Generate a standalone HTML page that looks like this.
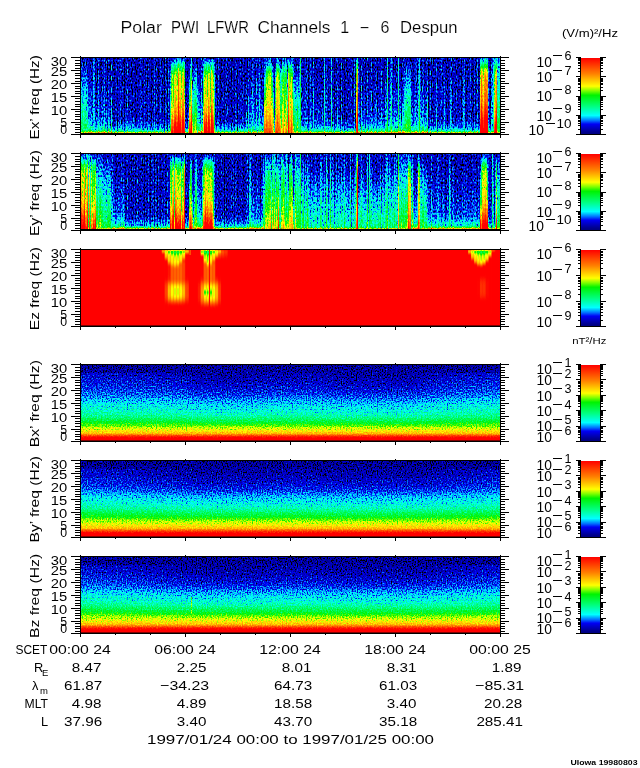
<!DOCTYPE html><html><head><meta charset="utf-8"><title>Polar PWI LFWR</title>
<style>html,body{margin:0;padding:0;background:#fff}svg{display:block}text{font-family:"Liberation Sans",sans-serif;fill:#000}</style></head><body>
<svg width="640" height="768" viewBox="0 0 640 768">
<rect width="640" height="768" fill="#fff"/>
<defs>
<linearGradient id="cb" x1="0" y1="0" x2="0" y2="1"><stop offset="0.0000" stop-color="rgb(255,0,0)"/><stop offset="0.2070" stop-color="rgb(255,128,0)"/><stop offset="0.3710" stop-color="rgb(255,255,0)"/><stop offset="0.4300" stop-color="rgb(130,255,0)"/><stop offset="0.4900" stop-color="rgb(0,243,0)"/><stop offset="0.6350" stop-color="rgb(0,255,128)"/><stop offset="0.7570" stop-color="rgb(0,255,255)"/><stop offset="0.8250" stop-color="rgb(0,110,255)"/><stop offset="0.8700" stop-color="rgb(0,0,245)"/><stop offset="0.9750" stop-color="rgb(0,0,140)"/><stop offset="1.0000" stop-color="rgb(0,0,128)"/></linearGradient>
<filter id="f0" filterUnits="userSpaceOnUse" x="81" y="58" width="419" height="76" color-interpolation-filters="sRGB">
<feTurbulence type="fractalNoise" baseFrequency="0.8 0.45" numOctaves="1" seed="3" result="t"/>
<feColorMatrix in="t" type="matrix" values="1 0 0 0 0 1 0 0 0 0 1 0 0 0 0 0 0 0 0 1" result="n0"/>
<feComponentTransfer in="n0" result="n"><feFuncR type="table" tableValues="0 0 0.02 0.18 0.34 0.5 0.6 0.7 0.8 0.9 1"/><feFuncG type="table" tableValues="0 0 0.02 0.18 0.34 0.5 0.6 0.7 0.8 0.9 1"/><feFuncB type="table" tableValues="0 0 0.02 0.18 0.34 0.5 0.6 0.7 0.8 0.9 1"/></feComponentTransfer>
<feTurbulence type="fractalNoise" baseFrequency="0.7 0.0003" numOctaves="1" seed="23" result="t2"/>
<feColorMatrix in="t2" type="matrix" values="0 1 0 0 0 0 1 0 0 0 0 1 0 0 0 0 0 0 0 1" result="n2"/>
<feComposite in="SourceGraphic" in2="n2" operator="arithmetic" k1="1.2000" k2="0.4000" k3="0" k4="0" result="s1"/>
<feComposite in="s1" in2="n" operator="arithmetic" k1="-0.2720" k2="1.1360" k3="0.3400" k4="-0.1700" result="s"/>
<feComponentTransfer in="s"><feFuncR type="table" tableValues="0.000 0.000 0.000 0.000 0.000 0.000 0.000 0.000 0.000 0.000 0.000 0.000 0.000 0.000 0.000 0.000 0.000 0.000 0.000 0.000 0.000 0.000 0.000 0.000 0.000 0.000 0.000 0.000 0.000 0.000 0.000 0.000 0.000 0.000 0.000 0.000 0.000 0.000 0.000 0.170 0.340 0.510 0.676 0.842 1.000 1.000 1.000 1.000 1.000 1.000 1.000 1.000 1.000 1.000 1.000 1.000 1.000 1.000 1.000 1.000 1.000 1.000 1.000 1.000 1.000 1.000 1.000 1.000 1.000 1.000 1.000 1.000 1.000 1.000 1.000 1.000 1.000 1.000 1.000 1.000 1.000"/><feFuncG type="table" tableValues="0.000 0.000 0.000 0.000 0.000 0.000 0.000 0.000 0.000 0.000 0.000 0.000 0.000 0.000 0.000 0.000 0.000 0.000 0.000 0.000 0.192 0.383 0.557 0.724 0.891 1.000 1.000 1.000 1.000 1.000 1.000 0.998 0.992 0.985 0.979 0.972 0.966 0.959 0.953 0.969 0.984 1.000 1.000 1.000 0.997 0.936 0.875 0.815 0.754 0.693 0.633 0.572 0.511 0.461 0.412 0.364 0.315 0.267 0.218 0.170 0.121 0.073 0.024 0.000 0.000 0.000 0.000 0.000 0.000 0.000 0.000 0.000 0.000 0.000 0.000 0.000 0.000 0.000 0.000 0.000 0.000"/><feFuncB type="table" tableValues="0.000 0.000 0.000 0.000 0.000 0.000 0.000 0.000 0.000 0.000 0.000 0.000 0.084 0.521 0.569 0.647 0.725 0.804 0.882 0.961 0.978 0.996 1.000 1.000 1.000 0.971 0.890 0.808 0.726 0.645 0.563 0.485 0.415 0.346 0.277 0.208 0.138 0.069 0.000 0.000 0.000 0.000 0.000 0.000 0.000 0.000 0.000 0.000 0.000 0.000 0.000 0.000 0.000 0.000 0.000 0.000 0.000 0.000 0.000 0.000 0.000 0.000 0.000 0.000 0.000 0.000 0.000 0.000 0.000 0.000 0.000 0.000 0.000 0.000 0.000 0.000 0.000 0.000 0.000 0.000 0.000"/></feComponentTransfer>
</filter>
<linearGradient id="g0_bg" gradientUnits="userSpaceOnUse" x1="0" y1="58" x2="0" y2="134"><stop offset="0.0000" stop-color="#353535"/><stop offset="0.0500" stop-color="#353535"/><stop offset="0.1000" stop-color="#353535"/><stop offset="0.1500" stop-color="#353535"/><stop offset="0.2000" stop-color="#353535"/><stop offset="0.2500" stop-color="#353535"/><stop offset="0.3000" stop-color="#353535"/><stop offset="0.4000" stop-color="#363636"/><stop offset="0.5000" stop-color="#363636"/><stop offset="0.6000" stop-color="#373737"/><stop offset="0.7000" stop-color="#373737"/><stop offset="0.7667" stop-color="#363636"/><stop offset="0.8333" stop-color="#393939"/><stop offset="0.8667" stop-color="#3d3d3d"/><stop offset="0.9000" stop-color="#434343"/><stop offset="0.9267" stop-color="#4a4a4a"/><stop offset="0.9500" stop-color="#535353"/><stop offset="0.9667" stop-color="#616161"/><stop offset="0.9683" stop-color="#8b8b8b"/><stop offset="0.9850" stop-color="#8b8b8b"/><stop offset="0.9867" stop-color="#000000"/><stop offset="1.0000" stop-color="#000000"/></linearGradient>
<linearGradient id="g0_s0" gradientUnits="userSpaceOnUse" x1="0" y1="58" x2="0" y2="134"><stop offset="0.0000" stop-color="#353535"/><stop offset="0.0500" stop-color="#383838"/><stop offset="0.1000" stop-color="#3b3b3b"/><stop offset="0.1500" stop-color="#3e3e3e"/><stop offset="0.2000" stop-color="#414141"/><stop offset="0.2500" stop-color="#444444"/><stop offset="0.3000" stop-color="#474747"/><stop offset="0.4000" stop-color="#4d4d4d"/><stop offset="0.5000" stop-color="#535353"/><stop offset="0.6000" stop-color="#595959"/><stop offset="0.7000" stop-color="#5f5f5f"/><stop offset="0.7667" stop-color="#636363"/><stop offset="0.8333" stop-color="#676767"/><stop offset="0.8667" stop-color="#696969"/><stop offset="0.9000" stop-color="#6b6b6b"/><stop offset="0.9267" stop-color="#6d6d6d"/><stop offset="0.9500" stop-color="#6e6e6e"/><stop offset="0.9667" stop-color="#6f6f6f"/><stop offset="0.9683" stop-color="#8b8b8b"/><stop offset="0.9850" stop-color="#8b8b8b"/><stop offset="0.9867" stop-color="#000000"/><stop offset="1.0000" stop-color="#000000"/></linearGradient>
<linearGradient id="g0_s1" gradientUnits="userSpaceOnUse" x1="0" y1="58" x2="0" y2="134"><stop offset="0.0000" stop-color="#353535"/><stop offset="0.0500" stop-color="#353535"/><stop offset="0.1000" stop-color="#353535"/><stop offset="0.1500" stop-color="#383838"/><stop offset="0.2000" stop-color="#3b3b3b"/><stop offset="0.2500" stop-color="#3e3e3e"/><stop offset="0.3000" stop-color="#414141"/><stop offset="0.4000" stop-color="#464646"/><stop offset="0.5000" stop-color="#4c4c4c"/><stop offset="0.6000" stop-color="#515151"/><stop offset="0.7000" stop-color="#575757"/><stop offset="0.7667" stop-color="#5b5b5b"/><stop offset="0.8333" stop-color="#5e5e5e"/><stop offset="0.8667" stop-color="#606060"/><stop offset="0.9000" stop-color="#626262"/><stop offset="0.9267" stop-color="#646464"/><stop offset="0.9500" stop-color="#656565"/><stop offset="0.9667" stop-color="#666666"/><stop offset="0.9683" stop-color="#8b8b8b"/><stop offset="0.9850" stop-color="#8b8b8b"/><stop offset="0.9867" stop-color="#000000"/><stop offset="1.0000" stop-color="#000000"/></linearGradient>
<linearGradient id="g0_s2" gradientUnits="userSpaceOnUse" x1="0" y1="58" x2="0" y2="134"><stop offset="0.0000" stop-color="#353535"/><stop offset="0.0500" stop-color="#353535"/><stop offset="0.1000" stop-color="#353535"/><stop offset="0.1500" stop-color="#353535"/><stop offset="0.2000" stop-color="#363636"/><stop offset="0.2500" stop-color="#373737"/><stop offset="0.3000" stop-color="#373737"/><stop offset="0.4000" stop-color="#3a3a3a"/><stop offset="0.5000" stop-color="#3c3c3c"/><stop offset="0.6000" stop-color="#3f3f3f"/><stop offset="0.7000" stop-color="#424242"/><stop offset="0.7667" stop-color="#444444"/><stop offset="0.8333" stop-color="#4a4a4a"/><stop offset="0.8667" stop-color="#4f4f4f"/><stop offset="0.9000" stop-color="#565656"/><stop offset="0.9267" stop-color="#5e5e5e"/><stop offset="0.9500" stop-color="#686868"/><stop offset="0.9667" stop-color="#787878"/><stop offset="0.9683" stop-color="#a1a1a1"/><stop offset="0.9850" stop-color="#a2a2a2"/><stop offset="0.9867" stop-color="#000000"/><stop offset="1.0000" stop-color="#000000"/></linearGradient>
<linearGradient id="g0_s3" gradientUnits="userSpaceOnUse" x1="0" y1="58" x2="0" y2="134"><stop offset="0.0000" stop-color="#484848"/><stop offset="0.0500" stop-color="#494949"/><stop offset="0.1000" stop-color="#494949"/><stop offset="0.1500" stop-color="#4a4a4a"/><stop offset="0.2000" stop-color="#4b4b4b"/><stop offset="0.2500" stop-color="#4c4c4c"/><stop offset="0.3000" stop-color="#4c4c4c"/><stop offset="0.4000" stop-color="#4e4e4e"/><stop offset="0.5000" stop-color="#505050"/><stop offset="0.6000" stop-color="#515151"/><stop offset="0.7000" stop-color="#535353"/><stop offset="0.7667" stop-color="#545454"/><stop offset="0.8333" stop-color="#555555"/><stop offset="0.8667" stop-color="#565656"/><stop offset="0.9000" stop-color="#565656"/><stop offset="0.9267" stop-color="#565656"/><stop offset="0.9500" stop-color="#575757"/><stop offset="0.9667" stop-color="#616161"/><stop offset="0.9683" stop-color="#8b8b8b"/><stop offset="0.9850" stop-color="#8b8b8b"/><stop offset="0.9867" stop-color="#000000"/><stop offset="1.0000" stop-color="#000000"/></linearGradient>
<linearGradient id="g0_s4" gradientUnits="userSpaceOnUse" x1="0" y1="58" x2="0" y2="134"><stop offset="0.0000" stop-color="#353535"/><stop offset="0.0500" stop-color="#353535"/><stop offset="0.1000" stop-color="#353535"/><stop offset="0.1500" stop-color="#353535"/><stop offset="0.2000" stop-color="#363636"/><stop offset="0.2500" stop-color="#363636"/><stop offset="0.3000" stop-color="#373737"/><stop offset="0.4000" stop-color="#383838"/><stop offset="0.5000" stop-color="#3a3a3a"/><stop offset="0.6000" stop-color="#3c3c3c"/><stop offset="0.7000" stop-color="#3f3f3f"/><stop offset="0.7667" stop-color="#404040"/><stop offset="0.8333" stop-color="#444444"/><stop offset="0.8667" stop-color="#494949"/><stop offset="0.9000" stop-color="#505050"/><stop offset="0.9267" stop-color="#585858"/><stop offset="0.9500" stop-color="#616161"/><stop offset="0.9667" stop-color="#707070"/><stop offset="0.9683" stop-color="#9a9a9a"/><stop offset="0.9850" stop-color="#9a9a9a"/><stop offset="0.9867" stop-color="#000000"/><stop offset="1.0000" stop-color="#000000"/></linearGradient>
<linearGradient id="g0_s5" gradientUnits="userSpaceOnUse" x1="0" y1="58" x2="0" y2="134"><stop offset="0.0000" stop-color="#353535"/><stop offset="0.0500" stop-color="#353535"/><stop offset="0.1000" stop-color="#353535"/><stop offset="0.1500" stop-color="#353535"/><stop offset="0.2000" stop-color="#353535"/><stop offset="0.2500" stop-color="#353535"/><stop offset="0.3000" stop-color="#353535"/><stop offset="0.4000" stop-color="#363636"/><stop offset="0.5000" stop-color="#363636"/><stop offset="0.6000" stop-color="#373737"/><stop offset="0.7000" stop-color="#373737"/><stop offset="0.7667" stop-color="#363636"/><stop offset="0.8333" stop-color="#404040"/><stop offset="0.8667" stop-color="#454545"/><stop offset="0.9000" stop-color="#494949"/><stop offset="0.9267" stop-color="#4d4d4d"/><stop offset="0.9500" stop-color="#535353"/><stop offset="0.9667" stop-color="#616161"/><stop offset="0.9683" stop-color="#8b8b8b"/><stop offset="0.9850" stop-color="#8b8b8b"/><stop offset="0.9867" stop-color="#000000"/><stop offset="1.0000" stop-color="#000000"/></linearGradient>
<linearGradient id="g0_s6" gradientUnits="userSpaceOnUse" x1="0" y1="58" x2="0" y2="134"><stop offset="0.0000" stop-color="#383838"/><stop offset="0.0500" stop-color="#3c3c3c"/><stop offset="0.1000" stop-color="#404040"/><stop offset="0.1500" stop-color="#444444"/><stop offset="0.2000" stop-color="#484848"/><stop offset="0.2500" stop-color="#4c4c4c"/><stop offset="0.3000" stop-color="#505050"/><stop offset="0.4000" stop-color="#585858"/><stop offset="0.5000" stop-color="#606060"/><stop offset="0.6000" stop-color="#686868"/><stop offset="0.7000" stop-color="#707070"/><stop offset="0.7667" stop-color="#757575"/><stop offset="0.8333" stop-color="#7a7a7a"/><stop offset="0.8667" stop-color="#7d7d7d"/><stop offset="0.9000" stop-color="#7f7f7f"/><stop offset="0.9267" stop-color="#828282"/><stop offset="0.9500" stop-color="#838383"/><stop offset="0.9667" stop-color="#858585"/><stop offset="0.9683" stop-color="#8b8b8b"/><stop offset="0.9850" stop-color="#8b8b8b"/><stop offset="0.9867" stop-color="#000000"/><stop offset="1.0000" stop-color="#000000"/></linearGradient>
<linearGradient id="g0_s7" gradientUnits="userSpaceOnUse" x1="0" y1="58" x2="0" y2="134"><stop offset="0.0000" stop-color="#3b3b3b"/><stop offset="0.0500" stop-color="#494949"/><stop offset="0.1000" stop-color="#5d5d5d"/><stop offset="0.1500" stop-color="#6f6f6f"/><stop offset="0.2000" stop-color="#808080"/><stop offset="0.2500" stop-color="#878787"/><stop offset="0.3000" stop-color="#8b8b8b"/><stop offset="0.4000" stop-color="#8d8d8d"/><stop offset="0.5000" stop-color="#919191"/><stop offset="0.6000" stop-color="#979797"/><stop offset="0.7000" stop-color="#a1a1a1"/><stop offset="0.7667" stop-color="#acacac"/><stop offset="0.8333" stop-color="#b9b9b9"/><stop offset="0.8667" stop-color="#c1c1c1"/><stop offset="0.9000" stop-color="#c9c9c9"/><stop offset="0.9267" stop-color="#cfcfcf"/><stop offset="0.9500" stop-color="#d4d4d4"/><stop offset="0.9667" stop-color="#d8d8d8"/><stop offset="0.9683" stop-color="#d8d8d8"/><stop offset="0.9850" stop-color="#dcdcdc"/><stop offset="0.9867" stop-color="#000000"/><stop offset="1.0000" stop-color="#000000"/></linearGradient>
<linearGradient id="g0_s8" gradientUnits="userSpaceOnUse" x1="0" y1="58" x2="0" y2="134"><stop offset="0.0000" stop-color="#414141"/><stop offset="0.0500" stop-color="#505050"/><stop offset="0.1000" stop-color="#646464"/><stop offset="0.1500" stop-color="#757575"/><stop offset="0.2000" stop-color="#868686"/><stop offset="0.2500" stop-color="#8e8e8e"/><stop offset="0.3000" stop-color="#919191"/><stop offset="0.4000" stop-color="#939393"/><stop offset="0.5000" stop-color="#979797"/><stop offset="0.6000" stop-color="#9e9e9e"/><stop offset="0.7000" stop-color="#a7a7a7"/><stop offset="0.7667" stop-color="#b2b2b2"/><stop offset="0.8333" stop-color="#c0c0c0"/><stop offset="0.8667" stop-color="#c7c7c7"/><stop offset="0.9000" stop-color="#cfcfcf"/><stop offset="0.9267" stop-color="#d6d6d6"/><stop offset="0.9500" stop-color="#dbdbdb"/><stop offset="0.9667" stop-color="#dedede"/><stop offset="0.9683" stop-color="#dfdfdf"/><stop offset="0.9850" stop-color="#e2e2e2"/><stop offset="0.9867" stop-color="#000000"/><stop offset="1.0000" stop-color="#000000"/></linearGradient>
<linearGradient id="g0_s9" gradientUnits="userSpaceOnUse" x1="0" y1="58" x2="0" y2="134"><stop offset="0.0000" stop-color="#404040"/><stop offset="0.0500" stop-color="#464646"/><stop offset="0.1000" stop-color="#4c4c4c"/><stop offset="0.1500" stop-color="#525252"/><stop offset="0.2000" stop-color="#585858"/><stop offset="0.2500" stop-color="#5e5e5e"/><stop offset="0.3000" stop-color="#646464"/><stop offset="0.4000" stop-color="#707070"/><stop offset="0.5000" stop-color="#7c7c7c"/><stop offset="0.6000" stop-color="#878787"/><stop offset="0.7000" stop-color="#939393"/><stop offset="0.7667" stop-color="#9b9b9b"/><stop offset="0.8333" stop-color="#a3a3a3"/><stop offset="0.8667" stop-color="#a7a7a7"/><stop offset="0.9000" stop-color="#ababab"/><stop offset="0.9267" stop-color="#afafaf"/><stop offset="0.9500" stop-color="#b1b1b1"/><stop offset="0.9667" stop-color="#b3b3b3"/><stop offset="0.9683" stop-color="#b3b3b3"/><stop offset="0.9850" stop-color="#b5b5b5"/><stop offset="0.9867" stop-color="#000000"/><stop offset="1.0000" stop-color="#000000"/></linearGradient>
<linearGradient id="g0_s10" gradientUnits="userSpaceOnUse" x1="0" y1="58" x2="0" y2="134"><stop offset="0.0000" stop-color="#353535"/><stop offset="0.0500" stop-color="#393939"/><stop offset="0.1000" stop-color="#4d4d4d"/><stop offset="0.1500" stop-color="#5f5f5f"/><stop offset="0.2000" stop-color="#707070"/><stop offset="0.2500" stop-color="#787878"/><stop offset="0.3000" stop-color="#7b7b7b"/><stop offset="0.4000" stop-color="#7d7d7d"/><stop offset="0.5000" stop-color="#818181"/><stop offset="0.6000" stop-color="#888888"/><stop offset="0.7000" stop-color="#919191"/><stop offset="0.7667" stop-color="#9c9c9c"/><stop offset="0.8333" stop-color="#a9a9a9"/><stop offset="0.8667" stop-color="#b1b1b1"/><stop offset="0.9000" stop-color="#b9b9b9"/><stop offset="0.9267" stop-color="#bfbfbf"/><stop offset="0.9500" stop-color="#c4c4c4"/><stop offset="0.9667" stop-color="#c8c8c8"/><stop offset="0.9683" stop-color="#c8c8c8"/><stop offset="0.9850" stop-color="#cccccc"/><stop offset="0.9867" stop-color="#000000"/><stop offset="1.0000" stop-color="#000000"/></linearGradient>
<linearGradient id="g0_s11" gradientUnits="userSpaceOnUse" x1="0" y1="58" x2="0" y2="134"><stop offset="0.0000" stop-color="#353535"/><stop offset="0.0500" stop-color="#353535"/><stop offset="0.1000" stop-color="#383838"/><stop offset="0.1500" stop-color="#3c3c3c"/><stop offset="0.2000" stop-color="#414141"/><stop offset="0.2500" stop-color="#454545"/><stop offset="0.3000" stop-color="#494949"/><stop offset="0.4000" stop-color="#525252"/><stop offset="0.5000" stop-color="#5a5a5a"/><stop offset="0.6000" stop-color="#626262"/><stop offset="0.7000" stop-color="#6b6b6b"/><stop offset="0.7667" stop-color="#717171"/><stop offset="0.8333" stop-color="#767676"/><stop offset="0.8667" stop-color="#797979"/><stop offset="0.9000" stop-color="#7c7c7c"/><stop offset="0.9267" stop-color="#7e7e7e"/><stop offset="0.9500" stop-color="#808080"/><stop offset="0.9667" stop-color="#818181"/><stop offset="0.9683" stop-color="#8b8b8b"/><stop offset="0.9850" stop-color="#8b8b8b"/><stop offset="0.9867" stop-color="#000000"/><stop offset="1.0000" stop-color="#000000"/></linearGradient>
<linearGradient id="g0_s12" gradientUnits="userSpaceOnUse" x1="0" y1="58" x2="0" y2="134"><stop offset="0.0000" stop-color="#353535"/><stop offset="0.0500" stop-color="#353535"/><stop offset="0.1000" stop-color="#353535"/><stop offset="0.1500" stop-color="#363636"/><stop offset="0.2000" stop-color="#363636"/><stop offset="0.2500" stop-color="#373737"/><stop offset="0.3000" stop-color="#383838"/><stop offset="0.4000" stop-color="#3b3b3b"/><stop offset="0.5000" stop-color="#3e3e3e"/><stop offset="0.6000" stop-color="#424242"/><stop offset="0.7000" stop-color="#464646"/><stop offset="0.7667" stop-color="#494949"/><stop offset="0.8333" stop-color="#505050"/><stop offset="0.8667" stop-color="#555555"/><stop offset="0.9000" stop-color="#5d5d5d"/><stop offset="0.9267" stop-color="#656565"/><stop offset="0.9500" stop-color="#707070"/><stop offset="0.9667" stop-color="#7f7f7f"/><stop offset="0.9683" stop-color="#a9a9a9"/><stop offset="0.9850" stop-color="#aaaaaa"/><stop offset="0.9867" stop-color="#000000"/><stop offset="1.0000" stop-color="#000000"/></linearGradient>
<linearGradient id="g0_s13" gradientUnits="userSpaceOnUse" x1="0" y1="58" x2="0" y2="134"><stop offset="0.0000" stop-color="#404040"/><stop offset="0.0500" stop-color="#444444"/><stop offset="0.1000" stop-color="#494949"/><stop offset="0.1500" stop-color="#4d4d4d"/><stop offset="0.2000" stop-color="#515151"/><stop offset="0.2500" stop-color="#565656"/><stop offset="0.3000" stop-color="#5a5a5a"/><stop offset="0.4000" stop-color="#636363"/><stop offset="0.5000" stop-color="#6c6c6c"/><stop offset="0.6000" stop-color="#747474"/><stop offset="0.7000" stop-color="#7d7d7d"/><stop offset="0.7667" stop-color="#838383"/><stop offset="0.8333" stop-color="#898989"/><stop offset="0.8667" stop-color="#8c8c8c"/><stop offset="0.9000" stop-color="#8f8f8f"/><stop offset="0.9267" stop-color="#919191"/><stop offset="0.9500" stop-color="#939393"/><stop offset="0.9667" stop-color="#949494"/><stop offset="0.9683" stop-color="#959595"/><stop offset="0.9850" stop-color="#969696"/><stop offset="0.9867" stop-color="#000000"/><stop offset="1.0000" stop-color="#000000"/></linearGradient>
<linearGradient id="g0_s14" gradientUnits="userSpaceOnUse" x1="0" y1="58" x2="0" y2="134"><stop offset="0.0000" stop-color="#404040"/><stop offset="0.0500" stop-color="#424242"/><stop offset="0.1000" stop-color="#444444"/><stop offset="0.1500" stop-color="#464646"/><stop offset="0.2000" stop-color="#484848"/><stop offset="0.2500" stop-color="#4a4a4a"/><stop offset="0.3000" stop-color="#4c4c4c"/><stop offset="0.4000" stop-color="#505050"/><stop offset="0.5000" stop-color="#545454"/><stop offset="0.6000" stop-color="#585858"/><stop offset="0.7000" stop-color="#5c5c5c"/><stop offset="0.7667" stop-color="#5e5e5e"/><stop offset="0.8333" stop-color="#616161"/><stop offset="0.8667" stop-color="#626262"/><stop offset="0.9000" stop-color="#646464"/><stop offset="0.9267" stop-color="#656565"/><stop offset="0.9500" stop-color="#666666"/><stop offset="0.9667" stop-color="#666666"/><stop offset="0.9683" stop-color="#8b8b8b"/><stop offset="0.9850" stop-color="#8b8b8b"/><stop offset="0.9867" stop-color="#000000"/><stop offset="1.0000" stop-color="#000000"/></linearGradient>
<linearGradient id="g0_s15" gradientUnits="userSpaceOnUse" x1="0" y1="58" x2="0" y2="134"><stop offset="0.0000" stop-color="#383838"/><stop offset="0.0500" stop-color="#3d3d3d"/><stop offset="0.1000" stop-color="#414141"/><stop offset="0.1500" stop-color="#464646"/><stop offset="0.2000" stop-color="#4b4b4b"/><stop offset="0.2500" stop-color="#505050"/><stop offset="0.3000" stop-color="#545454"/><stop offset="0.4000" stop-color="#5e5e5e"/><stop offset="0.5000" stop-color="#686868"/><stop offset="0.6000" stop-color="#717171"/><stop offset="0.7000" stop-color="#7b7b7b"/><stop offset="0.7667" stop-color="#818181"/><stop offset="0.8333" stop-color="#878787"/><stop offset="0.8667" stop-color="#8b8b8b"/><stop offset="0.9000" stop-color="#8e8e8e"/><stop offset="0.9267" stop-color="#909090"/><stop offset="0.9500" stop-color="#939393"/><stop offset="0.9667" stop-color="#949494"/><stop offset="0.9683" stop-color="#949494"/><stop offset="0.9850" stop-color="#969696"/><stop offset="0.9867" stop-color="#000000"/><stop offset="1.0000" stop-color="#000000"/></linearGradient>
<linearGradient id="g0_s16" gradientUnits="userSpaceOnUse" x1="0" y1="58" x2="0" y2="134"><stop offset="0.0000" stop-color="#353535"/><stop offset="0.0500" stop-color="#3d3d3d"/><stop offset="0.1000" stop-color="#4c4c4c"/><stop offset="0.1500" stop-color="#606060"/><stop offset="0.2000" stop-color="#6e6e6e"/><stop offset="0.2500" stop-color="#787878"/><stop offset="0.3000" stop-color="#7b7b7b"/><stop offset="0.4000" stop-color="#808080"/><stop offset="0.5000" stop-color="#838383"/><stop offset="0.6000" stop-color="#878787"/><stop offset="0.7000" stop-color="#8c8c8c"/><stop offset="0.7667" stop-color="#919191"/><stop offset="0.8333" stop-color="#969696"/><stop offset="0.8667" stop-color="#9a9a9a"/><stop offset="0.9000" stop-color="#9e9e9e"/><stop offset="0.9267" stop-color="#a2a2a2"/><stop offset="0.9500" stop-color="#a5a5a5"/><stop offset="0.9667" stop-color="#a7a7a7"/><stop offset="0.9683" stop-color="#a7a7a7"/><stop offset="0.9850" stop-color="#a9a9a9"/><stop offset="0.9867" stop-color="#000000"/><stop offset="1.0000" stop-color="#000000"/></linearGradient>
<linearGradient id="g0_s17" gradientUnits="userSpaceOnUse" x1="0" y1="58" x2="0" y2="134"><stop offset="0.0000" stop-color="#3e3e3e"/><stop offset="0.0500" stop-color="#494949"/><stop offset="0.1000" stop-color="#595959"/><stop offset="0.1500" stop-color="#6c6c6c"/><stop offset="0.2000" stop-color="#7b7b7b"/><stop offset="0.2500" stop-color="#848484"/><stop offset="0.3000" stop-color="#888888"/><stop offset="0.4000" stop-color="#8d8d8d"/><stop offset="0.5000" stop-color="#8f8f8f"/><stop offset="0.6000" stop-color="#939393"/><stop offset="0.7000" stop-color="#989898"/><stop offset="0.7667" stop-color="#9d9d9d"/><stop offset="0.8333" stop-color="#a3a3a3"/><stop offset="0.8667" stop-color="#a7a7a7"/><stop offset="0.9000" stop-color="#ababab"/><stop offset="0.9267" stop-color="#aeaeae"/><stop offset="0.9500" stop-color="#b1b1b1"/><stop offset="0.9667" stop-color="#b3b3b3"/><stop offset="0.9683" stop-color="#b3b3b3"/><stop offset="0.9850" stop-color="#b5b5b5"/><stop offset="0.9867" stop-color="#000000"/><stop offset="1.0000" stop-color="#000000"/></linearGradient>
<linearGradient id="g0_s18" gradientUnits="userSpaceOnUse" x1="0" y1="58" x2="0" y2="134"><stop offset="0.0000" stop-color="#353535"/><stop offset="0.0500" stop-color="#393939"/><stop offset="0.1000" stop-color="#494949"/><stop offset="0.1500" stop-color="#5c5c5c"/><stop offset="0.2000" stop-color="#6b6b6b"/><stop offset="0.2500" stop-color="#747474"/><stop offset="0.3000" stop-color="#787878"/><stop offset="0.4000" stop-color="#7d7d7d"/><stop offset="0.5000" stop-color="#808080"/><stop offset="0.6000" stop-color="#838383"/><stop offset="0.7000" stop-color="#888888"/><stop offset="0.7667" stop-color="#8e8e8e"/><stop offset="0.8333" stop-color="#939393"/><stop offset="0.8667" stop-color="#979797"/><stop offset="0.9000" stop-color="#9b9b9b"/><stop offset="0.9267" stop-color="#9f9f9f"/><stop offset="0.9500" stop-color="#a1a1a1"/><stop offset="0.9667" stop-color="#a3a3a3"/><stop offset="0.9683" stop-color="#a4a4a4"/><stop offset="0.9850" stop-color="#a6a6a6"/><stop offset="0.9867" stop-color="#000000"/><stop offset="1.0000" stop-color="#000000"/></linearGradient>
<linearGradient id="g0_s19" gradientUnits="userSpaceOnUse" x1="0" y1="58" x2="0" y2="134"><stop offset="0.0000" stop-color="#353535"/><stop offset="0.0500" stop-color="#363636"/><stop offset="0.1000" stop-color="#464646"/><stop offset="0.1500" stop-color="#595959"/><stop offset="0.2000" stop-color="#686868"/><stop offset="0.2500" stop-color="#717171"/><stop offset="0.3000" stop-color="#757575"/><stop offset="0.4000" stop-color="#797979"/><stop offset="0.5000" stop-color="#7c7c7c"/><stop offset="0.6000" stop-color="#808080"/><stop offset="0.7000" stop-color="#858585"/><stop offset="0.7667" stop-color="#8a8a8a"/><stop offset="0.8333" stop-color="#8f8f8f"/><stop offset="0.8667" stop-color="#949494"/><stop offset="0.9000" stop-color="#989898"/><stop offset="0.9267" stop-color="#9b9b9b"/><stop offset="0.9500" stop-color="#9e9e9e"/><stop offset="0.9667" stop-color="#a0a0a0"/><stop offset="0.9683" stop-color="#a0a0a0"/><stop offset="0.9850" stop-color="#a2a2a2"/><stop offset="0.9867" stop-color="#000000"/><stop offset="1.0000" stop-color="#000000"/></linearGradient>
<linearGradient id="g0_s20" gradientUnits="userSpaceOnUse" x1="0" y1="58" x2="0" y2="134"><stop offset="0.0000" stop-color="#383838"/><stop offset="0.0500" stop-color="#434343"/><stop offset="0.1000" stop-color="#535353"/><stop offset="0.1500" stop-color="#666666"/><stop offset="0.2000" stop-color="#747474"/><stop offset="0.2500" stop-color="#7e7e7e"/><stop offset="0.3000" stop-color="#828282"/><stop offset="0.4000" stop-color="#868686"/><stop offset="0.5000" stop-color="#898989"/><stop offset="0.6000" stop-color="#8d8d8d"/><stop offset="0.7000" stop-color="#929292"/><stop offset="0.7667" stop-color="#979797"/><stop offset="0.8333" stop-color="#9c9c9c"/><stop offset="0.8667" stop-color="#a0a0a0"/><stop offset="0.9000" stop-color="#a5a5a5"/><stop offset="0.9267" stop-color="#a8a8a8"/><stop offset="0.9500" stop-color="#ababab"/><stop offset="0.9667" stop-color="#adadad"/><stop offset="0.9683" stop-color="#adadad"/><stop offset="0.9850" stop-color="#afafaf"/><stop offset="0.9867" stop-color="#000000"/><stop offset="1.0000" stop-color="#000000"/></linearGradient>
<linearGradient id="g0_s21" gradientUnits="userSpaceOnUse" x1="0" y1="58" x2="0" y2="134"><stop offset="0.0000" stop-color="#484848"/><stop offset="0.0500" stop-color="#4a4a4a"/><stop offset="0.1000" stop-color="#4c4c4c"/><stop offset="0.1500" stop-color="#4f4f4f"/><stop offset="0.2000" stop-color="#515151"/><stop offset="0.2500" stop-color="#545454"/><stop offset="0.3000" stop-color="#565656"/><stop offset="0.4000" stop-color="#5b5b5b"/><stop offset="0.5000" stop-color="#606060"/><stop offset="0.6000" stop-color="#646464"/><stop offset="0.7000" stop-color="#696969"/><stop offset="0.7667" stop-color="#6c6c6c"/><stop offset="0.8333" stop-color="#707070"/><stop offset="0.8667" stop-color="#717171"/><stop offset="0.9000" stop-color="#737373"/><stop offset="0.9267" stop-color="#747474"/><stop offset="0.9500" stop-color="#757575"/><stop offset="0.9667" stop-color="#767676"/><stop offset="0.9683" stop-color="#8b8b8b"/><stop offset="0.9850" stop-color="#8b8b8b"/><stop offset="0.9867" stop-color="#000000"/><stop offset="1.0000" stop-color="#000000"/></linearGradient>
<linearGradient id="g0_s22" gradientUnits="userSpaceOnUse" x1="0" y1="58" x2="0" y2="134"><stop offset="0.0000" stop-color="#404040"/><stop offset="0.0500" stop-color="#444444"/><stop offset="0.1000" stop-color="#494949"/><stop offset="0.1500" stop-color="#4d4d4d"/><stop offset="0.2000" stop-color="#525252"/><stop offset="0.2500" stop-color="#565656"/><stop offset="0.3000" stop-color="#5b5b5b"/><stop offset="0.4000" stop-color="#646464"/><stop offset="0.5000" stop-color="#6d6d6d"/><stop offset="0.6000" stop-color="#767676"/><stop offset="0.7000" stop-color="#7f7f7f"/><stop offset="0.7667" stop-color="#858585"/><stop offset="0.8333" stop-color="#8b8b8b"/><stop offset="0.8667" stop-color="#8e8e8e"/><stop offset="0.9000" stop-color="#929292"/><stop offset="0.9267" stop-color="#949494"/><stop offset="0.9500" stop-color="#969696"/><stop offset="0.9667" stop-color="#989898"/><stop offset="0.9683" stop-color="#989898"/><stop offset="0.9850" stop-color="#999999"/><stop offset="0.9867" stop-color="#000000"/><stop offset="1.0000" stop-color="#000000"/></linearGradient>
<linearGradient id="g0_s23" gradientUnits="userSpaceOnUse" x1="0" y1="58" x2="0" y2="134"><stop offset="0.0000" stop-color="#3b3b3b"/><stop offset="0.0500" stop-color="#464646"/><stop offset="0.1000" stop-color="#565656"/><stop offset="0.1500" stop-color="#696969"/><stop offset="0.2000" stop-color="#787878"/><stop offset="0.2500" stop-color="#818181"/><stop offset="0.3000" stop-color="#858585"/><stop offset="0.4000" stop-color="#898989"/><stop offset="0.5000" stop-color="#8c8c8c"/><stop offset="0.6000" stop-color="#909090"/><stop offset="0.7000" stop-color="#959595"/><stop offset="0.7667" stop-color="#9a9a9a"/><stop offset="0.8333" stop-color="#9f9f9f"/><stop offset="0.8667" stop-color="#a4a4a4"/><stop offset="0.9000" stop-color="#a8a8a8"/><stop offset="0.9267" stop-color="#ababab"/><stop offset="0.9500" stop-color="#aeaeae"/><stop offset="0.9667" stop-color="#b0b0b0"/><stop offset="0.9683" stop-color="#b0b0b0"/><stop offset="0.9850" stop-color="#b2b2b2"/><stop offset="0.9867" stop-color="#000000"/><stop offset="1.0000" stop-color="#000000"/></linearGradient>
<linearGradient id="g0_s24" gradientUnits="userSpaceOnUse" x1="0" y1="58" x2="0" y2="134"><stop offset="0.0000" stop-color="#353535"/><stop offset="0.0500" stop-color="#353535"/><stop offset="0.1000" stop-color="#353535"/><stop offset="0.1500" stop-color="#373737"/><stop offset="0.2000" stop-color="#3a3a3a"/><stop offset="0.2500" stop-color="#3e3e3e"/><stop offset="0.3000" stop-color="#424242"/><stop offset="0.4000" stop-color="#4a4a4a"/><stop offset="0.5000" stop-color="#515151"/><stop offset="0.6000" stop-color="#595959"/><stop offset="0.7000" stop-color="#616161"/><stop offset="0.7667" stop-color="#666666"/><stop offset="0.8333" stop-color="#6b6b6b"/><stop offset="0.8667" stop-color="#6d6d6d"/><stop offset="0.9000" stop-color="#707070"/><stop offset="0.9267" stop-color="#727272"/><stop offset="0.9500" stop-color="#747474"/><stop offset="0.9667" stop-color="#757575"/><stop offset="0.9683" stop-color="#8b8b8b"/><stop offset="0.9850" stop-color="#8b8b8b"/><stop offset="0.9867" stop-color="#000000"/><stop offset="1.0000" stop-color="#000000"/></linearGradient>
<linearGradient id="g0_s25" gradientUnits="userSpaceOnUse" x1="0" y1="58" x2="0" y2="134"><stop offset="0.0000" stop-color="#787878"/><stop offset="0.0500" stop-color="#787878"/><stop offset="0.1000" stop-color="#797979"/><stop offset="0.1500" stop-color="#7a7a7a"/><stop offset="0.2000" stop-color="#7b7b7b"/><stop offset="0.2500" stop-color="#7c7c7c"/><stop offset="0.3000" stop-color="#7c7c7c"/><stop offset="0.4000" stop-color="#7e7e7e"/><stop offset="0.5000" stop-color="#808080"/><stop offset="0.6000" stop-color="#818181"/><stop offset="0.7000" stop-color="#838383"/><stop offset="0.7667" stop-color="#848484"/><stop offset="0.8333" stop-color="#858585"/><stop offset="0.8667" stop-color="#858585"/><stop offset="0.9000" stop-color="#868686"/><stop offset="0.9267" stop-color="#868686"/><stop offset="0.9500" stop-color="#878787"/><stop offset="0.9667" stop-color="#878787"/><stop offset="0.9683" stop-color="#8b8b8b"/><stop offset="0.9850" stop-color="#8b8b8b"/><stop offset="0.9867" stop-color="#000000"/><stop offset="1.0000" stop-color="#000000"/></linearGradient>
<linearGradient id="g0_s26" gradientUnits="userSpaceOnUse" x1="0" y1="58" x2="0" y2="134"><stop offset="0.0000" stop-color="#353535"/><stop offset="0.0500" stop-color="#353535"/><stop offset="0.1000" stop-color="#353535"/><stop offset="0.1500" stop-color="#353535"/><stop offset="0.2000" stop-color="#353535"/><stop offset="0.2500" stop-color="#363636"/><stop offset="0.3000" stop-color="#363636"/><stop offset="0.4000" stop-color="#373737"/><stop offset="0.5000" stop-color="#383838"/><stop offset="0.6000" stop-color="#3a3a3a"/><stop offset="0.7000" stop-color="#3b3b3b"/><stop offset="0.7667" stop-color="#3b3b3b"/><stop offset="0.8333" stop-color="#3f3f3f"/><stop offset="0.8667" stop-color="#434343"/><stop offset="0.9000" stop-color="#494949"/><stop offset="0.9267" stop-color="#515151"/><stop offset="0.9500" stop-color="#5a5a5a"/><stop offset="0.9667" stop-color="#696969"/><stop offset="0.9683" stop-color="#929292"/><stop offset="0.9850" stop-color="#929292"/><stop offset="0.9867" stop-color="#000000"/><stop offset="1.0000" stop-color="#000000"/></linearGradient>
<linearGradient id="g0_s27" gradientUnits="userSpaceOnUse" x1="0" y1="58" x2="0" y2="134"><stop offset="0.0000" stop-color="#404040"/><stop offset="0.0500" stop-color="#414141"/><stop offset="0.1000" stop-color="#424242"/><stop offset="0.1500" stop-color="#434343"/><stop offset="0.2000" stop-color="#454545"/><stop offset="0.2500" stop-color="#464646"/><stop offset="0.3000" stop-color="#474747"/><stop offset="0.4000" stop-color="#494949"/><stop offset="0.5000" stop-color="#4c4c4c"/><stop offset="0.6000" stop-color="#4e4e4e"/><stop offset="0.7000" stop-color="#505050"/><stop offset="0.7667" stop-color="#525252"/><stop offset="0.8333" stop-color="#545454"/><stop offset="0.8667" stop-color="#545454"/><stop offset="0.9000" stop-color="#555555"/><stop offset="0.9267" stop-color="#565656"/><stop offset="0.9500" stop-color="#565656"/><stop offset="0.9667" stop-color="#616161"/><stop offset="0.9683" stop-color="#8b8b8b"/><stop offset="0.9850" stop-color="#8b8b8b"/><stop offset="0.9867" stop-color="#000000"/><stop offset="1.0000" stop-color="#000000"/></linearGradient>
<linearGradient id="g0_s28" gradientUnits="userSpaceOnUse" x1="0" y1="58" x2="0" y2="134"><stop offset="0.0000" stop-color="#4e4e4e"/><stop offset="0.0500" stop-color="#5c5c5c"/><stop offset="0.1000" stop-color="#707070"/><stop offset="0.1500" stop-color="#828282"/><stop offset="0.2000" stop-color="#939393"/><stop offset="0.2500" stop-color="#9b9b9b"/><stop offset="0.3000" stop-color="#9e9e9e"/><stop offset="0.4000" stop-color="#a0a0a0"/><stop offset="0.5000" stop-color="#a4a4a4"/><stop offset="0.6000" stop-color="#ababab"/><stop offset="0.7000" stop-color="#b4b4b4"/><stop offset="0.7667" stop-color="#bfbfbf"/><stop offset="0.8333" stop-color="#cccccc"/><stop offset="0.8667" stop-color="#d4d4d4"/><stop offset="0.9000" stop-color="#dcdcdc"/><stop offset="0.9267" stop-color="#e2e2e2"/><stop offset="0.9500" stop-color="#e7e7e7"/><stop offset="0.9667" stop-color="#ebebeb"/><stop offset="0.9683" stop-color="#ebebeb"/><stop offset="0.9850" stop-color="#efefef"/><stop offset="0.9867" stop-color="#000000"/><stop offset="1.0000" stop-color="#000000"/></linearGradient>
<linearGradient id="g0_s29" gradientUnits="userSpaceOnUse" x1="0" y1="58" x2="0" y2="134"><stop offset="0.0000" stop-color="#353535"/><stop offset="0.0500" stop-color="#353535"/><stop offset="0.1000" stop-color="#353535"/><stop offset="0.1500" stop-color="#353535"/><stop offset="0.2000" stop-color="#363636"/><stop offset="0.2500" stop-color="#363636"/><stop offset="0.3000" stop-color="#363636"/><stop offset="0.4000" stop-color="#383838"/><stop offset="0.5000" stop-color="#393939"/><stop offset="0.6000" stop-color="#3b3b3b"/><stop offset="0.7000" stop-color="#3d3d3d"/><stop offset="0.7667" stop-color="#3e3e3e"/><stop offset="0.8333" stop-color="#424242"/><stop offset="0.8667" stop-color="#464646"/><stop offset="0.9000" stop-color="#4d4d4d"/><stop offset="0.9267" stop-color="#555555"/><stop offset="0.9500" stop-color="#5e5e5e"/><stop offset="0.9667" stop-color="#6d6d6d"/><stop offset="0.9683" stop-color="#979797"/><stop offset="0.9850" stop-color="#979797"/><stop offset="0.9867" stop-color="#000000"/><stop offset="1.0000" stop-color="#000000"/></linearGradient>
<linearGradient id="g0_s30" gradientUnits="userSpaceOnUse" x1="0" y1="58" x2="0" y2="134"><stop offset="0.0000" stop-color="#484848"/><stop offset="0.0500" stop-color="#4a4a4a"/><stop offset="0.1000" stop-color="#4c4c4c"/><stop offset="0.1500" stop-color="#4e4e4e"/><stop offset="0.2000" stop-color="#505050"/><stop offset="0.2500" stop-color="#525252"/><stop offset="0.3000" stop-color="#545454"/><stop offset="0.4000" stop-color="#585858"/><stop offset="0.5000" stop-color="#5c5c5c"/><stop offset="0.6000" stop-color="#606060"/><stop offset="0.7000" stop-color="#646464"/><stop offset="0.7667" stop-color="#666666"/><stop offset="0.8333" stop-color="#696969"/><stop offset="0.8667" stop-color="#6a6a6a"/><stop offset="0.9000" stop-color="#6c6c6c"/><stop offset="0.9267" stop-color="#6d6d6d"/><stop offset="0.9500" stop-color="#6e6e6e"/><stop offset="0.9667" stop-color="#6e6e6e"/><stop offset="0.9683" stop-color="#8b8b8b"/><stop offset="0.9850" stop-color="#8b8b8b"/><stop offset="0.9867" stop-color="#000000"/><stop offset="1.0000" stop-color="#000000"/></linearGradient>
<linearGradient id="g0_s31" gradientUnits="userSpaceOnUse" x1="0" y1="58" x2="0" y2="134"><stop offset="0.0000" stop-color="#353535"/><stop offset="0.0500" stop-color="#383838"/><stop offset="0.1000" stop-color="#3c3c3c"/><stop offset="0.1500" stop-color="#3f3f3f"/><stop offset="0.2000" stop-color="#434343"/><stop offset="0.2500" stop-color="#464646"/><stop offset="0.3000" stop-color="#4a4a4a"/><stop offset="0.4000" stop-color="#515151"/><stop offset="0.5000" stop-color="#585858"/><stop offset="0.6000" stop-color="#5f5f5f"/><stop offset="0.7000" stop-color="#666666"/><stop offset="0.7667" stop-color="#6a6a6a"/><stop offset="0.8333" stop-color="#6f6f6f"/><stop offset="0.8667" stop-color="#717171"/><stop offset="0.9000" stop-color="#747474"/><stop offset="0.9267" stop-color="#767676"/><stop offset="0.9500" stop-color="#777777"/><stop offset="0.9667" stop-color="#787878"/><stop offset="0.9683" stop-color="#8b8b8b"/><stop offset="0.9850" stop-color="#8b8b8b"/><stop offset="0.9867" stop-color="#000000"/><stop offset="1.0000" stop-color="#000000"/></linearGradient>
<linearGradient id="g0_s32" gradientUnits="userSpaceOnUse" x1="0" y1="58" x2="0" y2="134"><stop offset="0.0000" stop-color="#484848"/><stop offset="0.0500" stop-color="#4b4b4b"/><stop offset="0.1000" stop-color="#4d4d4d"/><stop offset="0.1500" stop-color="#505050"/><stop offset="0.2000" stop-color="#535353"/><stop offset="0.2500" stop-color="#565656"/><stop offset="0.3000" stop-color="#585858"/><stop offset="0.4000" stop-color="#5e5e5e"/><stop offset="0.5000" stop-color="#646464"/><stop offset="0.6000" stop-color="#696969"/><stop offset="0.7000" stop-color="#6f6f6f"/><stop offset="0.7667" stop-color="#727272"/><stop offset="0.8333" stop-color="#767676"/><stop offset="0.8667" stop-color="#787878"/><stop offset="0.9000" stop-color="#7a7a7a"/><stop offset="0.9267" stop-color="#7b7b7b"/><stop offset="0.9500" stop-color="#7d7d7d"/><stop offset="0.9667" stop-color="#7e7e7e"/><stop offset="0.9683" stop-color="#8b8b8b"/><stop offset="0.9850" stop-color="#8b8b8b"/><stop offset="0.9867" stop-color="#000000"/><stop offset="1.0000" stop-color="#000000"/></linearGradient>
<linearGradient id="g0_s33" gradientUnits="userSpaceOnUse" x1="0" y1="58" x2="0" y2="134"><stop offset="0.0000" stop-color="#3b3b3b"/><stop offset="0.0500" stop-color="#3d3d3d"/><stop offset="0.1000" stop-color="#3f3f3f"/><stop offset="0.1500" stop-color="#404040"/><stop offset="0.2000" stop-color="#424242"/><stop offset="0.2500" stop-color="#444444"/><stop offset="0.3000" stop-color="#464646"/><stop offset="0.4000" stop-color="#4a4a4a"/><stop offset="0.5000" stop-color="#4d4d4d"/><stop offset="0.6000" stop-color="#515151"/><stop offset="0.7000" stop-color="#555555"/><stop offset="0.7667" stop-color="#575757"/><stop offset="0.8333" stop-color="#5a5a5a"/><stop offset="0.8667" stop-color="#5b5b5b"/><stop offset="0.9000" stop-color="#5c5c5c"/><stop offset="0.9267" stop-color="#5d5d5d"/><stop offset="0.9500" stop-color="#5e5e5e"/><stop offset="0.9667" stop-color="#616161"/><stop offset="0.9683" stop-color="#8b8b8b"/><stop offset="0.9850" stop-color="#8b8b8b"/><stop offset="0.9867" stop-color="#000000"/><stop offset="1.0000" stop-color="#000000"/></linearGradient>
<linearGradient id="g0_s34" gradientUnits="userSpaceOnUse" x1="0" y1="58" x2="0" y2="134"><stop offset="0.0000" stop-color="#4b4b4b"/><stop offset="0.0500" stop-color="#595959"/><stop offset="0.1000" stop-color="#6d6d6d"/><stop offset="0.1500" stop-color="#7f7f7f"/><stop offset="0.2000" stop-color="#8f8f8f"/><stop offset="0.2500" stop-color="#979797"/><stop offset="0.3000" stop-color="#9b9b9b"/><stop offset="0.4000" stop-color="#9d9d9d"/><stop offset="0.5000" stop-color="#a1a1a1"/><stop offset="0.6000" stop-color="#a7a7a7"/><stop offset="0.7000" stop-color="#b1b1b1"/><stop offset="0.7667" stop-color="#bcbcbc"/><stop offset="0.8333" stop-color="#c9c9c9"/><stop offset="0.8667" stop-color="#d1d1d1"/><stop offset="0.9000" stop-color="#d9d9d9"/><stop offset="0.9267" stop-color="#dfdfdf"/><stop offset="0.9500" stop-color="#e4e4e4"/><stop offset="0.9667" stop-color="#e8e8e8"/><stop offset="0.9683" stop-color="#e8e8e8"/><stop offset="0.9850" stop-color="#ececec"/><stop offset="0.9867" stop-color="#000000"/><stop offset="1.0000" stop-color="#000000"/></linearGradient>
<linearGradient id="g0_s35" gradientUnits="userSpaceOnUse" x1="0" y1="58" x2="0" y2="134"><stop offset="0.0000" stop-color="#484848"/><stop offset="0.0500" stop-color="#494949"/><stop offset="0.1000" stop-color="#4b4b4b"/><stop offset="0.1500" stop-color="#4c4c4c"/><stop offset="0.2000" stop-color="#4e4e4e"/><stop offset="0.2500" stop-color="#505050"/><stop offset="0.3000" stop-color="#515151"/><stop offset="0.4000" stop-color="#545454"/><stop offset="0.5000" stop-color="#585858"/><stop offset="0.6000" stop-color="#5b5b5b"/><stop offset="0.7000" stop-color="#5e5e5e"/><stop offset="0.7667" stop-color="#606060"/><stop offset="0.8333" stop-color="#626262"/><stop offset="0.8667" stop-color="#636363"/><stop offset="0.9000" stop-color="#646464"/><stop offset="0.9267" stop-color="#656565"/><stop offset="0.9500" stop-color="#666666"/><stop offset="0.9667" stop-color="#676767"/><stop offset="0.9683" stop-color="#8b8b8b"/><stop offset="0.9850" stop-color="#8b8b8b"/><stop offset="0.9867" stop-color="#000000"/><stop offset="1.0000" stop-color="#000000"/></linearGradient>
<filter id="f1" filterUnits="userSpaceOnUse" x="81" y="154" width="419" height="76" color-interpolation-filters="sRGB">
<feTurbulence type="fractalNoise" baseFrequency="0.8 0.45" numOctaves="1" seed="7" result="t"/>
<feColorMatrix in="t" type="matrix" values="1 0 0 0 0 1 0 0 0 0 1 0 0 0 0 0 0 0 0 1" result="n0"/>
<feComponentTransfer in="n0" result="n"><feFuncR type="table" tableValues="0 0 0.02 0.18 0.34 0.5 0.6 0.7 0.8 0.9 1"/><feFuncG type="table" tableValues="0 0 0.02 0.18 0.34 0.5 0.6 0.7 0.8 0.9 1"/><feFuncB type="table" tableValues="0 0 0.02 0.18 0.34 0.5 0.6 0.7 0.8 0.9 1"/></feComponentTransfer>
<feTurbulence type="fractalNoise" baseFrequency="0.7 0.0003" numOctaves="1" seed="27" result="t2"/>
<feColorMatrix in="t2" type="matrix" values="0 1 0 0 0 0 1 0 0 0 0 1 0 0 0 0 0 0 0 1" result="n2"/>
<feComposite in="SourceGraphic" in2="n2" operator="arithmetic" k1="1.2000" k2="0.4000" k3="0" k4="0" result="s1"/>
<feComposite in="s1" in2="n" operator="arithmetic" k1="-0.2720" k2="1.1360" k3="0.3400" k4="-0.1700" result="s"/>
<feComponentTransfer in="s"><feFuncR type="table" tableValues="0.000 0.000 0.000 0.000 0.000 0.000 0.000 0.000 0.000 0.000 0.000 0.000 0.000 0.000 0.000 0.000 0.000 0.000 0.000 0.000 0.000 0.000 0.000 0.000 0.000 0.000 0.000 0.000 0.000 0.000 0.000 0.000 0.000 0.000 0.000 0.000 0.000 0.000 0.000 0.170 0.340 0.510 0.676 0.842 1.000 1.000 1.000 1.000 1.000 1.000 1.000 1.000 1.000 1.000 1.000 1.000 1.000 1.000 1.000 1.000 1.000 1.000 1.000 1.000 1.000 1.000 1.000 1.000 1.000 1.000 1.000 1.000 1.000 1.000 1.000 1.000 1.000 1.000 1.000 1.000 1.000"/><feFuncG type="table" tableValues="0.000 0.000 0.000 0.000 0.000 0.000 0.000 0.000 0.000 0.000 0.000 0.000 0.000 0.000 0.000 0.000 0.000 0.000 0.000 0.000 0.192 0.383 0.557 0.724 0.891 1.000 1.000 1.000 1.000 1.000 1.000 0.998 0.992 0.985 0.979 0.972 0.966 0.959 0.953 0.969 0.984 1.000 1.000 1.000 0.997 0.936 0.875 0.815 0.754 0.693 0.633 0.572 0.511 0.461 0.412 0.364 0.315 0.267 0.218 0.170 0.121 0.073 0.024 0.000 0.000 0.000 0.000 0.000 0.000 0.000 0.000 0.000 0.000 0.000 0.000 0.000 0.000 0.000 0.000 0.000 0.000"/><feFuncB type="table" tableValues="0.000 0.000 0.000 0.000 0.000 0.000 0.000 0.000 0.000 0.000 0.000 0.000 0.084 0.521 0.569 0.647 0.725 0.804 0.882 0.961 0.978 0.996 1.000 1.000 1.000 0.971 0.890 0.808 0.726 0.645 0.563 0.485 0.415 0.346 0.277 0.208 0.138 0.069 0.000 0.000 0.000 0.000 0.000 0.000 0.000 0.000 0.000 0.000 0.000 0.000 0.000 0.000 0.000 0.000 0.000 0.000 0.000 0.000 0.000 0.000 0.000 0.000 0.000 0.000 0.000 0.000 0.000 0.000 0.000 0.000 0.000 0.000 0.000 0.000 0.000 0.000 0.000 0.000 0.000 0.000 0.000"/></feComponentTransfer>
</filter>
<linearGradient id="g1_bg" gradientUnits="userSpaceOnUse" x1="0" y1="154" x2="0" y2="230"><stop offset="0.0000" stop-color="#353535"/><stop offset="0.0500" stop-color="#353535"/><stop offset="0.1000" stop-color="#353535"/><stop offset="0.1500" stop-color="#353535"/><stop offset="0.2000" stop-color="#353535"/><stop offset="0.2500" stop-color="#353535"/><stop offset="0.3000" stop-color="#353535"/><stop offset="0.4000" stop-color="#363636"/><stop offset="0.5000" stop-color="#363636"/><stop offset="0.6000" stop-color="#373737"/><stop offset="0.7000" stop-color="#373737"/><stop offset="0.7667" stop-color="#363636"/><stop offset="0.8333" stop-color="#393939"/><stop offset="0.8667" stop-color="#3d3d3d"/><stop offset="0.9000" stop-color="#434343"/><stop offset="0.9267" stop-color="#4a4a4a"/><stop offset="0.9500" stop-color="#535353"/><stop offset="0.9667" stop-color="#616161"/><stop offset="0.9683" stop-color="#8b8b8b"/><stop offset="0.9850" stop-color="#8b8b8b"/><stop offset="0.9867" stop-color="#000000"/><stop offset="1.0000" stop-color="#000000"/></linearGradient>
<linearGradient id="g1_s0" gradientUnits="userSpaceOnUse" x1="0" y1="154" x2="0" y2="230"><stop offset="0.0000" stop-color="#383838"/><stop offset="0.0500" stop-color="#464646"/><stop offset="0.1000" stop-color="#5a5a5a"/><stop offset="0.1500" stop-color="#6c6c6c"/><stop offset="0.2000" stop-color="#7c7c7c"/><stop offset="0.2500" stop-color="#848484"/><stop offset="0.3000" stop-color="#878787"/><stop offset="0.4000" stop-color="#8a8a8a"/><stop offset="0.5000" stop-color="#8e8e8e"/><stop offset="0.6000" stop-color="#949494"/><stop offset="0.7000" stop-color="#9e9e9e"/><stop offset="0.7667" stop-color="#a8a8a8"/><stop offset="0.8333" stop-color="#b6b6b6"/><stop offset="0.8667" stop-color="#bebebe"/><stop offset="0.9000" stop-color="#c6c6c6"/><stop offset="0.9267" stop-color="#cccccc"/><stop offset="0.9500" stop-color="#d1d1d1"/><stop offset="0.9667" stop-color="#d5d5d5"/><stop offset="0.9683" stop-color="#d5d5d5"/><stop offset="0.9850" stop-color="#d9d9d9"/><stop offset="0.9867" stop-color="#000000"/><stop offset="1.0000" stop-color="#000000"/></linearGradient>
<linearGradient id="g1_s1" gradientUnits="userSpaceOnUse" x1="0" y1="154" x2="0" y2="230"><stop offset="0.0000" stop-color="#414141"/><stop offset="0.0500" stop-color="#4c4c4c"/><stop offset="0.1000" stop-color="#5c5c5c"/><stop offset="0.1500" stop-color="#707070"/><stop offset="0.2000" stop-color="#7e7e7e"/><stop offset="0.2500" stop-color="#878787"/><stop offset="0.3000" stop-color="#8b8b8b"/><stop offset="0.4000" stop-color="#909090"/><stop offset="0.5000" stop-color="#939393"/><stop offset="0.6000" stop-color="#969696"/><stop offset="0.7000" stop-color="#9c9c9c"/><stop offset="0.7667" stop-color="#a1a1a1"/><stop offset="0.8333" stop-color="#a6a6a6"/><stop offset="0.8667" stop-color="#aaaaaa"/><stop offset="0.9000" stop-color="#aeaeae"/><stop offset="0.9267" stop-color="#b2b2b2"/><stop offset="0.9500" stop-color="#b4b4b4"/><stop offset="0.9667" stop-color="#b6b6b6"/><stop offset="0.9683" stop-color="#b7b7b7"/><stop offset="0.9850" stop-color="#b9b9b9"/><stop offset="0.9867" stop-color="#000000"/><stop offset="1.0000" stop-color="#000000"/></linearGradient>
<linearGradient id="g1_s2" gradientUnits="userSpaceOnUse" x1="0" y1="154" x2="0" y2="230"><stop offset="0.0000" stop-color="#484848"/><stop offset="0.0500" stop-color="#4a4a4a"/><stop offset="0.1000" stop-color="#4c4c4c"/><stop offset="0.1500" stop-color="#4f4f4f"/><stop offset="0.2000" stop-color="#515151"/><stop offset="0.2500" stop-color="#545454"/><stop offset="0.3000" stop-color="#565656"/><stop offset="0.4000" stop-color="#5b5b5b"/><stop offset="0.5000" stop-color="#606060"/><stop offset="0.6000" stop-color="#646464"/><stop offset="0.7000" stop-color="#696969"/><stop offset="0.7667" stop-color="#6c6c6c"/><stop offset="0.8333" stop-color="#707070"/><stop offset="0.8667" stop-color="#717171"/><stop offset="0.9000" stop-color="#737373"/><stop offset="0.9267" stop-color="#747474"/><stop offset="0.9500" stop-color="#757575"/><stop offset="0.9667" stop-color="#767676"/><stop offset="0.9683" stop-color="#8b8b8b"/><stop offset="0.9850" stop-color="#8b8b8b"/><stop offset="0.9867" stop-color="#000000"/><stop offset="1.0000" stop-color="#000000"/></linearGradient>
<linearGradient id="g1_s3" gradientUnits="userSpaceOnUse" x1="0" y1="154" x2="0" y2="230"><stop offset="0.0000" stop-color="#505050"/><stop offset="0.0500" stop-color="#525252"/><stop offset="0.1000" stop-color="#545454"/><stop offset="0.1500" stop-color="#575757"/><stop offset="0.2000" stop-color="#595959"/><stop offset="0.2500" stop-color="#5c5c5c"/><stop offset="0.3000" stop-color="#5e5e5e"/><stop offset="0.4000" stop-color="#636363"/><stop offset="0.5000" stop-color="#686868"/><stop offset="0.6000" stop-color="#6c6c6c"/><stop offset="0.7000" stop-color="#717171"/><stop offset="0.7667" stop-color="#747474"/><stop offset="0.8333" stop-color="#787878"/><stop offset="0.8667" stop-color="#797979"/><stop offset="0.9000" stop-color="#7b7b7b"/><stop offset="0.9267" stop-color="#7c7c7c"/><stop offset="0.9500" stop-color="#7d7d7d"/><stop offset="0.9667" stop-color="#7e7e7e"/><stop offset="0.9683" stop-color="#8b8b8b"/><stop offset="0.9850" stop-color="#8b8b8b"/><stop offset="0.9867" stop-color="#000000"/><stop offset="1.0000" stop-color="#000000"/></linearGradient>
<linearGradient id="g1_s4" gradientUnits="userSpaceOnUse" x1="0" y1="154" x2="0" y2="230"><stop offset="0.0000" stop-color="#353535"/><stop offset="0.0500" stop-color="#414141"/><stop offset="0.1000" stop-color="#555555"/><stop offset="0.1500" stop-color="#676767"/><stop offset="0.2000" stop-color="#787878"/><stop offset="0.2500" stop-color="#7f7f7f"/><stop offset="0.3000" stop-color="#838383"/><stop offset="0.4000" stop-color="#858585"/><stop offset="0.5000" stop-color="#898989"/><stop offset="0.6000" stop-color="#909090"/><stop offset="0.7000" stop-color="#999999"/><stop offset="0.7667" stop-color="#a4a4a4"/><stop offset="0.8333" stop-color="#b1b1b1"/><stop offset="0.8667" stop-color="#b9b9b9"/><stop offset="0.9000" stop-color="#c1c1c1"/><stop offset="0.9267" stop-color="#c7c7c7"/><stop offset="0.9500" stop-color="#cccccc"/><stop offset="0.9667" stop-color="#d0d0d0"/><stop offset="0.9683" stop-color="#d0d0d0"/><stop offset="0.9850" stop-color="#d4d4d4"/><stop offset="0.9867" stop-color="#000000"/><stop offset="1.0000" stop-color="#000000"/></linearGradient>
<linearGradient id="g1_s5" gradientUnits="userSpaceOnUse" x1="0" y1="154" x2="0" y2="230"><stop offset="0.0000" stop-color="#3b3b3b"/><stop offset="0.0500" stop-color="#3f3f3f"/><stop offset="0.1000" stop-color="#434343"/><stop offset="0.1500" stop-color="#464646"/><stop offset="0.2000" stop-color="#4a4a4a"/><stop offset="0.2500" stop-color="#4e4e4e"/><stop offset="0.3000" stop-color="#525252"/><stop offset="0.4000" stop-color="#5a5a5a"/><stop offset="0.5000" stop-color="#616161"/><stop offset="0.6000" stop-color="#696969"/><stop offset="0.7000" stop-color="#717171"/><stop offset="0.7667" stop-color="#767676"/><stop offset="0.8333" stop-color="#7b7b7b"/><stop offset="0.8667" stop-color="#7d7d7d"/><stop offset="0.9000" stop-color="#808080"/><stop offset="0.9267" stop-color="#828282"/><stop offset="0.9500" stop-color="#848484"/><stop offset="0.9667" stop-color="#858585"/><stop offset="0.9683" stop-color="#8b8b8b"/><stop offset="0.9850" stop-color="#8b8b8b"/><stop offset="0.9867" stop-color="#000000"/><stop offset="1.0000" stop-color="#000000"/></linearGradient>
<linearGradient id="g1_s6" gradientUnits="userSpaceOnUse" x1="0" y1="154" x2="0" y2="230"><stop offset="0.0000" stop-color="#353535"/><stop offset="0.0500" stop-color="#383838"/><stop offset="0.1000" stop-color="#3b3b3b"/><stop offset="0.1500" stop-color="#3e3e3e"/><stop offset="0.2000" stop-color="#414141"/><stop offset="0.2500" stop-color="#454545"/><stop offset="0.3000" stop-color="#484848"/><stop offset="0.4000" stop-color="#4e4e4e"/><stop offset="0.5000" stop-color="#545454"/><stop offset="0.6000" stop-color="#5b5b5b"/><stop offset="0.7000" stop-color="#616161"/><stop offset="0.7667" stop-color="#656565"/><stop offset="0.8333" stop-color="#6a6a6a"/><stop offset="0.8667" stop-color="#6c6c6c"/><stop offset="0.9000" stop-color="#6e6e6e"/><stop offset="0.9267" stop-color="#707070"/><stop offset="0.9500" stop-color="#717171"/><stop offset="0.9667" stop-color="#727272"/><stop offset="0.9683" stop-color="#8b8b8b"/><stop offset="0.9850" stop-color="#8b8b8b"/><stop offset="0.9867" stop-color="#000000"/><stop offset="1.0000" stop-color="#000000"/></linearGradient>
<linearGradient id="g1_s7" gradientUnits="userSpaceOnUse" x1="0" y1="154" x2="0" y2="230"><stop offset="0.0000" stop-color="#353535"/><stop offset="0.0500" stop-color="#353535"/><stop offset="0.1000" stop-color="#363636"/><stop offset="0.1500" stop-color="#393939"/><stop offset="0.2000" stop-color="#3b3b3b"/><stop offset="0.2500" stop-color="#3d3d3d"/><stop offset="0.3000" stop-color="#404040"/><stop offset="0.4000" stop-color="#454545"/><stop offset="0.5000" stop-color="#494949"/><stop offset="0.6000" stop-color="#4e4e4e"/><stop offset="0.7000" stop-color="#535353"/><stop offset="0.7667" stop-color="#565656"/><stop offset="0.8333" stop-color="#595959"/><stop offset="0.8667" stop-color="#5b5b5b"/><stop offset="0.9000" stop-color="#5c5c5c"/><stop offset="0.9267" stop-color="#5e5e5e"/><stop offset="0.9500" stop-color="#5f5f5f"/><stop offset="0.9667" stop-color="#616161"/><stop offset="0.9683" stop-color="#8b8b8b"/><stop offset="0.9850" stop-color="#8b8b8b"/><stop offset="0.9867" stop-color="#000000"/><stop offset="1.0000" stop-color="#000000"/></linearGradient>
<linearGradient id="g1_s8" gradientUnits="userSpaceOnUse" x1="0" y1="154" x2="0" y2="230"><stop offset="0.0000" stop-color="#353535"/><stop offset="0.0500" stop-color="#353535"/><stop offset="0.1000" stop-color="#373737"/><stop offset="0.1500" stop-color="#393939"/><stop offset="0.2000" stop-color="#3c3c3c"/><stop offset="0.2500" stop-color="#3e3e3e"/><stop offset="0.3000" stop-color="#414141"/><stop offset="0.4000" stop-color="#464646"/><stop offset="0.5000" stop-color="#4b4b4b"/><stop offset="0.6000" stop-color="#505050"/><stop offset="0.7000" stop-color="#555555"/><stop offset="0.7667" stop-color="#595959"/><stop offset="0.8333" stop-color="#5c5c5c"/><stop offset="0.8667" stop-color="#5e5e5e"/><stop offset="0.9000" stop-color="#5f5f5f"/><stop offset="0.9267" stop-color="#616161"/><stop offset="0.9500" stop-color="#626262"/><stop offset="0.9667" stop-color="#636363"/><stop offset="0.9683" stop-color="#8b8b8b"/><stop offset="0.9850" stop-color="#8b8b8b"/><stop offset="0.9867" stop-color="#000000"/><stop offset="1.0000" stop-color="#000000"/></linearGradient>
<linearGradient id="g1_s9" gradientUnits="userSpaceOnUse" x1="0" y1="154" x2="0" y2="230"><stop offset="0.0000" stop-color="#353535"/><stop offset="0.0500" stop-color="#373737"/><stop offset="0.1000" stop-color="#3a3a3a"/><stop offset="0.1500" stop-color="#3c3c3c"/><stop offset="0.2000" stop-color="#3f3f3f"/><stop offset="0.2500" stop-color="#414141"/><stop offset="0.3000" stop-color="#444444"/><stop offset="0.4000" stop-color="#494949"/><stop offset="0.5000" stop-color="#4e4e4e"/><stop offset="0.6000" stop-color="#535353"/><stop offset="0.7000" stop-color="#585858"/><stop offset="0.7667" stop-color="#5c5c5c"/><stop offset="0.8333" stop-color="#5f5f5f"/><stop offset="0.8667" stop-color="#616161"/><stop offset="0.9000" stop-color="#626262"/><stop offset="0.9267" stop-color="#646464"/><stop offset="0.9500" stop-color="#656565"/><stop offset="0.9667" stop-color="#666666"/><stop offset="0.9683" stop-color="#8b8b8b"/><stop offset="0.9850" stop-color="#8b8b8b"/><stop offset="0.9867" stop-color="#000000"/><stop offset="1.0000" stop-color="#000000"/></linearGradient>
<linearGradient id="g1_s10" gradientUnits="userSpaceOnUse" x1="0" y1="154" x2="0" y2="230"><stop offset="0.0000" stop-color="#484848"/><stop offset="0.0500" stop-color="#494949"/><stop offset="0.1000" stop-color="#4a4a4a"/><stop offset="0.1500" stop-color="#4b4b4b"/><stop offset="0.2000" stop-color="#4c4c4c"/><stop offset="0.2500" stop-color="#4e4e4e"/><stop offset="0.3000" stop-color="#4f4f4f"/><stop offset="0.4000" stop-color="#515151"/><stop offset="0.5000" stop-color="#545454"/><stop offset="0.6000" stop-color="#565656"/><stop offset="0.7000" stop-color="#585858"/><stop offset="0.7667" stop-color="#5a5a5a"/><stop offset="0.8333" stop-color="#5c5c5c"/><stop offset="0.8667" stop-color="#5c5c5c"/><stop offset="0.9000" stop-color="#5d5d5d"/><stop offset="0.9267" stop-color="#5e5e5e"/><stop offset="0.9500" stop-color="#5e5e5e"/><stop offset="0.9667" stop-color="#616161"/><stop offset="0.9683" stop-color="#8b8b8b"/><stop offset="0.9850" stop-color="#8b8b8b"/><stop offset="0.9867" stop-color="#000000"/><stop offset="1.0000" stop-color="#000000"/></linearGradient>
<linearGradient id="g1_s11" gradientUnits="userSpaceOnUse" x1="0" y1="154" x2="0" y2="230"><stop offset="0.0000" stop-color="#353535"/><stop offset="0.0500" stop-color="#353535"/><stop offset="0.1000" stop-color="#353535"/><stop offset="0.1500" stop-color="#353535"/><stop offset="0.2000" stop-color="#363636"/><stop offset="0.2500" stop-color="#363636"/><stop offset="0.3000" stop-color="#373737"/><stop offset="0.4000" stop-color="#393939"/><stop offset="0.5000" stop-color="#3b3b3b"/><stop offset="0.6000" stop-color="#3e3e3e"/><stop offset="0.7000" stop-color="#404040"/><stop offset="0.7667" stop-color="#424242"/><stop offset="0.8333" stop-color="#474747"/><stop offset="0.8667" stop-color="#4b4b4b"/><stop offset="0.9000" stop-color="#525252"/><stop offset="0.9267" stop-color="#5a5a5a"/><stop offset="0.9500" stop-color="#646464"/><stop offset="0.9667" stop-color="#737373"/><stop offset="0.9683" stop-color="#9d9d9d"/><stop offset="0.9850" stop-color="#9d9d9d"/><stop offset="0.9867" stop-color="#000000"/><stop offset="1.0000" stop-color="#000000"/></linearGradient>
<linearGradient id="g1_s12" gradientUnits="userSpaceOnUse" x1="0" y1="154" x2="0" y2="230"><stop offset="0.0000" stop-color="#353535"/><stop offset="0.0500" stop-color="#434343"/><stop offset="0.1000" stop-color="#575757"/><stop offset="0.1500" stop-color="#696969"/><stop offset="0.2000" stop-color="#797979"/><stop offset="0.2500" stop-color="#818181"/><stop offset="0.3000" stop-color="#848484"/><stop offset="0.4000" stop-color="#878787"/><stop offset="0.5000" stop-color="#8b8b8b"/><stop offset="0.6000" stop-color="#919191"/><stop offset="0.7000" stop-color="#9b9b9b"/><stop offset="0.7667" stop-color="#a5a5a5"/><stop offset="0.8333" stop-color="#b3b3b3"/><stop offset="0.8667" stop-color="#bababa"/><stop offset="0.9000" stop-color="#c2c2c2"/><stop offset="0.9267" stop-color="#c9c9c9"/><stop offset="0.9500" stop-color="#cecece"/><stop offset="0.9667" stop-color="#d2d2d2"/><stop offset="0.9683" stop-color="#d2d2d2"/><stop offset="0.9850" stop-color="#d6d6d6"/><stop offset="0.9867" stop-color="#000000"/><stop offset="1.0000" stop-color="#000000"/></linearGradient>
<linearGradient id="g1_s13" gradientUnits="userSpaceOnUse" x1="0" y1="154" x2="0" y2="230"><stop offset="0.0000" stop-color="#404040"/><stop offset="0.0500" stop-color="#454545"/><stop offset="0.1000" stop-color="#4b4b4b"/><stop offset="0.1500" stop-color="#505050"/><stop offset="0.2000" stop-color="#565656"/><stop offset="0.2500" stop-color="#5c5c5c"/><stop offset="0.3000" stop-color="#616161"/><stop offset="0.4000" stop-color="#6c6c6c"/><stop offset="0.5000" stop-color="#787878"/><stop offset="0.6000" stop-color="#838383"/><stop offset="0.7000" stop-color="#8e8e8e"/><stop offset="0.7667" stop-color="#959595"/><stop offset="0.8333" stop-color="#9d9d9d"/><stop offset="0.8667" stop-color="#a0a0a0"/><stop offset="0.9000" stop-color="#a4a4a4"/><stop offset="0.9267" stop-color="#a7a7a7"/><stop offset="0.9500" stop-color="#aaaaaa"/><stop offset="0.9667" stop-color="#acacac"/><stop offset="0.9683" stop-color="#acacac"/><stop offset="0.9850" stop-color="#aeaeae"/><stop offset="0.9867" stop-color="#000000"/><stop offset="1.0000" stop-color="#000000"/></linearGradient>
<linearGradient id="g1_s14" gradientUnits="userSpaceOnUse" x1="0" y1="154" x2="0" y2="230"><stop offset="0.0000" stop-color="#353535"/><stop offset="0.0500" stop-color="#353535"/><stop offset="0.1000" stop-color="#454545"/><stop offset="0.1500" stop-color="#575757"/><stop offset="0.2000" stop-color="#686868"/><stop offset="0.2500" stop-color="#707070"/><stop offset="0.3000" stop-color="#737373"/><stop offset="0.4000" stop-color="#757575"/><stop offset="0.5000" stop-color="#797979"/><stop offset="0.6000" stop-color="#808080"/><stop offset="0.7000" stop-color="#898989"/><stop offset="0.7667" stop-color="#949494"/><stop offset="0.8333" stop-color="#a1a1a1"/><stop offset="0.8667" stop-color="#a9a9a9"/><stop offset="0.9000" stop-color="#b1b1b1"/><stop offset="0.9267" stop-color="#b7b7b7"/><stop offset="0.9500" stop-color="#bcbcbc"/><stop offset="0.9667" stop-color="#c0c0c0"/><stop offset="0.9683" stop-color="#c0c0c0"/><stop offset="0.9850" stop-color="#c4c4c4"/><stop offset="0.9867" stop-color="#000000"/><stop offset="1.0000" stop-color="#000000"/></linearGradient>
<linearGradient id="g1_s15" gradientUnits="userSpaceOnUse" x1="0" y1="154" x2="0" y2="230"><stop offset="0.0000" stop-color="#353535"/><stop offset="0.0500" stop-color="#353535"/><stop offset="0.1000" stop-color="#353535"/><stop offset="0.1500" stop-color="#363636"/><stop offset="0.2000" stop-color="#363636"/><stop offset="0.2500" stop-color="#373737"/><stop offset="0.3000" stop-color="#383838"/><stop offset="0.4000" stop-color="#3b3b3b"/><stop offset="0.5000" stop-color="#3e3e3e"/><stop offset="0.6000" stop-color="#424242"/><stop offset="0.7000" stop-color="#464646"/><stop offset="0.7667" stop-color="#494949"/><stop offset="0.8333" stop-color="#505050"/><stop offset="0.8667" stop-color="#555555"/><stop offset="0.9000" stop-color="#5d5d5d"/><stop offset="0.9267" stop-color="#656565"/><stop offset="0.9500" stop-color="#707070"/><stop offset="0.9667" stop-color="#7f7f7f"/><stop offset="0.9683" stop-color="#a9a9a9"/><stop offset="0.9850" stop-color="#aaaaaa"/><stop offset="0.9867" stop-color="#000000"/><stop offset="1.0000" stop-color="#000000"/></linearGradient>
<linearGradient id="g1_s16" gradientUnits="userSpaceOnUse" x1="0" y1="154" x2="0" y2="230"><stop offset="0.0000" stop-color="#585858"/><stop offset="0.0500" stop-color="#5b5b5b"/><stop offset="0.1000" stop-color="#5e5e5e"/><stop offset="0.1500" stop-color="#616161"/><stop offset="0.2000" stop-color="#646464"/><stop offset="0.2500" stop-color="#676767"/><stop offset="0.3000" stop-color="#6a6a6a"/><stop offset="0.4000" stop-color="#707070"/><stop offset="0.5000" stop-color="#767676"/><stop offset="0.6000" stop-color="#7c7c7c"/><stop offset="0.7000" stop-color="#828282"/><stop offset="0.7667" stop-color="#868686"/><stop offset="0.8333" stop-color="#8a8a8a"/><stop offset="0.8667" stop-color="#8c8c8c"/><stop offset="0.9000" stop-color="#8e8e8e"/><stop offset="0.9267" stop-color="#909090"/><stop offset="0.9500" stop-color="#919191"/><stop offset="0.9667" stop-color="#929292"/><stop offset="0.9683" stop-color="#929292"/><stop offset="0.9850" stop-color="#939393"/><stop offset="0.9867" stop-color="#000000"/><stop offset="1.0000" stop-color="#000000"/></linearGradient>
<linearGradient id="g1_s17" gradientUnits="userSpaceOnUse" x1="0" y1="154" x2="0" y2="230"><stop offset="0.0000" stop-color="#484848"/><stop offset="0.0500" stop-color="#494949"/><stop offset="0.1000" stop-color="#4b4b4b"/><stop offset="0.1500" stop-color="#4c4c4c"/><stop offset="0.2000" stop-color="#4e4e4e"/><stop offset="0.2500" stop-color="#505050"/><stop offset="0.3000" stop-color="#515151"/><stop offset="0.4000" stop-color="#545454"/><stop offset="0.5000" stop-color="#585858"/><stop offset="0.6000" stop-color="#5b5b5b"/><stop offset="0.7000" stop-color="#5e5e5e"/><stop offset="0.7667" stop-color="#606060"/><stop offset="0.8333" stop-color="#626262"/><stop offset="0.8667" stop-color="#636363"/><stop offset="0.9000" stop-color="#646464"/><stop offset="0.9267" stop-color="#656565"/><stop offset="0.9500" stop-color="#666666"/><stop offset="0.9667" stop-color="#676767"/><stop offset="0.9683" stop-color="#8b8b8b"/><stop offset="0.9850" stop-color="#8b8b8b"/><stop offset="0.9867" stop-color="#000000"/><stop offset="1.0000" stop-color="#000000"/></linearGradient>
<linearGradient id="g1_s18" gradientUnits="userSpaceOnUse" x1="0" y1="154" x2="0" y2="230"><stop offset="0.0000" stop-color="#3b3b3b"/><stop offset="0.0500" stop-color="#404040"/><stop offset="0.1000" stop-color="#444444"/><stop offset="0.1500" stop-color="#494949"/><stop offset="0.2000" stop-color="#4d4d4d"/><stop offset="0.2500" stop-color="#525252"/><stop offset="0.3000" stop-color="#575757"/><stop offset="0.4000" stop-color="#606060"/><stop offset="0.5000" stop-color="#696969"/><stop offset="0.6000" stop-color="#727272"/><stop offset="0.7000" stop-color="#7c7c7c"/><stop offset="0.7667" stop-color="#828282"/><stop offset="0.8333" stop-color="#888888"/><stop offset="0.8667" stop-color="#8b8b8b"/><stop offset="0.9000" stop-color="#8e8e8e"/><stop offset="0.9267" stop-color="#919191"/><stop offset="0.9500" stop-color="#939393"/><stop offset="0.9667" stop-color="#949494"/><stop offset="0.9683" stop-color="#949494"/><stop offset="0.9850" stop-color="#969696"/><stop offset="0.9867" stop-color="#000000"/><stop offset="1.0000" stop-color="#000000"/></linearGradient>
<linearGradient id="g1_s19" gradientUnits="userSpaceOnUse" x1="0" y1="154" x2="0" y2="230"><stop offset="0.0000" stop-color="#353535"/><stop offset="0.0500" stop-color="#353535"/><stop offset="0.1000" stop-color="#414141"/><stop offset="0.1500" stop-color="#545454"/><stop offset="0.2000" stop-color="#636363"/><stop offset="0.2500" stop-color="#6c6c6c"/><stop offset="0.3000" stop-color="#707070"/><stop offset="0.4000" stop-color="#757575"/><stop offset="0.5000" stop-color="#787878"/><stop offset="0.6000" stop-color="#7b7b7b"/><stop offset="0.7000" stop-color="#808080"/><stop offset="0.7667" stop-color="#868686"/><stop offset="0.8333" stop-color="#8b8b8b"/><stop offset="0.8667" stop-color="#8f8f8f"/><stop offset="0.9000" stop-color="#939393"/><stop offset="0.9267" stop-color="#979797"/><stop offset="0.9500" stop-color="#999999"/><stop offset="0.9667" stop-color="#9b9b9b"/><stop offset="0.9683" stop-color="#9c9c9c"/><stop offset="0.9850" stop-color="#9e9e9e"/><stop offset="0.9867" stop-color="#000000"/><stop offset="1.0000" stop-color="#000000"/></linearGradient>
<linearGradient id="g1_s20" gradientUnits="userSpaceOnUse" x1="0" y1="154" x2="0" y2="230"><stop offset="0.0000" stop-color="#3b3b3b"/><stop offset="0.0500" stop-color="#3e3e3e"/><stop offset="0.1000" stop-color="#414141"/><stop offset="0.1500" stop-color="#444444"/><stop offset="0.2000" stop-color="#474747"/><stop offset="0.2500" stop-color="#4a4a4a"/><stop offset="0.3000" stop-color="#4d4d4d"/><stop offset="0.4000" stop-color="#535353"/><stop offset="0.5000" stop-color="#595959"/><stop offset="0.6000" stop-color="#5f5f5f"/><stop offset="0.7000" stop-color="#656565"/><stop offset="0.7667" stop-color="#696969"/><stop offset="0.8333" stop-color="#6d6d6d"/><stop offset="0.8667" stop-color="#6f6f6f"/><stop offset="0.9000" stop-color="#717171"/><stop offset="0.9267" stop-color="#737373"/><stop offset="0.9500" stop-color="#757575"/><stop offset="0.9667" stop-color="#767676"/><stop offset="0.9683" stop-color="#8b8b8b"/><stop offset="0.9850" stop-color="#8b8b8b"/><stop offset="0.9867" stop-color="#000000"/><stop offset="1.0000" stop-color="#000000"/></linearGradient>
<linearGradient id="g1_s21" gradientUnits="userSpaceOnUse" x1="0" y1="154" x2="0" y2="230"><stop offset="0.0000" stop-color="#353535"/><stop offset="0.0500" stop-color="#363636"/><stop offset="0.1000" stop-color="#464646"/><stop offset="0.1500" stop-color="#595959"/><stop offset="0.2000" stop-color="#686868"/><stop offset="0.2500" stop-color="#717171"/><stop offset="0.3000" stop-color="#757575"/><stop offset="0.4000" stop-color="#797979"/><stop offset="0.5000" stop-color="#7c7c7c"/><stop offset="0.6000" stop-color="#808080"/><stop offset="0.7000" stop-color="#858585"/><stop offset="0.7667" stop-color="#8a8a8a"/><stop offset="0.8333" stop-color="#8f8f8f"/><stop offset="0.8667" stop-color="#949494"/><stop offset="0.9000" stop-color="#989898"/><stop offset="0.9267" stop-color="#9b9b9b"/><stop offset="0.9500" stop-color="#9e9e9e"/><stop offset="0.9667" stop-color="#a0a0a0"/><stop offset="0.9683" stop-color="#a0a0a0"/><stop offset="0.9850" stop-color="#a2a2a2"/><stop offset="0.9867" stop-color="#000000"/><stop offset="1.0000" stop-color="#000000"/></linearGradient>
<linearGradient id="g1_s22" gradientUnits="userSpaceOnUse" x1="0" y1="154" x2="0" y2="230"><stop offset="0.0000" stop-color="#404040"/><stop offset="0.0500" stop-color="#434343"/><stop offset="0.1000" stop-color="#454545"/><stop offset="0.1500" stop-color="#484848"/><stop offset="0.2000" stop-color="#4b4b4b"/><stop offset="0.2500" stop-color="#4e4e4e"/><stop offset="0.3000" stop-color="#505050"/><stop offset="0.4000" stop-color="#565656"/><stop offset="0.5000" stop-color="#5c5c5c"/><stop offset="0.6000" stop-color="#616161"/><stop offset="0.7000" stop-color="#676767"/><stop offset="0.7667" stop-color="#6b6b6b"/><stop offset="0.8333" stop-color="#6e6e6e"/><stop offset="0.8667" stop-color="#707070"/><stop offset="0.9000" stop-color="#727272"/><stop offset="0.9267" stop-color="#737373"/><stop offset="0.9500" stop-color="#757575"/><stop offset="0.9667" stop-color="#767676"/><stop offset="0.9683" stop-color="#8b8b8b"/><stop offset="0.9850" stop-color="#8b8b8b"/><stop offset="0.9867" stop-color="#000000"/><stop offset="1.0000" stop-color="#000000"/></linearGradient>
<linearGradient id="g1_s23" gradientUnits="userSpaceOnUse" x1="0" y1="154" x2="0" y2="230"><stop offset="0.0000" stop-color="#3b3b3b"/><stop offset="0.0500" stop-color="#3e3e3e"/><stop offset="0.1000" stop-color="#414141"/><stop offset="0.1500" stop-color="#444444"/><stop offset="0.2000" stop-color="#464646"/><stop offset="0.2500" stop-color="#494949"/><stop offset="0.3000" stop-color="#4c4c4c"/><stop offset="0.4000" stop-color="#525252"/><stop offset="0.5000" stop-color="#585858"/><stop offset="0.6000" stop-color="#5d5d5d"/><stop offset="0.7000" stop-color="#636363"/><stop offset="0.7667" stop-color="#676767"/><stop offset="0.8333" stop-color="#6b6b6b"/><stop offset="0.8667" stop-color="#6d6d6d"/><stop offset="0.9000" stop-color="#6f6f6f"/><stop offset="0.9267" stop-color="#707070"/><stop offset="0.9500" stop-color="#717171"/><stop offset="0.9667" stop-color="#727272"/><stop offset="0.9683" stop-color="#8b8b8b"/><stop offset="0.9850" stop-color="#8b8b8b"/><stop offset="0.9867" stop-color="#000000"/><stop offset="1.0000" stop-color="#000000"/></linearGradient>
<linearGradient id="g1_s24" gradientUnits="userSpaceOnUse" x1="0" y1="154" x2="0" y2="230"><stop offset="0.0000" stop-color="#404040"/><stop offset="0.0500" stop-color="#434343"/><stop offset="0.1000" stop-color="#464646"/><stop offset="0.1500" stop-color="#494949"/><stop offset="0.2000" stop-color="#4c4c4c"/><stop offset="0.2500" stop-color="#505050"/><stop offset="0.3000" stop-color="#535353"/><stop offset="0.4000" stop-color="#595959"/><stop offset="0.5000" stop-color="#606060"/><stop offset="0.6000" stop-color="#666666"/><stop offset="0.7000" stop-color="#6c6c6c"/><stop offset="0.7667" stop-color="#717171"/><stop offset="0.8333" stop-color="#757575"/><stop offset="0.8667" stop-color="#777777"/><stop offset="0.9000" stop-color="#797979"/><stop offset="0.9267" stop-color="#7b7b7b"/><stop offset="0.9500" stop-color="#7c7c7c"/><stop offset="0.9667" stop-color="#7d7d7d"/><stop offset="0.9683" stop-color="#8b8b8b"/><stop offset="0.9850" stop-color="#8b8b8b"/><stop offset="0.9867" stop-color="#000000"/><stop offset="1.0000" stop-color="#000000"/></linearGradient>
<linearGradient id="g1_s25" gradientUnits="userSpaceOnUse" x1="0" y1="154" x2="0" y2="230"><stop offset="0.0000" stop-color="#787878"/><stop offset="0.0500" stop-color="#787878"/><stop offset="0.1000" stop-color="#797979"/><stop offset="0.1500" stop-color="#7a7a7a"/><stop offset="0.2000" stop-color="#7b7b7b"/><stop offset="0.2500" stop-color="#7c7c7c"/><stop offset="0.3000" stop-color="#7d7d7d"/><stop offset="0.4000" stop-color="#7f7f7f"/><stop offset="0.5000" stop-color="#818181"/><stop offset="0.6000" stop-color="#838383"/><stop offset="0.7000" stop-color="#858585"/><stop offset="0.7667" stop-color="#868686"/><stop offset="0.8333" stop-color="#878787"/><stop offset="0.8667" stop-color="#888888"/><stop offset="0.9000" stop-color="#898989"/><stop offset="0.9267" stop-color="#898989"/><stop offset="0.9500" stop-color="#8a8a8a"/><stop offset="0.9667" stop-color="#8a8a8a"/><stop offset="0.9683" stop-color="#8b8b8b"/><stop offset="0.9850" stop-color="#8b8b8b"/><stop offset="0.9867" stop-color="#000000"/><stop offset="1.0000" stop-color="#000000"/></linearGradient>
<linearGradient id="g1_s26" gradientUnits="userSpaceOnUse" x1="0" y1="154" x2="0" y2="230"><stop offset="0.0000" stop-color="#353535"/><stop offset="0.0500" stop-color="#353535"/><stop offset="0.1000" stop-color="#383838"/><stop offset="0.1500" stop-color="#3b3b3b"/><stop offset="0.2000" stop-color="#3e3e3e"/><stop offset="0.2500" stop-color="#414141"/><stop offset="0.3000" stop-color="#444444"/><stop offset="0.4000" stop-color="#4a4a4a"/><stop offset="0.5000" stop-color="#505050"/><stop offset="0.6000" stop-color="#575757"/><stop offset="0.7000" stop-color="#5d5d5d"/><stop offset="0.7667" stop-color="#616161"/><stop offset="0.8333" stop-color="#656565"/><stop offset="0.8667" stop-color="#676767"/><stop offset="0.9000" stop-color="#696969"/><stop offset="0.9267" stop-color="#6b6b6b"/><stop offset="0.9500" stop-color="#6c6c6c"/><stop offset="0.9667" stop-color="#6d6d6d"/><stop offset="0.9683" stop-color="#8b8b8b"/><stop offset="0.9850" stop-color="#8b8b8b"/><stop offset="0.9867" stop-color="#000000"/><stop offset="1.0000" stop-color="#000000"/></linearGradient>
<linearGradient id="g1_s27" gradientUnits="userSpaceOnUse" x1="0" y1="154" x2="0" y2="230"><stop offset="0.0000" stop-color="#4b4b4b"/><stop offset="0.0500" stop-color="#4e4e4e"/><stop offset="0.1000" stop-color="#515151"/><stop offset="0.1500" stop-color="#545454"/><stop offset="0.2000" stop-color="#575757"/><stop offset="0.2500" stop-color="#5a5a5a"/><stop offset="0.3000" stop-color="#5d5d5d"/><stop offset="0.4000" stop-color="#636363"/><stop offset="0.5000" stop-color="#696969"/><stop offset="0.6000" stop-color="#6f6f6f"/><stop offset="0.7000" stop-color="#757575"/><stop offset="0.7667" stop-color="#797979"/><stop offset="0.8333" stop-color="#7d7d7d"/><stop offset="0.8667" stop-color="#7f7f7f"/><stop offset="0.9000" stop-color="#818181"/><stop offset="0.9267" stop-color="#838383"/><stop offset="0.9500" stop-color="#848484"/><stop offset="0.9667" stop-color="#858585"/><stop offset="0.9683" stop-color="#8b8b8b"/><stop offset="0.9850" stop-color="#8b8b8b"/><stop offset="0.9867" stop-color="#000000"/><stop offset="1.0000" stop-color="#000000"/></linearGradient>
<linearGradient id="g1_s28" gradientUnits="userSpaceOnUse" x1="0" y1="154" x2="0" y2="230"><stop offset="0.0000" stop-color="#484848"/><stop offset="0.0500" stop-color="#4b4b4b"/><stop offset="0.1000" stop-color="#4e4e4e"/><stop offset="0.1500" stop-color="#515151"/><stop offset="0.2000" stop-color="#545454"/><stop offset="0.2500" stop-color="#585858"/><stop offset="0.3000" stop-color="#5b5b5b"/><stop offset="0.4000" stop-color="#616161"/><stop offset="0.5000" stop-color="#686868"/><stop offset="0.6000" stop-color="#6e6e6e"/><stop offset="0.7000" stop-color="#747474"/><stop offset="0.7667" stop-color="#797979"/><stop offset="0.8333" stop-color="#7d7d7d"/><stop offset="0.8667" stop-color="#7f7f7f"/><stop offset="0.9000" stop-color="#818181"/><stop offset="0.9267" stop-color="#838383"/><stop offset="0.9500" stop-color="#848484"/><stop offset="0.9667" stop-color="#858585"/><stop offset="0.9683" stop-color="#8b8b8b"/><stop offset="0.9850" stop-color="#8b8b8b"/><stop offset="0.9867" stop-color="#000000"/><stop offset="1.0000" stop-color="#000000"/></linearGradient>
<linearGradient id="g1_s29" gradientUnits="userSpaceOnUse" x1="0" y1="154" x2="0" y2="230"><stop offset="0.0000" stop-color="#545454"/><stop offset="0.0500" stop-color="#585858"/><stop offset="0.1000" stop-color="#5b5b5b"/><stop offset="0.1500" stop-color="#5f5f5f"/><stop offset="0.2000" stop-color="#626262"/><stop offset="0.2500" stop-color="#656565"/><stop offset="0.3000" stop-color="#696969"/><stop offset="0.4000" stop-color="#6f6f6f"/><stop offset="0.5000" stop-color="#767676"/><stop offset="0.6000" stop-color="#7d7d7d"/><stop offset="0.7000" stop-color="#838383"/><stop offset="0.7667" stop-color="#888888"/><stop offset="0.8333" stop-color="#8c8c8c"/><stop offset="0.8667" stop-color="#8e8e8e"/><stop offset="0.9000" stop-color="#919191"/><stop offset="0.9267" stop-color="#929292"/><stop offset="0.9500" stop-color="#949494"/><stop offset="0.9667" stop-color="#959595"/><stop offset="0.9683" stop-color="#959595"/><stop offset="0.9850" stop-color="#969696"/><stop offset="0.9867" stop-color="#000000"/><stop offset="1.0000" stop-color="#000000"/></linearGradient>
<linearGradient id="g1_s30" gradientUnits="userSpaceOnUse" x1="0" y1="154" x2="0" y2="230"><stop offset="0.0000" stop-color="#515151"/><stop offset="0.0500" stop-color="#545454"/><stop offset="0.1000" stop-color="#585858"/><stop offset="0.1500" stop-color="#5b5b5b"/><stop offset="0.2000" stop-color="#5e5e5e"/><stop offset="0.2500" stop-color="#616161"/><stop offset="0.3000" stop-color="#646464"/><stop offset="0.4000" stop-color="#6b6b6b"/><stop offset="0.5000" stop-color="#717171"/><stop offset="0.6000" stop-color="#787878"/><stop offset="0.7000" stop-color="#7e7e7e"/><stop offset="0.7667" stop-color="#828282"/><stop offset="0.8333" stop-color="#868686"/><stop offset="0.8667" stop-color="#898989"/><stop offset="0.9000" stop-color="#8b8b8b"/><stop offset="0.9267" stop-color="#8c8c8c"/><stop offset="0.9500" stop-color="#8e8e8e"/><stop offset="0.9667" stop-color="#8f8f8f"/><stop offset="0.9683" stop-color="#8f8f8f"/><stop offset="0.9850" stop-color="#909090"/><stop offset="0.9867" stop-color="#000000"/><stop offset="1.0000" stop-color="#000000"/></linearGradient>
<linearGradient id="g1_s31" gradientUnits="userSpaceOnUse" x1="0" y1="154" x2="0" y2="230"><stop offset="0.0000" stop-color="#545454"/><stop offset="0.0500" stop-color="#585858"/><stop offset="0.1000" stop-color="#5b5b5b"/><stop offset="0.1500" stop-color="#5f5f5f"/><stop offset="0.2000" stop-color="#626262"/><stop offset="0.2500" stop-color="#666666"/><stop offset="0.3000" stop-color="#6a6a6a"/><stop offset="0.4000" stop-color="#717171"/><stop offset="0.5000" stop-color="#787878"/><stop offset="0.6000" stop-color="#7f7f7f"/><stop offset="0.7000" stop-color="#868686"/><stop offset="0.7667" stop-color="#8a8a8a"/><stop offset="0.8333" stop-color="#8f8f8f"/><stop offset="0.8667" stop-color="#919191"/><stop offset="0.9000" stop-color="#949494"/><stop offset="0.9267" stop-color="#959595"/><stop offset="0.9500" stop-color="#979797"/><stop offset="0.9667" stop-color="#989898"/><stop offset="0.9683" stop-color="#989898"/><stop offset="0.9850" stop-color="#9a9a9a"/><stop offset="0.9867" stop-color="#000000"/><stop offset="1.0000" stop-color="#000000"/></linearGradient>
<linearGradient id="g1_s32" gradientUnits="userSpaceOnUse" x1="0" y1="154" x2="0" y2="230"><stop offset="0.0000" stop-color="#4b4b4b"/><stop offset="0.0500" stop-color="#4e4e4e"/><stop offset="0.1000" stop-color="#515151"/><stop offset="0.1500" stop-color="#545454"/><stop offset="0.2000" stop-color="#585858"/><stop offset="0.2500" stop-color="#5b5b5b"/><stop offset="0.3000" stop-color="#5e5e5e"/><stop offset="0.4000" stop-color="#646464"/><stop offset="0.5000" stop-color="#6b6b6b"/><stop offset="0.6000" stop-color="#717171"/><stop offset="0.7000" stop-color="#787878"/><stop offset="0.7667" stop-color="#7c7c7c"/><stop offset="0.8333" stop-color="#808080"/><stop offset="0.8667" stop-color="#828282"/><stop offset="0.9000" stop-color="#848484"/><stop offset="0.9267" stop-color="#868686"/><stop offset="0.9500" stop-color="#878787"/><stop offset="0.9667" stop-color="#898989"/><stop offset="0.9683" stop-color="#8b8b8b"/><stop offset="0.9850" stop-color="#8b8b8b"/><stop offset="0.9867" stop-color="#000000"/><stop offset="1.0000" stop-color="#000000"/></linearGradient>
<linearGradient id="g1_s33" gradientUnits="userSpaceOnUse" x1="0" y1="154" x2="0" y2="230"><stop offset="0.0000" stop-color="#353535"/><stop offset="0.0500" stop-color="#353535"/><stop offset="0.1000" stop-color="#353535"/><stop offset="0.1500" stop-color="#353535"/><stop offset="0.2000" stop-color="#353535"/><stop offset="0.2500" stop-color="#373737"/><stop offset="0.3000" stop-color="#3a3a3a"/><stop offset="0.4000" stop-color="#3f3f3f"/><stop offset="0.5000" stop-color="#444444"/><stop offset="0.6000" stop-color="#494949"/><stop offset="0.7000" stop-color="#4e4e4e"/><stop offset="0.7667" stop-color="#515151"/><stop offset="0.8333" stop-color="#545454"/><stop offset="0.8667" stop-color="#565656"/><stop offset="0.9000" stop-color="#575757"/><stop offset="0.9267" stop-color="#595959"/><stop offset="0.9500" stop-color="#5a5a5a"/><stop offset="0.9667" stop-color="#616161"/><stop offset="0.9683" stop-color="#8b8b8b"/><stop offset="0.9850" stop-color="#8b8b8b"/><stop offset="0.9867" stop-color="#000000"/><stop offset="1.0000" stop-color="#000000"/></linearGradient>
<linearGradient id="g1_s34" gradientUnits="userSpaceOnUse" x1="0" y1="154" x2="0" y2="230"><stop offset="0.0000" stop-color="#3b3b3b"/><stop offset="0.0500" stop-color="#3d3d3d"/><stop offset="0.1000" stop-color="#3f3f3f"/><stop offset="0.1500" stop-color="#424242"/><stop offset="0.2000" stop-color="#444444"/><stop offset="0.2500" stop-color="#464646"/><stop offset="0.3000" stop-color="#484848"/><stop offset="0.4000" stop-color="#4d4d4d"/><stop offset="0.5000" stop-color="#515151"/><stop offset="0.6000" stop-color="#565656"/><stop offset="0.7000" stop-color="#5a5a5a"/><stop offset="0.7667" stop-color="#5d5d5d"/><stop offset="0.8333" stop-color="#606060"/><stop offset="0.8667" stop-color="#626262"/><stop offset="0.9000" stop-color="#636363"/><stop offset="0.9267" stop-color="#646464"/><stop offset="0.9500" stop-color="#656565"/><stop offset="0.9667" stop-color="#666666"/><stop offset="0.9683" stop-color="#8b8b8b"/><stop offset="0.9850" stop-color="#8b8b8b"/><stop offset="0.9867" stop-color="#000000"/><stop offset="1.0000" stop-color="#000000"/></linearGradient>
<linearGradient id="g1_s35" gradientUnits="userSpaceOnUse" x1="0" y1="154" x2="0" y2="230"><stop offset="0.0000" stop-color="#383838"/><stop offset="0.0500" stop-color="#3a3a3a"/><stop offset="0.1000" stop-color="#3c3c3c"/><stop offset="0.1500" stop-color="#3e3e3e"/><stop offset="0.2000" stop-color="#3f3f3f"/><stop offset="0.2500" stop-color="#414141"/><stop offset="0.3000" stop-color="#434343"/><stop offset="0.4000" stop-color="#474747"/><stop offset="0.5000" stop-color="#4b4b4b"/><stop offset="0.6000" stop-color="#4f4f4f"/><stop offset="0.7000" stop-color="#535353"/><stop offset="0.7667" stop-color="#555555"/><stop offset="0.8333" stop-color="#585858"/><stop offset="0.8667" stop-color="#595959"/><stop offset="0.9000" stop-color="#5a5a5a"/><stop offset="0.9267" stop-color="#5b5b5b"/><stop offset="0.9500" stop-color="#5c5c5c"/><stop offset="0.9667" stop-color="#616161"/><stop offset="0.9683" stop-color="#8b8b8b"/><stop offset="0.9850" stop-color="#8b8b8b"/><stop offset="0.9867" stop-color="#000000"/><stop offset="1.0000" stop-color="#000000"/></linearGradient>
<linearGradient id="g1_s36" gradientUnits="userSpaceOnUse" x1="0" y1="154" x2="0" y2="230"><stop offset="0.0000" stop-color="#383838"/><stop offset="0.0500" stop-color="#3a3a3a"/><stop offset="0.1000" stop-color="#3c3c3c"/><stop offset="0.1500" stop-color="#3e3e3e"/><stop offset="0.2000" stop-color="#404040"/><stop offset="0.2500" stop-color="#424242"/><stop offset="0.3000" stop-color="#444444"/><stop offset="0.4000" stop-color="#484848"/><stop offset="0.5000" stop-color="#4c4c4c"/><stop offset="0.6000" stop-color="#515151"/><stop offset="0.7000" stop-color="#555555"/><stop offset="0.7667" stop-color="#585858"/><stop offset="0.8333" stop-color="#5a5a5a"/><stop offset="0.8667" stop-color="#5c5c5c"/><stop offset="0.9000" stop-color="#5d5d5d"/><stop offset="0.9267" stop-color="#5e5e5e"/><stop offset="0.9500" stop-color="#5f5f5f"/><stop offset="0.9667" stop-color="#616161"/><stop offset="0.9683" stop-color="#8b8b8b"/><stop offset="0.9850" stop-color="#8b8b8b"/><stop offset="0.9867" stop-color="#000000"/><stop offset="1.0000" stop-color="#000000"/></linearGradient>
<linearGradient id="g1_s37" gradientUnits="userSpaceOnUse" x1="0" y1="154" x2="0" y2="230"><stop offset="0.0000" stop-color="#3e3e3e"/><stop offset="0.0500" stop-color="#404040"/><stop offset="0.1000" stop-color="#434343"/><stop offset="0.1500" stop-color="#454545"/><stop offset="0.2000" stop-color="#474747"/><stop offset="0.2500" stop-color="#494949"/><stop offset="0.3000" stop-color="#4c4c4c"/><stop offset="0.4000" stop-color="#505050"/><stop offset="0.5000" stop-color="#545454"/><stop offset="0.6000" stop-color="#595959"/><stop offset="0.7000" stop-color="#5d5d5d"/><stop offset="0.7667" stop-color="#606060"/><stop offset="0.8333" stop-color="#636363"/><stop offset="0.8667" stop-color="#656565"/><stop offset="0.9000" stop-color="#666666"/><stop offset="0.9267" stop-color="#686868"/><stop offset="0.9500" stop-color="#696969"/><stop offset="0.9667" stop-color="#696969"/><stop offset="0.9683" stop-color="#8b8b8b"/><stop offset="0.9850" stop-color="#8b8b8b"/><stop offset="0.9867" stop-color="#000000"/><stop offset="1.0000" stop-color="#000000"/></linearGradient>
<linearGradient id="g1_s38" gradientUnits="userSpaceOnUse" x1="0" y1="154" x2="0" y2="230"><stop offset="0.0000" stop-color="#3b3b3b"/><stop offset="0.0500" stop-color="#3d3d3d"/><stop offset="0.1000" stop-color="#3f3f3f"/><stop offset="0.1500" stop-color="#414141"/><stop offset="0.2000" stop-color="#434343"/><stop offset="0.2500" stop-color="#454545"/><stop offset="0.3000" stop-color="#474747"/><stop offset="0.4000" stop-color="#4c4c4c"/><stop offset="0.5000" stop-color="#505050"/><stop offset="0.6000" stop-color="#545454"/><stop offset="0.7000" stop-color="#585858"/><stop offset="0.7667" stop-color="#5b5b5b"/><stop offset="0.8333" stop-color="#5e5e5e"/><stop offset="0.8667" stop-color="#5f5f5f"/><stop offset="0.9000" stop-color="#606060"/><stop offset="0.9267" stop-color="#616161"/><stop offset="0.9500" stop-color="#626262"/><stop offset="0.9667" stop-color="#636363"/><stop offset="0.9683" stop-color="#8b8b8b"/><stop offset="0.9850" stop-color="#8b8b8b"/><stop offset="0.9867" stop-color="#000000"/><stop offset="1.0000" stop-color="#000000"/></linearGradient>
<linearGradient id="g1_s39" gradientUnits="userSpaceOnUse" x1="0" y1="154" x2="0" y2="230"><stop offset="0.0000" stop-color="#454545"/><stop offset="0.0500" stop-color="#474747"/><stop offset="0.1000" stop-color="#494949"/><stop offset="0.1500" stop-color="#4c4c4c"/><stop offset="0.2000" stop-color="#4e4e4e"/><stop offset="0.2500" stop-color="#505050"/><stop offset="0.3000" stop-color="#535353"/><stop offset="0.4000" stop-color="#585858"/><stop offset="0.5000" stop-color="#5c5c5c"/><stop offset="0.6000" stop-color="#616161"/><stop offset="0.7000" stop-color="#666666"/><stop offset="0.7667" stop-color="#696969"/><stop offset="0.8333" stop-color="#6c6c6c"/><stop offset="0.8667" stop-color="#6e6e6e"/><stop offset="0.9000" stop-color="#707070"/><stop offset="0.9267" stop-color="#717171"/><stop offset="0.9500" stop-color="#727272"/><stop offset="0.9667" stop-color="#737373"/><stop offset="0.9683" stop-color="#8b8b8b"/><stop offset="0.9850" stop-color="#8b8b8b"/><stop offset="0.9867" stop-color="#000000"/><stop offset="1.0000" stop-color="#000000"/></linearGradient>
<linearGradient id="g1_s40" gradientUnits="userSpaceOnUse" x1="0" y1="154" x2="0" y2="230"><stop offset="0.0000" stop-color="#3e3e3e"/><stop offset="0.0500" stop-color="#404040"/><stop offset="0.1000" stop-color="#424242"/><stop offset="0.1500" stop-color="#444444"/><stop offset="0.2000" stop-color="#464646"/><stop offset="0.2500" stop-color="#494949"/><stop offset="0.3000" stop-color="#4b4b4b"/><stop offset="0.4000" stop-color="#4f4f4f"/><stop offset="0.5000" stop-color="#535353"/><stop offset="0.6000" stop-color="#575757"/><stop offset="0.7000" stop-color="#5b5b5b"/><stop offset="0.7667" stop-color="#5e5e5e"/><stop offset="0.8333" stop-color="#616161"/><stop offset="0.8667" stop-color="#626262"/><stop offset="0.9000" stop-color="#636363"/><stop offset="0.9267" stop-color="#656565"/><stop offset="0.9500" stop-color="#666666"/><stop offset="0.9667" stop-color="#666666"/><stop offset="0.9683" stop-color="#8b8b8b"/><stop offset="0.9850" stop-color="#8b8b8b"/><stop offset="0.9867" stop-color="#000000"/><stop offset="1.0000" stop-color="#000000"/></linearGradient>
<linearGradient id="g1_s41" gradientUnits="userSpaceOnUse" x1="0" y1="154" x2="0" y2="230"><stop offset="0.0000" stop-color="#4b4b4b"/><stop offset="0.0500" stop-color="#595959"/><stop offset="0.1000" stop-color="#6d6d6d"/><stop offset="0.1500" stop-color="#7f7f7f"/><stop offset="0.2000" stop-color="#8f8f8f"/><stop offset="0.2500" stop-color="#979797"/><stop offset="0.3000" stop-color="#9b9b9b"/><stop offset="0.4000" stop-color="#9d9d9d"/><stop offset="0.5000" stop-color="#a1a1a1"/><stop offset="0.6000" stop-color="#a7a7a7"/><stop offset="0.7000" stop-color="#b1b1b1"/><stop offset="0.7667" stop-color="#bcbcbc"/><stop offset="0.8333" stop-color="#c9c9c9"/><stop offset="0.8667" stop-color="#d1d1d1"/><stop offset="0.9000" stop-color="#d9d9d9"/><stop offset="0.9267" stop-color="#dfdfdf"/><stop offset="0.9500" stop-color="#e4e4e4"/><stop offset="0.9667" stop-color="#e8e8e8"/><stop offset="0.9683" stop-color="#e8e8e8"/><stop offset="0.9850" stop-color="#ececec"/><stop offset="0.9867" stop-color="#000000"/><stop offset="1.0000" stop-color="#000000"/></linearGradient>
<linearGradient id="g1_s42" gradientUnits="userSpaceOnUse" x1="0" y1="154" x2="0" y2="230"><stop offset="0.0000" stop-color="#353535"/><stop offset="0.0500" stop-color="#353535"/><stop offset="0.1000" stop-color="#353535"/><stop offset="0.1500" stop-color="#353535"/><stop offset="0.2000" stop-color="#353535"/><stop offset="0.2500" stop-color="#353535"/><stop offset="0.3000" stop-color="#363636"/><stop offset="0.4000" stop-color="#3c3c3c"/><stop offset="0.5000" stop-color="#434343"/><stop offset="0.6000" stop-color="#4a4a4a"/><stop offset="0.7000" stop-color="#505050"/><stop offset="0.7667" stop-color="#555555"/><stop offset="0.8333" stop-color="#595959"/><stop offset="0.8667" stop-color="#5b5b5b"/><stop offset="0.9000" stop-color="#5e5e5e"/><stop offset="0.9267" stop-color="#5f5f5f"/><stop offset="0.9500" stop-color="#616161"/><stop offset="0.9667" stop-color="#626262"/><stop offset="0.9683" stop-color="#8b8b8b"/><stop offset="0.9850" stop-color="#8b8b8b"/><stop offset="0.9867" stop-color="#000000"/><stop offset="1.0000" stop-color="#000000"/></linearGradient>
<linearGradient id="g1_s43" gradientUnits="userSpaceOnUse" x1="0" y1="154" x2="0" y2="230"><stop offset="0.0000" stop-color="#585858"/><stop offset="0.0500" stop-color="#595959"/><stop offset="0.1000" stop-color="#5b5b5b"/><stop offset="0.1500" stop-color="#5c5c5c"/><stop offset="0.2000" stop-color="#5e5e5e"/><stop offset="0.2500" stop-color="#606060"/><stop offset="0.3000" stop-color="#616161"/><stop offset="0.4000" stop-color="#646464"/><stop offset="0.5000" stop-color="#686868"/><stop offset="0.6000" stop-color="#6b6b6b"/><stop offset="0.7000" stop-color="#6e6e6e"/><stop offset="0.7667" stop-color="#707070"/><stop offset="0.8333" stop-color="#727272"/><stop offset="0.8667" stop-color="#737373"/><stop offset="0.9000" stop-color="#747474"/><stop offset="0.9267" stop-color="#757575"/><stop offset="0.9500" stop-color="#767676"/><stop offset="0.9667" stop-color="#767676"/><stop offset="0.9683" stop-color="#8b8b8b"/><stop offset="0.9850" stop-color="#8b8b8b"/><stop offset="0.9867" stop-color="#000000"/><stop offset="1.0000" stop-color="#000000"/></linearGradient>
<linearGradient id="g1_s44" gradientUnits="userSpaceOnUse" x1="0" y1="154" x2="0" y2="230"><stop offset="0.0000" stop-color="#383838"/><stop offset="0.0500" stop-color="#3b3b3b"/><stop offset="0.1000" stop-color="#3e3e3e"/><stop offset="0.1500" stop-color="#404040"/><stop offset="0.2000" stop-color="#434343"/><stop offset="0.2500" stop-color="#464646"/><stop offset="0.3000" stop-color="#494949"/><stop offset="0.4000" stop-color="#4f4f4f"/><stop offset="0.5000" stop-color="#545454"/><stop offset="0.6000" stop-color="#5a5a5a"/><stop offset="0.7000" stop-color="#606060"/><stop offset="0.7667" stop-color="#646464"/><stop offset="0.8333" stop-color="#686868"/><stop offset="0.8667" stop-color="#6a6a6a"/><stop offset="0.9000" stop-color="#6b6b6b"/><stop offset="0.9267" stop-color="#6d6d6d"/><stop offset="0.9500" stop-color="#6e6e6e"/><stop offset="0.9667" stop-color="#6f6f6f"/><stop offset="0.9683" stop-color="#8b8b8b"/><stop offset="0.9850" stop-color="#8b8b8b"/><stop offset="0.9867" stop-color="#000000"/><stop offset="1.0000" stop-color="#000000"/></linearGradient>
<linearGradient id="g1_s45" gradientUnits="userSpaceOnUse" x1="0" y1="154" x2="0" y2="230"><stop offset="0.0000" stop-color="#383838"/><stop offset="0.0500" stop-color="#3a3a3a"/><stop offset="0.1000" stop-color="#3d3d3d"/><stop offset="0.1500" stop-color="#404040"/><stop offset="0.2000" stop-color="#434343"/><stop offset="0.2500" stop-color="#454545"/><stop offset="0.3000" stop-color="#484848"/><stop offset="0.4000" stop-color="#4d4d4d"/><stop offset="0.5000" stop-color="#535353"/><stop offset="0.6000" stop-color="#585858"/><stop offset="0.7000" stop-color="#5e5e5e"/><stop offset="0.7667" stop-color="#616161"/><stop offset="0.8333" stop-color="#656565"/><stop offset="0.8667" stop-color="#676767"/><stop offset="0.9000" stop-color="#696969"/><stop offset="0.9267" stop-color="#6a6a6a"/><stop offset="0.9500" stop-color="#6b6b6b"/><stop offset="0.9667" stop-color="#6c6c6c"/><stop offset="0.9683" stop-color="#8b8b8b"/><stop offset="0.9850" stop-color="#8b8b8b"/><stop offset="0.9867" stop-color="#000000"/><stop offset="1.0000" stop-color="#000000"/></linearGradient>
<linearGradient id="g1_s46" gradientUnits="userSpaceOnUse" x1="0" y1="154" x2="0" y2="230"><stop offset="0.0000" stop-color="#353535"/><stop offset="0.0500" stop-color="#353535"/><stop offset="0.1000" stop-color="#353535"/><stop offset="0.1500" stop-color="#373737"/><stop offset="0.2000" stop-color="#3a3a3a"/><stop offset="0.2500" stop-color="#3d3d3d"/><stop offset="0.3000" stop-color="#3f3f3f"/><stop offset="0.4000" stop-color="#454545"/><stop offset="0.5000" stop-color="#4b4b4b"/><stop offset="0.6000" stop-color="#515151"/><stop offset="0.7000" stop-color="#565656"/><stop offset="0.7667" stop-color="#5a5a5a"/><stop offset="0.8333" stop-color="#5e5e5e"/><stop offset="0.8667" stop-color="#606060"/><stop offset="0.9000" stop-color="#626262"/><stop offset="0.9267" stop-color="#636363"/><stop offset="0.9500" stop-color="#656565"/><stop offset="0.9667" stop-color="#666666"/><stop offset="0.9683" stop-color="#8b8b8b"/><stop offset="0.9850" stop-color="#8b8b8b"/><stop offset="0.9867" stop-color="#000000"/><stop offset="1.0000" stop-color="#000000"/></linearGradient>
<linearGradient id="g1_s47" gradientUnits="userSpaceOnUse" x1="0" y1="154" x2="0" y2="230"><stop offset="0.0000" stop-color="#505050"/><stop offset="0.0500" stop-color="#525252"/><stop offset="0.1000" stop-color="#545454"/><stop offset="0.1500" stop-color="#565656"/><stop offset="0.2000" stop-color="#585858"/><stop offset="0.2500" stop-color="#5a5a5a"/><stop offset="0.3000" stop-color="#5c5c5c"/><stop offset="0.4000" stop-color="#606060"/><stop offset="0.5000" stop-color="#646464"/><stop offset="0.6000" stop-color="#686868"/><stop offset="0.7000" stop-color="#6c6c6c"/><stop offset="0.7667" stop-color="#6e6e6e"/><stop offset="0.8333" stop-color="#717171"/><stop offset="0.8667" stop-color="#727272"/><stop offset="0.9000" stop-color="#747474"/><stop offset="0.9267" stop-color="#757575"/><stop offset="0.9500" stop-color="#767676"/><stop offset="0.9667" stop-color="#767676"/><stop offset="0.9683" stop-color="#8b8b8b"/><stop offset="0.9850" stop-color="#8b8b8b"/><stop offset="0.9867" stop-color="#000000"/><stop offset="1.0000" stop-color="#000000"/></linearGradient>
<linearGradient id="g1_s48" gradientUnits="userSpaceOnUse" x1="0" y1="154" x2="0" y2="230"><stop offset="0.0000" stop-color="#383838"/><stop offset="0.0500" stop-color="#3a3a3a"/><stop offset="0.1000" stop-color="#3d3d3d"/><stop offset="0.1500" stop-color="#3f3f3f"/><stop offset="0.2000" stop-color="#414141"/><stop offset="0.2500" stop-color="#444444"/><stop offset="0.3000" stop-color="#464646"/><stop offset="0.4000" stop-color="#4b4b4b"/><stop offset="0.5000" stop-color="#505050"/><stop offset="0.6000" stop-color="#545454"/><stop offset="0.7000" stop-color="#595959"/><stop offset="0.7667" stop-color="#5c5c5c"/><stop offset="0.8333" stop-color="#606060"/><stop offset="0.8667" stop-color="#616161"/><stop offset="0.9000" stop-color="#636363"/><stop offset="0.9267" stop-color="#646464"/><stop offset="0.9500" stop-color="#656565"/><stop offset="0.9667" stop-color="#666666"/><stop offset="0.9683" stop-color="#8b8b8b"/><stop offset="0.9850" stop-color="#8b8b8b"/><stop offset="0.9867" stop-color="#000000"/><stop offset="1.0000" stop-color="#000000"/></linearGradient>
<linearGradient id="g1_s49" gradientUnits="userSpaceOnUse" x1="0" y1="154" x2="0" y2="230"><stop offset="0.0000" stop-color="#787878"/><stop offset="0.0500" stop-color="#7a7a7a"/><stop offset="0.1000" stop-color="#7c7c7c"/><stop offset="0.1500" stop-color="#7f7f7f"/><stop offset="0.2000" stop-color="#818181"/><stop offset="0.2500" stop-color="#838383"/><stop offset="0.3000" stop-color="#868686"/><stop offset="0.4000" stop-color="#8b8b8b"/><stop offset="0.5000" stop-color="#8f8f8f"/><stop offset="0.6000" stop-color="#949494"/><stop offset="0.7000" stop-color="#999999"/><stop offset="0.7667" stop-color="#9c9c9c"/><stop offset="0.8333" stop-color="#9f9f9f"/><stop offset="0.8667" stop-color="#a1a1a1"/><stop offset="0.9000" stop-color="#a3a3a3"/><stop offset="0.9267" stop-color="#a4a4a4"/><stop offset="0.9500" stop-color="#a5a5a5"/><stop offset="0.9667" stop-color="#a6a6a6"/><stop offset="0.9683" stop-color="#a6a6a6"/><stop offset="0.9850" stop-color="#a7a7a7"/><stop offset="0.9867" stop-color="#000000"/><stop offset="1.0000" stop-color="#000000"/></linearGradient>
<linearGradient id="g1_s50" gradientUnits="userSpaceOnUse" x1="0" y1="154" x2="0" y2="230"><stop offset="0.0000" stop-color="#404040"/><stop offset="0.0500" stop-color="#434343"/><stop offset="0.1000" stop-color="#474747"/><stop offset="0.1500" stop-color="#4b4b4b"/><stop offset="0.2000" stop-color="#4e4e4e"/><stop offset="0.2500" stop-color="#525252"/><stop offset="0.3000" stop-color="#555555"/><stop offset="0.4000" stop-color="#5c5c5c"/><stop offset="0.5000" stop-color="#646464"/><stop offset="0.6000" stop-color="#6b6b6b"/><stop offset="0.7000" stop-color="#727272"/><stop offset="0.7667" stop-color="#777777"/><stop offset="0.8333" stop-color="#7c7c7c"/><stop offset="0.8667" stop-color="#7e7e7e"/><stop offset="0.9000" stop-color="#808080"/><stop offset="0.9267" stop-color="#828282"/><stop offset="0.9500" stop-color="#848484"/><stop offset="0.9667" stop-color="#858585"/><stop offset="0.9683" stop-color="#8b8b8b"/><stop offset="0.9850" stop-color="#8b8b8b"/><stop offset="0.9867" stop-color="#000000"/><stop offset="1.0000" stop-color="#000000"/></linearGradient>
<linearGradient id="g1_s51" gradientUnits="userSpaceOnUse" x1="0" y1="154" x2="0" y2="230"><stop offset="0.0000" stop-color="#363636"/><stop offset="0.0500" stop-color="#414141"/><stop offset="0.1000" stop-color="#515151"/><stop offset="0.1500" stop-color="#646464"/><stop offset="0.2000" stop-color="#737373"/><stop offset="0.2500" stop-color="#7c7c7c"/><stop offset="0.3000" stop-color="#808080"/><stop offset="0.4000" stop-color="#858585"/><stop offset="0.5000" stop-color="#878787"/><stop offset="0.6000" stop-color="#8b8b8b"/><stop offset="0.7000" stop-color="#909090"/><stop offset="0.7667" stop-color="#959595"/><stop offset="0.8333" stop-color="#9b9b9b"/><stop offset="0.8667" stop-color="#9f9f9f"/><stop offset="0.9000" stop-color="#a3a3a3"/><stop offset="0.9267" stop-color="#a6a6a6"/><stop offset="0.9500" stop-color="#a9a9a9"/><stop offset="0.9667" stop-color="#ababab"/><stop offset="0.9683" stop-color="#acacac"/><stop offset="0.9850" stop-color="#aeaeae"/><stop offset="0.9867" stop-color="#000000"/><stop offset="1.0000" stop-color="#000000"/></linearGradient>
<linearGradient id="g1_s52" gradientUnits="userSpaceOnUse" x1="0" y1="154" x2="0" y2="230"><stop offset="0.0000" stop-color="#353535"/><stop offset="0.0500" stop-color="#393939"/><stop offset="0.1000" stop-color="#494949"/><stop offset="0.1500" stop-color="#5c5c5c"/><stop offset="0.2000" stop-color="#6b6b6b"/><stop offset="0.2500" stop-color="#747474"/><stop offset="0.3000" stop-color="#787878"/><stop offset="0.4000" stop-color="#7d7d7d"/><stop offset="0.5000" stop-color="#808080"/><stop offset="0.6000" stop-color="#838383"/><stop offset="0.7000" stop-color="#888888"/><stop offset="0.7667" stop-color="#8e8e8e"/><stop offset="0.8333" stop-color="#939393"/><stop offset="0.8667" stop-color="#979797"/><stop offset="0.9000" stop-color="#9b9b9b"/><stop offset="0.9267" stop-color="#9f9f9f"/><stop offset="0.9500" stop-color="#a1a1a1"/><stop offset="0.9667" stop-color="#a3a3a3"/><stop offset="0.9683" stop-color="#a4a4a4"/><stop offset="0.9850" stop-color="#a6a6a6"/><stop offset="0.9867" stop-color="#000000"/><stop offset="1.0000" stop-color="#000000"/></linearGradient>
<linearGradient id="g1_s53" gradientUnits="userSpaceOnUse" x1="0" y1="154" x2="0" y2="230"><stop offset="0.0000" stop-color="#353535"/><stop offset="0.0500" stop-color="#353535"/><stop offset="0.1000" stop-color="#363636"/><stop offset="0.1500" stop-color="#393939"/><stop offset="0.2000" stop-color="#3d3d3d"/><stop offset="0.2500" stop-color="#404040"/><stop offset="0.3000" stop-color="#434343"/><stop offset="0.4000" stop-color="#494949"/><stop offset="0.5000" stop-color="#505050"/><stop offset="0.6000" stop-color="#565656"/><stop offset="0.7000" stop-color="#5c5c5c"/><stop offset="0.7667" stop-color="#616161"/><stop offset="0.8333" stop-color="#656565"/><stop offset="0.8667" stop-color="#676767"/><stop offset="0.9000" stop-color="#696969"/><stop offset="0.9267" stop-color="#6b6b6b"/><stop offset="0.9500" stop-color="#6c6c6c"/><stop offset="0.9667" stop-color="#6d6d6d"/><stop offset="0.9683" stop-color="#8b8b8b"/><stop offset="0.9850" stop-color="#8b8b8b"/><stop offset="0.9867" stop-color="#000000"/><stop offset="1.0000" stop-color="#000000"/></linearGradient>
<linearGradient id="g1_s54" gradientUnits="userSpaceOnUse" x1="0" y1="154" x2="0" y2="230"><stop offset="0.0000" stop-color="#353535"/><stop offset="0.0500" stop-color="#353535"/><stop offset="0.1000" stop-color="#353535"/><stop offset="0.1500" stop-color="#353535"/><stop offset="0.2000" stop-color="#363636"/><stop offset="0.2500" stop-color="#363636"/><stop offset="0.3000" stop-color="#373737"/><stop offset="0.4000" stop-color="#383838"/><stop offset="0.5000" stop-color="#3a3a3a"/><stop offset="0.6000" stop-color="#3c3c3c"/><stop offset="0.7000" stop-color="#3f3f3f"/><stop offset="0.7667" stop-color="#404040"/><stop offset="0.8333" stop-color="#444444"/><stop offset="0.8667" stop-color="#494949"/><stop offset="0.9000" stop-color="#505050"/><stop offset="0.9267" stop-color="#585858"/><stop offset="0.9500" stop-color="#616161"/><stop offset="0.9667" stop-color="#707070"/><stop offset="0.9683" stop-color="#9a9a9a"/><stop offset="0.9850" stop-color="#9a9a9a"/><stop offset="0.9867" stop-color="#000000"/><stop offset="1.0000" stop-color="#000000"/></linearGradient>
<linearGradient id="g1_s55" gradientUnits="userSpaceOnUse" x1="0" y1="154" x2="0" y2="230"><stop offset="0.0000" stop-color="#404040"/><stop offset="0.0500" stop-color="#424242"/><stop offset="0.1000" stop-color="#444444"/><stop offset="0.1500" stop-color="#464646"/><stop offset="0.2000" stop-color="#484848"/><stop offset="0.2500" stop-color="#4a4a4a"/><stop offset="0.3000" stop-color="#4c4c4c"/><stop offset="0.4000" stop-color="#505050"/><stop offset="0.5000" stop-color="#545454"/><stop offset="0.6000" stop-color="#585858"/><stop offset="0.7000" stop-color="#5c5c5c"/><stop offset="0.7667" stop-color="#5e5e5e"/><stop offset="0.8333" stop-color="#616161"/><stop offset="0.8667" stop-color="#626262"/><stop offset="0.9000" stop-color="#646464"/><stop offset="0.9267" stop-color="#656565"/><stop offset="0.9500" stop-color="#666666"/><stop offset="0.9667" stop-color="#666666"/><stop offset="0.9683" stop-color="#8b8b8b"/><stop offset="0.9850" stop-color="#8b8b8b"/><stop offset="0.9867" stop-color="#000000"/><stop offset="1.0000" stop-color="#000000"/></linearGradient>
<linearGradient id="g1_s56" gradientUnits="userSpaceOnUse" x1="0" y1="154" x2="0" y2="230"><stop offset="0.0000" stop-color="#3b3b3b"/><stop offset="0.0500" stop-color="#494949"/><stop offset="0.1000" stop-color="#5d5d5d"/><stop offset="0.1500" stop-color="#6f6f6f"/><stop offset="0.2000" stop-color="#808080"/><stop offset="0.2500" stop-color="#878787"/><stop offset="0.3000" stop-color="#8b8b8b"/><stop offset="0.4000" stop-color="#8d8d8d"/><stop offset="0.5000" stop-color="#919191"/><stop offset="0.6000" stop-color="#979797"/><stop offset="0.7000" stop-color="#a1a1a1"/><stop offset="0.7667" stop-color="#acacac"/><stop offset="0.8333" stop-color="#b9b9b9"/><stop offset="0.8667" stop-color="#c1c1c1"/><stop offset="0.9000" stop-color="#c9c9c9"/><stop offset="0.9267" stop-color="#cfcfcf"/><stop offset="0.9500" stop-color="#d4d4d4"/><stop offset="0.9667" stop-color="#d8d8d8"/><stop offset="0.9683" stop-color="#d8d8d8"/><stop offset="0.9850" stop-color="#dcdcdc"/><stop offset="0.9867" stop-color="#000000"/><stop offset="1.0000" stop-color="#000000"/></linearGradient>
<linearGradient id="g1_s57" gradientUnits="userSpaceOnUse" x1="0" y1="154" x2="0" y2="230"><stop offset="0.0000" stop-color="#4b4b4b"/><stop offset="0.0500" stop-color="#4c4c4c"/><stop offset="0.1000" stop-color="#4e4e4e"/><stop offset="0.1500" stop-color="#4f4f4f"/><stop offset="0.2000" stop-color="#515151"/><stop offset="0.2500" stop-color="#525252"/><stop offset="0.3000" stop-color="#545454"/><stop offset="0.4000" stop-color="#565656"/><stop offset="0.5000" stop-color="#595959"/><stop offset="0.6000" stop-color="#5c5c5c"/><stop offset="0.7000" stop-color="#5f5f5f"/><stop offset="0.7667" stop-color="#616161"/><stop offset="0.8333" stop-color="#636363"/><stop offset="0.8667" stop-color="#646464"/><stop offset="0.9000" stop-color="#656565"/><stop offset="0.9267" stop-color="#656565"/><stop offset="0.9500" stop-color="#666666"/><stop offset="0.9667" stop-color="#676767"/><stop offset="0.9683" stop-color="#8b8b8b"/><stop offset="0.9850" stop-color="#8b8b8b"/><stop offset="0.9867" stop-color="#000000"/><stop offset="1.0000" stop-color="#000000"/></linearGradient>
<linearGradient id="g1_s58" gradientUnits="userSpaceOnUse" x1="0" y1="154" x2="0" y2="230"><stop offset="0.0000" stop-color="#353535"/><stop offset="0.0500" stop-color="#393939"/><stop offset="0.1000" stop-color="#4d4d4d"/><stop offset="0.1500" stop-color="#5f5f5f"/><stop offset="0.2000" stop-color="#707070"/><stop offset="0.2500" stop-color="#787878"/><stop offset="0.3000" stop-color="#7b7b7b"/><stop offset="0.4000" stop-color="#7d7d7d"/><stop offset="0.5000" stop-color="#818181"/><stop offset="0.6000" stop-color="#888888"/><stop offset="0.7000" stop-color="#919191"/><stop offset="0.7667" stop-color="#9c9c9c"/><stop offset="0.8333" stop-color="#a9a9a9"/><stop offset="0.8667" stop-color="#b1b1b1"/><stop offset="0.9000" stop-color="#b9b9b9"/><stop offset="0.9267" stop-color="#bfbfbf"/><stop offset="0.9500" stop-color="#c4c4c4"/><stop offset="0.9667" stop-color="#c8c8c8"/><stop offset="0.9683" stop-color="#c8c8c8"/><stop offset="0.9850" stop-color="#cccccc"/><stop offset="0.9867" stop-color="#000000"/><stop offset="1.0000" stop-color="#000000"/></linearGradient>
<filter id="f2" filterUnits="userSpaceOnUse" x="81" y="250" width="419" height="76" color-interpolation-filters="sRGB">
<feTurbulence type="fractalNoise" baseFrequency="0.8 0.45" numOctaves="1" seed="5" result="t"/>
<feColorMatrix in="t" type="matrix" values="1 0 0 0 0 1 0 0 0 0 1 0 0 0 0 0 0 0 0 1" result="n0"/>
<feComponentTransfer in="n0" result="n"><feFuncR type="table" tableValues="0 0 0.02 0.18 0.34 0.5 0.6 0.7 0.8 0.9 1"/><feFuncG type="table" tableValues="0 0 0.02 0.18 0.34 0.5 0.6 0.7 0.8 0.9 1"/><feFuncB type="table" tableValues="0 0 0.02 0.18 0.34 0.5 0.6 0.7 0.8 0.9 1"/></feComponentTransfer>
<feComposite in="SourceGraphic" in2="n" operator="arithmetic" k1="-0.0000" k2="1.0000" k3="0.0000" k4="-0.0000" result="s"/>
<feComponentTransfer in="s"><feFuncR type="table" tableValues="0.000 0.000 0.000 0.000 0.000 0.000 0.000 0.000 0.000 0.000 0.000 0.000 0.000 0.000 0.000 0.000 0.000 0.000 0.000 0.000 0.000 0.000 0.000 0.000 0.000 0.000 0.000 0.000 0.000 0.000 0.000 0.000 0.000 0.000 0.000 0.000 0.000 0.000 0.000 0.170 0.340 0.510 0.676 0.842 1.000 1.000 1.000 1.000 1.000 1.000 1.000 1.000 1.000 1.000 1.000 1.000 1.000 1.000 1.000 1.000 1.000 1.000 1.000 1.000 1.000 1.000 1.000 1.000 1.000 1.000 1.000 1.000 1.000 1.000 1.000 1.000 1.000 1.000 1.000 1.000 1.000"/><feFuncG type="table" tableValues="0.000 0.000 0.000 0.000 0.000 0.000 0.000 0.000 0.000 0.000 0.000 0.000 0.000 0.000 0.000 0.000 0.000 0.000 0.000 0.000 0.192 0.383 0.557 0.724 0.891 1.000 1.000 1.000 1.000 1.000 1.000 0.998 0.992 0.985 0.979 0.972 0.966 0.959 0.953 0.969 0.984 1.000 1.000 1.000 0.997 0.936 0.875 0.815 0.754 0.693 0.633 0.572 0.511 0.461 0.412 0.364 0.315 0.267 0.218 0.170 0.121 0.073 0.024 0.000 0.000 0.000 0.000 0.000 0.000 0.000 0.000 0.000 0.000 0.000 0.000 0.000 0.000 0.000 0.000 0.000 0.000"/><feFuncB type="table" tableValues="0.000 0.000 0.000 0.000 0.000 0.000 0.000 0.000 0.000 0.000 0.000 0.000 0.084 0.521 0.569 0.647 0.725 0.804 0.882 0.961 0.978 0.996 1.000 1.000 1.000 0.971 0.890 0.808 0.726 0.645 0.563 0.485 0.415 0.346 0.277 0.208 0.138 0.069 0.000 0.000 0.000 0.000 0.000 0.000 0.000 0.000 0.000 0.000 0.000 0.000 0.000 0.000 0.000 0.000 0.000 0.000 0.000 0.000 0.000 0.000 0.000 0.000 0.000 0.000 0.000 0.000 0.000 0.000 0.000 0.000 0.000 0.000 0.000 0.000 0.000 0.000 0.000 0.000 0.000 0.000 0.000"/></feComponentTransfer>
</filter>
<linearGradient id="g2_bg" gradientUnits="userSpaceOnUse" x1="0" y1="250" x2="0" y2="326"><stop offset="0.0000" stop-color="#cacaca"/><stop offset="0.0500" stop-color="#cacaca"/><stop offset="0.1000" stop-color="#cacaca"/><stop offset="0.1500" stop-color="#cacaca"/><stop offset="0.2000" stop-color="#cacaca"/><stop offset="0.2500" stop-color="#cacaca"/><stop offset="0.3000" stop-color="#cacaca"/><stop offset="0.4000" stop-color="#cacaca"/><stop offset="0.5000" stop-color="#cacaca"/><stop offset="0.6000" stop-color="#cacaca"/><stop offset="0.7000" stop-color="#cacaca"/><stop offset="0.7667" stop-color="#cacaca"/><stop offset="0.8333" stop-color="#cacaca"/><stop offset="0.8667" stop-color="#cacaca"/><stop offset="0.9000" stop-color="#cacaca"/><stop offset="0.9267" stop-color="#cacaca"/><stop offset="0.9500" stop-color="#cacaca"/><stop offset="0.9667" stop-color="#cacaca"/><stop offset="0.9683" stop-color="#cacaca"/><stop offset="0.9850" stop-color="#cacaca"/><stop offset="0.9867" stop-color="#cacaca"/><stop offset="1.0000" stop-color="#cacaca"/></linearGradient>
<linearGradient id="g2_a0" gradientUnits="userSpaceOnUse" x1="0" y1="250" x2="0" y2="326"><stop offset="0.0000" stop-color="#cacaca"/><stop offset="0.0197" stop-color="#cacaca"/><stop offset="0.0395" stop-color="#cacaca"/><stop offset="0.0592" stop-color="#cacaca"/><stop offset="0.0789" stop-color="#cacaca"/><stop offset="0.1053" stop-color="#cacaca"/><stop offset="0.1316" stop-color="#cacaca"/><stop offset="0.1579" stop-color="#cacaca"/><stop offset="0.1842" stop-color="#cacaca"/><stop offset="0.2105" stop-color="#cacaca"/><stop offset="0.2368" stop-color="#cacaca"/><stop offset="0.2763" stop-color="#cacaca"/><stop offset="0.3289" stop-color="#cacaca"/><stop offset="0.3947" stop-color="#cacaca"/><stop offset="0.4342" stop-color="#cacaca"/><stop offset="0.4737" stop-color="#cacaca"/><stop offset="0.5132" stop-color="#cacaca"/><stop offset="0.5329" stop-color="#cacaca"/><stop offset="0.5526" stop-color="#cacaca"/><stop offset="0.5789" stop-color="#cacaca"/><stop offset="0.6053" stop-color="#cacaca"/><stop offset="0.6447" stop-color="#cacaca"/><stop offset="0.6842" stop-color="#cacaca"/><stop offset="0.7237" stop-color="#cacaca"/><stop offset="0.7632" stop-color="#cacaca"/><stop offset="0.8158" stop-color="#cacaca"/><stop offset="1.0000" stop-color="#cacaca"/></linearGradient>
<linearGradient id="g2_a1" gradientUnits="userSpaceOnUse" x1="0" y1="250" x2="0" y2="326"><stop offset="0.0000" stop-color="#7c7c7c"/><stop offset="0.0197" stop-color="#9a9a9a"/><stop offset="0.0395" stop-color="#b6b6b6"/><stop offset="0.0592" stop-color="#cacaca"/><stop offset="0.0789" stop-color="#cacaca"/><stop offset="0.1053" stop-color="#cacaca"/><stop offset="0.1316" stop-color="#cacaca"/><stop offset="0.1579" stop-color="#cacaca"/><stop offset="0.1842" stop-color="#cacaca"/><stop offset="0.2105" stop-color="#cacaca"/><stop offset="0.2368" stop-color="#cacaca"/><stop offset="0.2763" stop-color="#cacaca"/><stop offset="0.3289" stop-color="#cacaca"/><stop offset="0.3947" stop-color="#cacaca"/><stop offset="0.4342" stop-color="#c9c9c9"/><stop offset="0.4737" stop-color="#c8c8c8"/><stop offset="0.5132" stop-color="#c8c8c8"/><stop offset="0.5329" stop-color="#c8c8c8"/><stop offset="0.5526" stop-color="#c8c8c8"/><stop offset="0.5789" stop-color="#c8c8c8"/><stop offset="0.6053" stop-color="#c8c8c8"/><stop offset="0.6447" stop-color="#c8c8c8"/><stop offset="0.6842" stop-color="#c9c9c9"/><stop offset="0.7237" stop-color="#cacaca"/><stop offset="0.7632" stop-color="#cacaca"/><stop offset="0.8158" stop-color="#cacaca"/><stop offset="1.0000" stop-color="#cacaca"/></linearGradient>
<linearGradient id="g2_a2" gradientUnits="userSpaceOnUse" x1="0" y1="250" x2="0" y2="326"><stop offset="0.0000" stop-color="#757575"/><stop offset="0.0197" stop-color="#808080"/><stop offset="0.0395" stop-color="#909090"/><stop offset="0.0592" stop-color="#969696"/><stop offset="0.0789" stop-color="#979797"/><stop offset="0.1053" stop-color="#a1a1a1"/><stop offset="0.1316" stop-color="#c2c2c2"/><stop offset="0.1579" stop-color="#cacaca"/><stop offset="0.1842" stop-color="#cacaca"/><stop offset="0.2105" stop-color="#cacaca"/><stop offset="0.2368" stop-color="#cacaca"/><stop offset="0.2763" stop-color="#cacaca"/><stop offset="0.3289" stop-color="#cacaca"/><stop offset="0.3947" stop-color="#c6c6c6"/><stop offset="0.4342" stop-color="#bdbdbd"/><stop offset="0.4737" stop-color="#b8b8b8"/><stop offset="0.5132" stop-color="#b6b6b6"/><stop offset="0.5329" stop-color="#b6b6b6"/><stop offset="0.5526" stop-color="#b6b6b6"/><stop offset="0.5789" stop-color="#b6b6b6"/><stop offset="0.6053" stop-color="#b7b7b7"/><stop offset="0.6447" stop-color="#bbbbbb"/><stop offset="0.6842" stop-color="#c3c3c3"/><stop offset="0.7237" stop-color="#c9c9c9"/><stop offset="0.7632" stop-color="#cacaca"/><stop offset="0.8158" stop-color="#cacaca"/><stop offset="1.0000" stop-color="#cacaca"/></linearGradient>
<linearGradient id="g2_a3" gradientUnits="userSpaceOnUse" x1="0" y1="250" x2="0" y2="326"><stop offset="0.0000" stop-color="#6f6f6f"/><stop offset="0.0197" stop-color="#767676"/><stop offset="0.0395" stop-color="#818181"/><stop offset="0.0592" stop-color="#8c8c8c"/><stop offset="0.0789" stop-color="#929292"/><stop offset="0.1053" stop-color="#939393"/><stop offset="0.1316" stop-color="#949494"/><stop offset="0.1579" stop-color="#9e9e9e"/><stop offset="0.1842" stop-color="#b3b3b3"/><stop offset="0.2105" stop-color="#c3c3c3"/><stop offset="0.2368" stop-color="#c3c3c3"/><stop offset="0.2763" stop-color="#c3c3c3"/><stop offset="0.3289" stop-color="#c3c3c3"/><stop offset="0.3947" stop-color="#bfbfbf"/><stop offset="0.4342" stop-color="#ababab"/><stop offset="0.4737" stop-color="#9e9e9e"/><stop offset="0.5132" stop-color="#9b9b9b"/><stop offset="0.5329" stop-color="#9a9a9a"/><stop offset="0.5526" stop-color="#9a9a9a"/><stop offset="0.5789" stop-color="#9b9b9b"/><stop offset="0.6053" stop-color="#9c9c9c"/><stop offset="0.6447" stop-color="#a5a5a5"/><stop offset="0.6842" stop-color="#b9b9b9"/><stop offset="0.7237" stop-color="#c7c7c7"/><stop offset="0.7632" stop-color="#cacaca"/><stop offset="0.8158" stop-color="#cacaca"/><stop offset="1.0000" stop-color="#cacaca"/></linearGradient>
<linearGradient id="g2_a4" gradientUnits="userSpaceOnUse" x1="0" y1="250" x2="0" y2="326"><stop offset="0.0000" stop-color="#686868"/><stop offset="0.0197" stop-color="#6f6f6f"/><stop offset="0.0395" stop-color="#777777"/><stop offset="0.0592" stop-color="#838383"/><stop offset="0.0789" stop-color="#8b8b8b"/><stop offset="0.1053" stop-color="#8e8e8e"/><stop offset="0.1316" stop-color="#8f8f8f"/><stop offset="0.1579" stop-color="#909090"/><stop offset="0.1842" stop-color="#999999"/><stop offset="0.2105" stop-color="#a6a6a6"/><stop offset="0.2368" stop-color="#b0b0b0"/><stop offset="0.2763" stop-color="#b0b0b0"/><stop offset="0.3289" stop-color="#b0b0b0"/><stop offset="0.3947" stop-color="#b0b0b0"/><stop offset="0.4342" stop-color="#a2a2a2"/><stop offset="0.4737" stop-color="#909090"/><stop offset="0.5132" stop-color="#8c8c8c"/><stop offset="0.5329" stop-color="#8c8c8c"/><stop offset="0.5526" stop-color="#8c8c8c"/><stop offset="0.5789" stop-color="#8c8c8c"/><stop offset="0.6053" stop-color="#8e8e8e"/><stop offset="0.6447" stop-color="#9a9a9a"/><stop offset="0.6842" stop-color="#b3b3b3"/><stop offset="0.7237" stop-color="#c6c6c6"/><stop offset="0.7632" stop-color="#cacaca"/><stop offset="0.8158" stop-color="#cacaca"/><stop offset="1.0000" stop-color="#cacaca"/></linearGradient>
<linearGradient id="g2_a5" gradientUnits="userSpaceOnUse" x1="0" y1="250" x2="0" y2="326"><stop offset="0.0000" stop-color="#626262"/><stop offset="0.0197" stop-color="#696969"/><stop offset="0.0395" stop-color="#707070"/><stop offset="0.0592" stop-color="#7c7c7c"/><stop offset="0.0789" stop-color="#858585"/><stop offset="0.1053" stop-color="#8a8a8a"/><stop offset="0.1316" stop-color="#8b8b8b"/><stop offset="0.1579" stop-color="#8c8c8c"/><stop offset="0.1842" stop-color="#939393"/><stop offset="0.2105" stop-color="#9c9c9c"/><stop offset="0.2368" stop-color="#aeaeae"/><stop offset="0.2763" stop-color="#aeaeae"/><stop offset="0.3289" stop-color="#aeaeae"/><stop offset="0.3947" stop-color="#aeaeae"/><stop offset="0.4342" stop-color="#a0a0a0"/><stop offset="0.4737" stop-color="#8e8e8e"/><stop offset="0.5132" stop-color="#898989"/><stop offset="0.5329" stop-color="#898989"/><stop offset="0.5526" stop-color="#898989"/><stop offset="0.5789" stop-color="#898989"/><stop offset="0.6053" stop-color="#8b8b8b"/><stop offset="0.6447" stop-color="#989898"/><stop offset="0.6842" stop-color="#b2b2b2"/><stop offset="0.7237" stop-color="#c6c6c6"/><stop offset="0.7632" stop-color="#cacaca"/><stop offset="0.8158" stop-color="#cacaca"/><stop offset="1.0000" stop-color="#cacaca"/></linearGradient>
<linearGradient id="g2_a6" gradientUnits="userSpaceOnUse" x1="0" y1="250" x2="0" y2="326"><stop offset="0.0000" stop-color="#606060"/><stop offset="0.0197" stop-color="#686868"/><stop offset="0.0395" stop-color="#707070"/><stop offset="0.0592" stop-color="#7d7d7d"/><stop offset="0.0789" stop-color="#868686"/><stop offset="0.1053" stop-color="#898989"/><stop offset="0.1316" stop-color="#8a8a8a"/><stop offset="0.1579" stop-color="#8b8b8b"/><stop offset="0.1842" stop-color="#959595"/><stop offset="0.2105" stop-color="#a2a2a2"/><stop offset="0.2368" stop-color="#aeaeae"/><stop offset="0.2763" stop-color="#aeaeae"/><stop offset="0.3289" stop-color="#aeaeae"/><stop offset="0.3947" stop-color="#aeaeae"/><stop offset="0.4342" stop-color="#a0a0a0"/><stop offset="0.4737" stop-color="#8e8e8e"/><stop offset="0.5132" stop-color="#898989"/><stop offset="0.5329" stop-color="#898989"/><stop offset="0.5526" stop-color="#898989"/><stop offset="0.5789" stop-color="#898989"/><stop offset="0.6053" stop-color="#8b8b8b"/><stop offset="0.6447" stop-color="#989898"/><stop offset="0.6842" stop-color="#b2b2b2"/><stop offset="0.7237" stop-color="#c6c6c6"/><stop offset="0.7632" stop-color="#cacaca"/><stop offset="0.8158" stop-color="#cacaca"/><stop offset="1.0000" stop-color="#cacaca"/></linearGradient>
<linearGradient id="g2_a7" gradientUnits="userSpaceOnUse" x1="0" y1="250" x2="0" y2="326"><stop offset="0.0000" stop-color="#676767"/><stop offset="0.0197" stop-color="#6f6f6f"/><stop offset="0.0395" stop-color="#7a7a7a"/><stop offset="0.0592" stop-color="#868686"/><stop offset="0.0789" stop-color="#8d8d8d"/><stop offset="0.1053" stop-color="#8e8e8e"/><stop offset="0.1316" stop-color="#8f8f8f"/><stop offset="0.1579" stop-color="#9a9a9a"/><stop offset="0.1842" stop-color="#aeaeae"/><stop offset="0.2105" stop-color="#aeaeae"/><stop offset="0.2368" stop-color="#aeaeae"/><stop offset="0.2763" stop-color="#aeaeae"/><stop offset="0.3289" stop-color="#aeaeae"/><stop offset="0.3947" stop-color="#aeaeae"/><stop offset="0.4342" stop-color="#a1a1a1"/><stop offset="0.4737" stop-color="#909090"/><stop offset="0.5132" stop-color="#8c8c8c"/><stop offset="0.5329" stop-color="#8b8b8b"/><stop offset="0.5526" stop-color="#8b8b8b"/><stop offset="0.5789" stop-color="#8c8c8c"/><stop offset="0.6053" stop-color="#8d8d8d"/><stop offset="0.6447" stop-color="#9a9a9a"/><stop offset="0.6842" stop-color="#b3b3b3"/><stop offset="0.7237" stop-color="#c6c6c6"/><stop offset="0.7632" stop-color="#cacaca"/><stop offset="0.8158" stop-color="#cacaca"/><stop offset="1.0000" stop-color="#cacaca"/></linearGradient>
<linearGradient id="g2_a8" gradientUnits="userSpaceOnUse" x1="0" y1="250" x2="0" y2="326"><stop offset="0.0000" stop-color="#6d6d6d"/><stop offset="0.0197" stop-color="#787878"/><stop offset="0.0395" stop-color="#8a8a8a"/><stop offset="0.0592" stop-color="#919191"/><stop offset="0.0789" stop-color="#929292"/><stop offset="0.1053" stop-color="#9c9c9c"/><stop offset="0.1316" stop-color="#bcbcbc"/><stop offset="0.1579" stop-color="#bababa"/><stop offset="0.1842" stop-color="#b6b6b6"/><stop offset="0.2105" stop-color="#b6b6b6"/><stop offset="0.2368" stop-color="#b6b6b6"/><stop offset="0.2763" stop-color="#b6b6b6"/><stop offset="0.3289" stop-color="#b6b6b6"/><stop offset="0.3947" stop-color="#b6b6b6"/><stop offset="0.4342" stop-color="#aaaaaa"/><stop offset="0.4737" stop-color="#9d9d9d"/><stop offset="0.5132" stop-color="#999999"/><stop offset="0.5329" stop-color="#999999"/><stop offset="0.5526" stop-color="#999999"/><stop offset="0.5789" stop-color="#999999"/><stop offset="0.6053" stop-color="#9b9b9b"/><stop offset="0.6447" stop-color="#a4a4a4"/><stop offset="0.6842" stop-color="#b8b8b8"/><stop offset="0.7237" stop-color="#c7c7c7"/><stop offset="0.7632" stop-color="#cacaca"/><stop offset="0.8158" stop-color="#cacaca"/><stop offset="1.0000" stop-color="#cacaca"/></linearGradient>
<linearGradient id="g2_a9" gradientUnits="userSpaceOnUse" x1="0" y1="250" x2="0" y2="326"><stop offset="0.0000" stop-color="#747474"/><stop offset="0.0197" stop-color="#959595"/><stop offset="0.0395" stop-color="#a5a5a5"/><stop offset="0.0592" stop-color="#cacaca"/><stop offset="0.0789" stop-color="#cacaca"/><stop offset="0.1053" stop-color="#cacaca"/><stop offset="0.1316" stop-color="#cacaca"/><stop offset="0.1579" stop-color="#c9c9c9"/><stop offset="0.1842" stop-color="#c9c9c9"/><stop offset="0.2105" stop-color="#c9c9c9"/><stop offset="0.2368" stop-color="#c9c9c9"/><stop offset="0.2763" stop-color="#c9c9c9"/><stop offset="0.3289" stop-color="#c9c9c9"/><stop offset="0.3947" stop-color="#c5c5c5"/><stop offset="0.4342" stop-color="#bcbcbc"/><stop offset="0.4737" stop-color="#b6b6b6"/><stop offset="0.5132" stop-color="#b5b5b5"/><stop offset="0.5329" stop-color="#b5b5b5"/><stop offset="0.5526" stop-color="#b5b5b5"/><stop offset="0.5789" stop-color="#b5b5b5"/><stop offset="0.6053" stop-color="#b5b5b5"/><stop offset="0.6447" stop-color="#bababa"/><stop offset="0.6842" stop-color="#c2c2c2"/><stop offset="0.7237" stop-color="#c9c9c9"/><stop offset="0.7632" stop-color="#cacaca"/><stop offset="0.8158" stop-color="#cacaca"/><stop offset="1.0000" stop-color="#cacaca"/></linearGradient>
<linearGradient id="g2_b0" gradientUnits="userSpaceOnUse" x1="0" y1="250" x2="0" y2="326"><stop offset="0.0000" stop-color="#cacaca"/><stop offset="0.0197" stop-color="#cacaca"/><stop offset="0.0395" stop-color="#cacaca"/><stop offset="0.0592" stop-color="#cacaca"/><stop offset="0.0789" stop-color="#cacaca"/><stop offset="0.1053" stop-color="#cacaca"/><stop offset="0.1316" stop-color="#cacaca"/><stop offset="0.1579" stop-color="#cacaca"/><stop offset="0.1842" stop-color="#cacaca"/><stop offset="0.2105" stop-color="#cacaca"/><stop offset="0.2368" stop-color="#cacaca"/><stop offset="0.2763" stop-color="#cacaca"/><stop offset="0.3289" stop-color="#cacaca"/><stop offset="0.3947" stop-color="#c8c8c8"/><stop offset="0.4342" stop-color="#c4c4c4"/><stop offset="0.4737" stop-color="#c1c1c1"/><stop offset="0.5132" stop-color="#c0c0c0"/><stop offset="0.5329" stop-color="#c0c0c0"/><stop offset="0.5526" stop-color="#c0c0c0"/><stop offset="0.5789" stop-color="#c0c0c0"/><stop offset="0.6053" stop-color="#c0c0c0"/><stop offset="0.6447" stop-color="#c1c1c1"/><stop offset="0.6842" stop-color="#c4c4c4"/><stop offset="0.7237" stop-color="#c8c8c8"/><stop offset="0.7632" stop-color="#cacaca"/><stop offset="0.8158" stop-color="#cacaca"/><stop offset="1.0000" stop-color="#cacaca"/></linearGradient>
<linearGradient id="g2_b1" gradientUnits="userSpaceOnUse" x1="0" y1="250" x2="0" y2="326"><stop offset="0.0000" stop-color="#616161"/><stop offset="0.0197" stop-color="#7e7e7e"/><stop offset="0.0395" stop-color="#8a8a8a"/><stop offset="0.0592" stop-color="#959595"/><stop offset="0.0789" stop-color="#cacaca"/><stop offset="0.1053" stop-color="#cacaca"/><stop offset="0.1316" stop-color="#cacaca"/><stop offset="0.1579" stop-color="#c9c9c9"/><stop offset="0.1842" stop-color="#c8c8c8"/><stop offset="0.2105" stop-color="#c8c8c8"/><stop offset="0.2368" stop-color="#c8c8c8"/><stop offset="0.2763" stop-color="#c8c8c8"/><stop offset="0.3289" stop-color="#c8c8c8"/><stop offset="0.3947" stop-color="#c0c0c0"/><stop offset="0.4342" stop-color="#b1b1b1"/><stop offset="0.4737" stop-color="#a6a6a6"/><stop offset="0.5132" stop-color="#a2a2a2"/><stop offset="0.5329" stop-color="#a2a2a2"/><stop offset="0.5526" stop-color="#a2a2a2"/><stop offset="0.5789" stop-color="#a2a2a2"/><stop offset="0.6053" stop-color="#a2a2a2"/><stop offset="0.6447" stop-color="#a6a6a6"/><stop offset="0.6842" stop-color="#b1b1b1"/><stop offset="0.7237" stop-color="#c0c0c0"/><stop offset="0.7632" stop-color="#c9c9c9"/><stop offset="0.8158" stop-color="#cacaca"/><stop offset="1.0000" stop-color="#cacaca"/></linearGradient>
<linearGradient id="g2_b2" gradientUnits="userSpaceOnUse" x1="0" y1="250" x2="0" y2="326"><stop offset="0.0000" stop-color="#595959"/><stop offset="0.0197" stop-color="#636363"/><stop offset="0.0395" stop-color="#727272"/><stop offset="0.0592" stop-color="#808080"/><stop offset="0.0789" stop-color="#858585"/><stop offset="0.1053" stop-color="#868686"/><stop offset="0.1316" stop-color="#8c8c8c"/><stop offset="0.1579" stop-color="#9a9a9a"/><stop offset="0.1842" stop-color="#b0b0b0"/><stop offset="0.2105" stop-color="#b0b0b0"/><stop offset="0.2368" stop-color="#b0b0b0"/><stop offset="0.2763" stop-color="#b0b0b0"/><stop offset="0.3289" stop-color="#b0b0b0"/><stop offset="0.3947" stop-color="#b0b0b0"/><stop offset="0.4342" stop-color="#a3a3a3"/><stop offset="0.4737" stop-color="#929292"/><stop offset="0.5132" stop-color="#8d8d8d"/><stop offset="0.5329" stop-color="#858585"/><stop offset="0.5526" stop-color="#737373"/><stop offset="0.5789" stop-color="#818181"/><stop offset="0.6053" stop-color="#8d8d8d"/><stop offset="0.6447" stop-color="#929292"/><stop offset="0.6842" stop-color="#a3a3a3"/><stop offset="0.7237" stop-color="#bbbbbb"/><stop offset="0.7632" stop-color="#c8c8c8"/><stop offset="0.8158" stop-color="#cacaca"/><stop offset="1.0000" stop-color="#cacaca"/></linearGradient>
<linearGradient id="g2_b3" gradientUnits="userSpaceOnUse" x1="0" y1="250" x2="0" y2="326"><stop offset="0.0000" stop-color="#525252"/><stop offset="0.0197" stop-color="#5a5a5a"/><stop offset="0.0395" stop-color="#636363"/><stop offset="0.0592" stop-color="#737373"/><stop offset="0.0789" stop-color="#7c7c7c"/><stop offset="0.1053" stop-color="#808080"/><stop offset="0.1316" stop-color="#828282"/><stop offset="0.1579" stop-color="#838383"/><stop offset="0.1842" stop-color="#8e8e8e"/><stop offset="0.2105" stop-color="#9e9e9e"/><stop offset="0.2368" stop-color="#acacac"/><stop offset="0.2763" stop-color="#acacac"/><stop offset="0.3289" stop-color="#acacac"/><stop offset="0.3947" stop-color="#acacac"/><stop offset="0.4342" stop-color="#a0a0a0"/><stop offset="0.4737" stop-color="#8e8e8e"/><stop offset="0.5132" stop-color="#888888"/><stop offset="0.5329" stop-color="#858585"/><stop offset="0.5526" stop-color="#737373"/><stop offset="0.5789" stop-color="#818181"/><stop offset="0.6053" stop-color="#888888"/><stop offset="0.6447" stop-color="#8e8e8e"/><stop offset="0.6842" stop-color="#a0a0a0"/><stop offset="0.7237" stop-color="#bababa"/><stop offset="0.7632" stop-color="#c8c8c8"/><stop offset="0.8158" stop-color="#cacaca"/><stop offset="1.0000" stop-color="#cacaca"/></linearGradient>
<linearGradient id="g2_b4" gradientUnits="userSpaceOnUse" x1="0" y1="250" x2="0" y2="326"><stop offset="0.0000" stop-color="#646464"/><stop offset="0.0197" stop-color="#6c6c6c"/><stop offset="0.0395" stop-color="#757575"/><stop offset="0.0592" stop-color="#828282"/><stop offset="0.0789" stop-color="#8b8b8b"/><stop offset="0.1053" stop-color="#8c8c8c"/><stop offset="0.1316" stop-color="#8d8d8d"/><stop offset="0.1579" stop-color="#939393"/><stop offset="0.1842" stop-color="#9d9d9d"/><stop offset="0.2105" stop-color="#acacac"/><stop offset="0.2368" stop-color="#acacac"/><stop offset="0.2763" stop-color="#acacac"/><stop offset="0.3289" stop-color="#acacac"/><stop offset="0.3947" stop-color="#acacac"/><stop offset="0.4342" stop-color="#a0a0a0"/><stop offset="0.4737" stop-color="#8e8e8e"/><stop offset="0.5132" stop-color="#888888"/><stop offset="0.5329" stop-color="#858585"/><stop offset="0.5526" stop-color="#737373"/><stop offset="0.5789" stop-color="#818181"/><stop offset="0.6053" stop-color="#888888"/><stop offset="0.6447" stop-color="#8e8e8e"/><stop offset="0.6842" stop-color="#a0a0a0"/><stop offset="0.7237" stop-color="#bababa"/><stop offset="0.7632" stop-color="#c8c8c8"/><stop offset="0.8158" stop-color="#cacaca"/><stop offset="1.0000" stop-color="#cacaca"/></linearGradient>
<linearGradient id="g2_b5" gradientUnits="userSpaceOnUse" x1="0" y1="250" x2="0" y2="326"><stop offset="0.0000" stop-color="#6a6a6a"/><stop offset="0.0197" stop-color="#747474"/><stop offset="0.0395" stop-color="#848484"/><stop offset="0.0592" stop-color="#8e8e8e"/><stop offset="0.0789" stop-color="#909090"/><stop offset="0.1053" stop-color="#919191"/><stop offset="0.1316" stop-color="#9e9e9e"/><stop offset="0.1579" stop-color="#b5b5b5"/><stop offset="0.1842" stop-color="#afafaf"/><stop offset="0.2105" stop-color="#afafaf"/><stop offset="0.2368" stop-color="#afafaf"/><stop offset="0.2763" stop-color="#afafaf"/><stop offset="0.3289" stop-color="#afafaf"/><stop offset="0.3947" stop-color="#afafaf"/><stop offset="0.4342" stop-color="#a2a2a2"/><stop offset="0.4737" stop-color="#909090"/><stop offset="0.5132" stop-color="#8a8a8a"/><stop offset="0.5329" stop-color="#8a8a8a"/><stop offset="0.5526" stop-color="#8a8a8a"/><stop offset="0.5789" stop-color="#8a8a8a"/><stop offset="0.6053" stop-color="#8a8a8a"/><stop offset="0.6447" stop-color="#909090"/><stop offset="0.6842" stop-color="#a2a2a2"/><stop offset="0.7237" stop-color="#bababa"/><stop offset="0.7632" stop-color="#c8c8c8"/><stop offset="0.8158" stop-color="#cacaca"/><stop offset="1.0000" stop-color="#cacaca"/></linearGradient>
<linearGradient id="g2_b6" gradientUnits="userSpaceOnUse" x1="0" y1="250" x2="0" y2="326"><stop offset="0.0000" stop-color="#717171"/><stop offset="0.0197" stop-color="#818181"/><stop offset="0.0395" stop-color="#929292"/><stop offset="0.0592" stop-color="#949494"/><stop offset="0.0789" stop-color="#9c9c9c"/><stop offset="0.1053" stop-color="#c1c1c1"/><stop offset="0.1316" stop-color="#c9c9c9"/><stop offset="0.1579" stop-color="#c8c8c8"/><stop offset="0.1842" stop-color="#c8c8c8"/><stop offset="0.2105" stop-color="#c8c8c8"/><stop offset="0.2368" stop-color="#c8c8c8"/><stop offset="0.2763" stop-color="#c8c8c8"/><stop offset="0.3289" stop-color="#c8c8c8"/><stop offset="0.3947" stop-color="#bfbfbf"/><stop offset="0.4342" stop-color="#acacac"/><stop offset="0.4737" stop-color="#9f9f9f"/><stop offset="0.5132" stop-color="#9b9b9b"/><stop offset="0.5329" stop-color="#9b9b9b"/><stop offset="0.5526" stop-color="#9b9b9b"/><stop offset="0.5789" stop-color="#9b9b9b"/><stop offset="0.6053" stop-color="#9b9b9b"/><stop offset="0.6447" stop-color="#9f9f9f"/><stop offset="0.6842" stop-color="#acacac"/><stop offset="0.7237" stop-color="#bfbfbf"/><stop offset="0.7632" stop-color="#c9c9c9"/><stop offset="0.8158" stop-color="#cacaca"/><stop offset="1.0000" stop-color="#cacaca"/></linearGradient>
<linearGradient id="g2_b7" gradientUnits="userSpaceOnUse" x1="0" y1="250" x2="0" y2="326"><stop offset="0.0000" stop-color="#777777"/><stop offset="0.0197" stop-color="#979797"/><stop offset="0.0395" stop-color="#a6a6a6"/><stop offset="0.0592" stop-color="#b3b3b3"/><stop offset="0.0789" stop-color="#b9b9b9"/><stop offset="0.1053" stop-color="#c2c2c2"/><stop offset="0.1316" stop-color="#cacaca"/><stop offset="0.1579" stop-color="#cacaca"/><stop offset="0.1842" stop-color="#cacaca"/><stop offset="0.2105" stop-color="#cacaca"/><stop offset="0.2368" stop-color="#cacaca"/><stop offset="0.2763" stop-color="#cacaca"/><stop offset="0.3289" stop-color="#cacaca"/><stop offset="0.3947" stop-color="#c6c6c6"/><stop offset="0.4342" stop-color="#c0c0c0"/><stop offset="0.4737" stop-color="#bbbbbb"/><stop offset="0.5132" stop-color="#bababa"/><stop offset="0.5329" stop-color="#b9b9b9"/><stop offset="0.5526" stop-color="#b9b9b9"/><stop offset="0.5789" stop-color="#b9b9b9"/><stop offset="0.6053" stop-color="#bababa"/><stop offset="0.6447" stop-color="#bbbbbb"/><stop offset="0.6842" stop-color="#c0c0c0"/><stop offset="0.7237" stop-color="#c6c6c6"/><stop offset="0.7632" stop-color="#cacaca"/><stop offset="0.8158" stop-color="#cacaca"/><stop offset="1.0000" stop-color="#cacaca"/></linearGradient>
<linearGradient id="g2_b8" gradientUnits="userSpaceOnUse" x1="0" y1="250" x2="0" y2="326"><stop offset="0.0000" stop-color="#adadad"/><stop offset="0.0197" stop-color="#b1b1b1"/><stop offset="0.0395" stop-color="#b5b5b5"/><stop offset="0.0592" stop-color="#b9b9b9"/><stop offset="0.0789" stop-color="#bdbdbd"/><stop offset="0.1053" stop-color="#c4c4c4"/><stop offset="0.1316" stop-color="#cacaca"/><stop offset="0.1579" stop-color="#cacaca"/><stop offset="0.1842" stop-color="#cacaca"/><stop offset="0.2105" stop-color="#cacaca"/><stop offset="0.2368" stop-color="#cacaca"/><stop offset="0.2763" stop-color="#cacaca"/><stop offset="0.3289" stop-color="#cacaca"/><stop offset="0.3947" stop-color="#cacaca"/><stop offset="0.4342" stop-color="#cacaca"/><stop offset="0.4737" stop-color="#c9c9c9"/><stop offset="0.5132" stop-color="#c9c9c9"/><stop offset="0.5329" stop-color="#c9c9c9"/><stop offset="0.5526" stop-color="#c9c9c9"/><stop offset="0.5789" stop-color="#c9c9c9"/><stop offset="0.6053" stop-color="#c9c9c9"/><stop offset="0.6447" stop-color="#c9c9c9"/><stop offset="0.6842" stop-color="#cacaca"/><stop offset="0.7237" stop-color="#cacaca"/><stop offset="0.7632" stop-color="#cacaca"/><stop offset="0.8158" stop-color="#cacaca"/><stop offset="1.0000" stop-color="#cacaca"/></linearGradient>
<linearGradient id="g2_b9" gradientUnits="userSpaceOnUse" x1="0" y1="250" x2="0" y2="326"><stop offset="0.0000" stop-color="#b6b6b6"/><stop offset="0.0197" stop-color="#b8b8b8"/><stop offset="0.0395" stop-color="#bbbbbb"/><stop offset="0.0592" stop-color="#bebebe"/><stop offset="0.0789" stop-color="#c1c1c1"/><stop offset="0.1053" stop-color="#c6c6c6"/><stop offset="0.1316" stop-color="#cacaca"/><stop offset="0.1579" stop-color="#cacaca"/><stop offset="0.1842" stop-color="#cacaca"/><stop offset="0.2105" stop-color="#cacaca"/><stop offset="0.2368" stop-color="#cacaca"/><stop offset="0.2763" stop-color="#cacaca"/><stop offset="0.3289" stop-color="#cacaca"/><stop offset="0.3947" stop-color="#cacaca"/><stop offset="0.4342" stop-color="#cacaca"/><stop offset="0.4737" stop-color="#cacaca"/><stop offset="0.5132" stop-color="#cacaca"/><stop offset="0.5329" stop-color="#cacaca"/><stop offset="0.5526" stop-color="#cacaca"/><stop offset="0.5789" stop-color="#cacaca"/><stop offset="0.6053" stop-color="#cacaca"/><stop offset="0.6447" stop-color="#cacaca"/><stop offset="0.6842" stop-color="#cacaca"/><stop offset="0.7237" stop-color="#cacaca"/><stop offset="0.7632" stop-color="#cacaca"/><stop offset="0.8158" stop-color="#cacaca"/><stop offset="1.0000" stop-color="#cacaca"/></linearGradient>
<linearGradient id="g2_c0" gradientUnits="userSpaceOnUse" x1="0" y1="250" x2="0" y2="326"><stop offset="0.0000" stop-color="#cacaca"/><stop offset="0.0197" stop-color="#cacaca"/><stop offset="0.0395" stop-color="#cacaca"/><stop offset="0.0592" stop-color="#cacaca"/><stop offset="0.0789" stop-color="#cacaca"/><stop offset="0.1053" stop-color="#cacaca"/><stop offset="0.1316" stop-color="#cacaca"/><stop offset="0.1579" stop-color="#cacaca"/><stop offset="0.1842" stop-color="#cacaca"/><stop offset="0.2105" stop-color="#cacaca"/><stop offset="0.2368" stop-color="#cacaca"/><stop offset="0.2763" stop-color="#cacaca"/><stop offset="0.3289" stop-color="#cacaca"/><stop offset="0.3947" stop-color="#cacaca"/><stop offset="0.4342" stop-color="#cacaca"/><stop offset="0.4737" stop-color="#cacaca"/><stop offset="0.5132" stop-color="#cacaca"/><stop offset="0.5329" stop-color="#cacaca"/><stop offset="0.5526" stop-color="#cacaca"/><stop offset="0.5789" stop-color="#cacaca"/><stop offset="0.6053" stop-color="#cacaca"/><stop offset="0.6447" stop-color="#cacaca"/><stop offset="0.6842" stop-color="#cacaca"/><stop offset="0.7237" stop-color="#cacaca"/><stop offset="0.7632" stop-color="#cacaca"/><stop offset="0.8158" stop-color="#cacaca"/><stop offset="1.0000" stop-color="#cacaca"/></linearGradient>
<linearGradient id="g2_c1" gradientUnits="userSpaceOnUse" x1="0" y1="250" x2="0" y2="326"><stop offset="0.0000" stop-color="#7b7b7b"/><stop offset="0.0197" stop-color="#989898"/><stop offset="0.0395" stop-color="#9d9d9d"/><stop offset="0.0592" stop-color="#cacaca"/><stop offset="0.0789" stop-color="#cacaca"/><stop offset="0.1053" stop-color="#cacaca"/><stop offset="0.1316" stop-color="#cacaca"/><stop offset="0.1579" stop-color="#cacaca"/><stop offset="0.1842" stop-color="#cacaca"/><stop offset="0.2105" stop-color="#cacaca"/><stop offset="0.2368" stop-color="#cacaca"/><stop offset="0.2763" stop-color="#cacaca"/><stop offset="0.3289" stop-color="#cacaca"/><stop offset="0.3947" stop-color="#cacaca"/><stop offset="0.4342" stop-color="#cacaca"/><stop offset="0.4737" stop-color="#cacaca"/><stop offset="0.5132" stop-color="#cacaca"/><stop offset="0.5329" stop-color="#cacaca"/><stop offset="0.5526" stop-color="#cacaca"/><stop offset="0.5789" stop-color="#cacaca"/><stop offset="0.6053" stop-color="#cacaca"/><stop offset="0.6447" stop-color="#cacaca"/><stop offset="0.6842" stop-color="#cacaca"/><stop offset="0.7237" stop-color="#cacaca"/><stop offset="0.7632" stop-color="#cacaca"/><stop offset="0.8158" stop-color="#cacaca"/><stop offset="1.0000" stop-color="#cacaca"/></linearGradient>
<linearGradient id="g2_c2" gradientUnits="userSpaceOnUse" x1="0" y1="250" x2="0" y2="326"><stop offset="0.0000" stop-color="#727272"/><stop offset="0.0197" stop-color="#7d7d7d"/><stop offset="0.0395" stop-color="#8e8e8e"/><stop offset="0.0592" stop-color="#949494"/><stop offset="0.0789" stop-color="#959595"/><stop offset="0.1053" stop-color="#a0a0a0"/><stop offset="0.1316" stop-color="#c4c4c4"/><stop offset="0.1579" stop-color="#cacaca"/><stop offset="0.1842" stop-color="#cacaca"/><stop offset="0.2105" stop-color="#cacaca"/><stop offset="0.2368" stop-color="#cacaca"/><stop offset="0.2763" stop-color="#cacaca"/><stop offset="0.3289" stop-color="#cacaca"/><stop offset="0.3947" stop-color="#cacaca"/><stop offset="0.4342" stop-color="#cacaca"/><stop offset="0.4737" stop-color="#cacaca"/><stop offset="0.5132" stop-color="#cacaca"/><stop offset="0.5329" stop-color="#cacaca"/><stop offset="0.5526" stop-color="#cacaca"/><stop offset="0.5789" stop-color="#cacaca"/><stop offset="0.6053" stop-color="#cacaca"/><stop offset="0.6447" stop-color="#cacaca"/><stop offset="0.6842" stop-color="#cacaca"/><stop offset="0.7237" stop-color="#cacaca"/><stop offset="0.7632" stop-color="#cacaca"/><stop offset="0.8158" stop-color="#cacaca"/><stop offset="1.0000" stop-color="#cacaca"/></linearGradient>
<linearGradient id="g2_c3" gradientUnits="userSpaceOnUse" x1="0" y1="250" x2="0" y2="326"><stop offset="0.0000" stop-color="#696969"/><stop offset="0.0197" stop-color="#727272"/><stop offset="0.0395" stop-color="#7f7f7f"/><stop offset="0.0592" stop-color="#8b8b8b"/><stop offset="0.0789" stop-color="#8e8e8e"/><stop offset="0.1053" stop-color="#909090"/><stop offset="0.1316" stop-color="#959595"/><stop offset="0.1579" stop-color="#a1a1a1"/><stop offset="0.1842" stop-color="#c5c5c5"/><stop offset="0.2105" stop-color="#cacaca"/><stop offset="0.2368" stop-color="#cacaca"/><stop offset="0.2763" stop-color="#cacaca"/><stop offset="0.3289" stop-color="#cacaca"/><stop offset="0.3947" stop-color="#cacaca"/><stop offset="0.4342" stop-color="#cacaca"/><stop offset="0.4737" stop-color="#cacaca"/><stop offset="0.5132" stop-color="#cacaca"/><stop offset="0.5329" stop-color="#cacaca"/><stop offset="0.5526" stop-color="#cacaca"/><stop offset="0.5789" stop-color="#cacaca"/><stop offset="0.6053" stop-color="#cacaca"/><stop offset="0.6447" stop-color="#cacaca"/><stop offset="0.6842" stop-color="#cacaca"/><stop offset="0.7237" stop-color="#cacaca"/><stop offset="0.7632" stop-color="#cacaca"/><stop offset="0.8158" stop-color="#cacaca"/><stop offset="1.0000" stop-color="#cacaca"/></linearGradient>
<linearGradient id="g2_c4" gradientUnits="userSpaceOnUse" x1="0" y1="250" x2="0" y2="326"><stop offset="0.0000" stop-color="#616161"/><stop offset="0.0197" stop-color="#696969"/><stop offset="0.0395" stop-color="#737373"/><stop offset="0.0592" stop-color="#818181"/><stop offset="0.0789" stop-color="#888888"/><stop offset="0.1053" stop-color="#8a8a8a"/><stop offset="0.1316" stop-color="#8b8b8b"/><stop offset="0.1579" stop-color="#939393"/><stop offset="0.1842" stop-color="#9e9e9e"/><stop offset="0.2105" stop-color="#c1c1c1"/><stop offset="0.2368" stop-color="#cacaca"/><stop offset="0.2763" stop-color="#cacaca"/><stop offset="0.3289" stop-color="#cacaca"/><stop offset="0.3947" stop-color="#c8c8c8"/><stop offset="0.4342" stop-color="#c7c7c7"/><stop offset="0.4737" stop-color="#c7c7c7"/><stop offset="0.5132" stop-color="#c7c7c7"/><stop offset="0.5329" stop-color="#c7c7c7"/><stop offset="0.5526" stop-color="#c7c7c7"/><stop offset="0.5789" stop-color="#c7c7c7"/><stop offset="0.6053" stop-color="#c8c8c8"/><stop offset="0.6447" stop-color="#c9c9c9"/><stop offset="0.6842" stop-color="#cacaca"/><stop offset="0.7237" stop-color="#cacaca"/><stop offset="0.7632" stop-color="#cacaca"/><stop offset="0.8158" stop-color="#cacaca"/><stop offset="1.0000" stop-color="#cacaca"/></linearGradient>
<linearGradient id="g2_c5" gradientUnits="userSpaceOnUse" x1="0" y1="250" x2="0" y2="326"><stop offset="0.0000" stop-color="#585858"/><stop offset="0.0197" stop-color="#606060"/><stop offset="0.0395" stop-color="#6b6b6b"/><stop offset="0.0592" stop-color="#7a7a7a"/><stop offset="0.0789" stop-color="#838383"/><stop offset="0.1053" stop-color="#848484"/><stop offset="0.1316" stop-color="#868686"/><stop offset="0.1579" stop-color="#8c8c8c"/><stop offset="0.1842" stop-color="#989898"/><stop offset="0.2105" stop-color="#b9b9b9"/><stop offset="0.2368" stop-color="#cacaca"/><stop offset="0.2763" stop-color="#cacaca"/><stop offset="0.3289" stop-color="#c9c9c9"/><stop offset="0.3947" stop-color="#c0c0c0"/><stop offset="0.4342" stop-color="#bcbcbc"/><stop offset="0.4737" stop-color="#bbbbbb"/><stop offset="0.5132" stop-color="#bbbbbb"/><stop offset="0.5329" stop-color="#bbbbbb"/><stop offset="0.5526" stop-color="#bbbbbb"/><stop offset="0.5789" stop-color="#bcbcbc"/><stop offset="0.6053" stop-color="#bebebe"/><stop offset="0.6447" stop-color="#c5c5c5"/><stop offset="0.6842" stop-color="#c9c9c9"/><stop offset="0.7237" stop-color="#cacaca"/><stop offset="0.7632" stop-color="#cacaca"/><stop offset="0.8158" stop-color="#cacaca"/><stop offset="1.0000" stop-color="#cacaca"/></linearGradient>
<linearGradient id="g2_c6" gradientUnits="userSpaceOnUse" x1="0" y1="250" x2="0" y2="326"><stop offset="0.0000" stop-color="#5a5a5a"/><stop offset="0.0197" stop-color="#636363"/><stop offset="0.0395" stop-color="#6f6f6f"/><stop offset="0.0592" stop-color="#7e7e7e"/><stop offset="0.0789" stop-color="#848484"/><stop offset="0.1053" stop-color="#868686"/><stop offset="0.1316" stop-color="#878787"/><stop offset="0.1579" stop-color="#939393"/><stop offset="0.1842" stop-color="#ababab"/><stop offset="0.2105" stop-color="#cacaca"/><stop offset="0.2368" stop-color="#cacaca"/><stop offset="0.2763" stop-color="#cacaca"/><stop offset="0.3289" stop-color="#c9c9c9"/><stop offset="0.3947" stop-color="#c0c0c0"/><stop offset="0.4342" stop-color="#bcbcbc"/><stop offset="0.4737" stop-color="#bbbbbb"/><stop offset="0.5132" stop-color="#bbbbbb"/><stop offset="0.5329" stop-color="#bbbbbb"/><stop offset="0.5526" stop-color="#bbbbbb"/><stop offset="0.5789" stop-color="#bcbcbc"/><stop offset="0.6053" stop-color="#bebebe"/><stop offset="0.6447" stop-color="#c5c5c5"/><stop offset="0.6842" stop-color="#c9c9c9"/><stop offset="0.7237" stop-color="#cacaca"/><stop offset="0.7632" stop-color="#cacaca"/><stop offset="0.8158" stop-color="#cacaca"/><stop offset="1.0000" stop-color="#cacaca"/></linearGradient>
<linearGradient id="g2_c7" gradientUnits="userSpaceOnUse" x1="0" y1="250" x2="0" y2="326"><stop offset="0.0000" stop-color="#626262"/><stop offset="0.0197" stop-color="#6d6d6d"/><stop offset="0.0395" stop-color="#7e7e7e"/><stop offset="0.0592" stop-color="#8a8a8a"/><stop offset="0.0789" stop-color="#8b8b8b"/><stop offset="0.1053" stop-color="#8d8d8d"/><stop offset="0.1316" stop-color="#9b9b9b"/><stop offset="0.1579" stop-color="#c2c2c2"/><stop offset="0.1842" stop-color="#cacaca"/><stop offset="0.2105" stop-color="#cacaca"/><stop offset="0.2368" stop-color="#cacaca"/><stop offset="0.2763" stop-color="#cacaca"/><stop offset="0.3289" stop-color="#cacaca"/><stop offset="0.3947" stop-color="#c7c7c7"/><stop offset="0.4342" stop-color="#c5c5c5"/><stop offset="0.4737" stop-color="#c5c5c5"/><stop offset="0.5132" stop-color="#c5c5c5"/><stop offset="0.5329" stop-color="#c5c5c5"/><stop offset="0.5526" stop-color="#c5c5c5"/><stop offset="0.5789" stop-color="#c5c5c5"/><stop offset="0.6053" stop-color="#c6c6c6"/><stop offset="0.6447" stop-color="#c8c8c8"/><stop offset="0.6842" stop-color="#cacaca"/><stop offset="0.7237" stop-color="#cacaca"/><stop offset="0.7632" stop-color="#cacaca"/><stop offset="0.8158" stop-color="#cacaca"/><stop offset="1.0000" stop-color="#cacaca"/></linearGradient>
<linearGradient id="g2_c8" gradientUnits="userSpaceOnUse" x1="0" y1="250" x2="0" y2="326"><stop offset="0.0000" stop-color="#6b6b6b"/><stop offset="0.0197" stop-color="#7f7f7f"/><stop offset="0.0395" stop-color="#8f8f8f"/><stop offset="0.0592" stop-color="#919191"/><stop offset="0.0789" stop-color="#a0a0a0"/><stop offset="0.1053" stop-color="#cacaca"/><stop offset="0.1316" stop-color="#cacaca"/><stop offset="0.1579" stop-color="#cacaca"/><stop offset="0.1842" stop-color="#cacaca"/><stop offset="0.2105" stop-color="#cacaca"/><stop offset="0.2368" stop-color="#cacaca"/><stop offset="0.2763" stop-color="#cacaca"/><stop offset="0.3289" stop-color="#cacaca"/><stop offset="0.3947" stop-color="#cacaca"/><stop offset="0.4342" stop-color="#cacaca"/><stop offset="0.4737" stop-color="#cacaca"/><stop offset="0.5132" stop-color="#cacaca"/><stop offset="0.5329" stop-color="#cacaca"/><stop offset="0.5526" stop-color="#cacaca"/><stop offset="0.5789" stop-color="#cacaca"/><stop offset="0.6053" stop-color="#cacaca"/><stop offset="0.6447" stop-color="#cacaca"/><stop offset="0.6842" stop-color="#cacaca"/><stop offset="0.7237" stop-color="#cacaca"/><stop offset="0.7632" stop-color="#cacaca"/><stop offset="0.8158" stop-color="#cacaca"/><stop offset="1.0000" stop-color="#cacaca"/></linearGradient>
<linearGradient id="g2_c9" gradientUnits="userSpaceOnUse" x1="0" y1="250" x2="0" y2="326"><stop offset="0.0000" stop-color="#747474"/><stop offset="0.0197" stop-color="#cacaca"/><stop offset="0.0395" stop-color="#cacaca"/><stop offset="0.0592" stop-color="#cacaca"/><stop offset="0.0789" stop-color="#cacaca"/><stop offset="0.1053" stop-color="#cacaca"/><stop offset="0.1316" stop-color="#cacaca"/><stop offset="0.1579" stop-color="#cacaca"/><stop offset="0.1842" stop-color="#cacaca"/><stop offset="0.2105" stop-color="#cacaca"/><stop offset="0.2368" stop-color="#cacaca"/><stop offset="0.2763" stop-color="#cacaca"/><stop offset="0.3289" stop-color="#cacaca"/><stop offset="0.3947" stop-color="#cacaca"/><stop offset="0.4342" stop-color="#cacaca"/><stop offset="0.4737" stop-color="#cacaca"/><stop offset="0.5132" stop-color="#cacaca"/><stop offset="0.5329" stop-color="#cacaca"/><stop offset="0.5526" stop-color="#cacaca"/><stop offset="0.5789" stop-color="#cacaca"/><stop offset="0.6053" stop-color="#cacaca"/><stop offset="0.6447" stop-color="#cacaca"/><stop offset="0.6842" stop-color="#cacaca"/><stop offset="0.7237" stop-color="#cacaca"/><stop offset="0.7632" stop-color="#cacaca"/><stop offset="0.8158" stop-color="#cacaca"/><stop offset="1.0000" stop-color="#cacaca"/></linearGradient>
<filter id="f3" filterUnits="userSpaceOnUse" x="81" y="365" width="419" height="76" color-interpolation-filters="sRGB">
<feTurbulence type="fractalNoise" baseFrequency="0.8 0.65" numOctaves="1" seed="11" result="t"/>
<feColorMatrix in="t" type="matrix" values="1 0 0 0 0 1 0 0 0 0 1 0 0 0 0 0 0 0 0 1" result="n0"/>
<feComponentTransfer in="n0" result="n"><feFuncR type="table" tableValues="0 0 0.02 0.18 0.34 0.5 0.6 0.7 0.8 0.9 1"/><feFuncG type="table" tableValues="0 0 0.02 0.18 0.34 0.5 0.6 0.7 0.8 0.9 1"/><feFuncB type="table" tableValues="0 0 0.02 0.18 0.34 0.5 0.6 0.7 0.8 0.9 1"/></feComponentTransfer>
<feComposite in="SourceGraphic" in2="n" operator="arithmetic" k1="-0.1890" k2="1.0945" k3="0.2700" k4="-0.1350" result="s"/>
<feComponentTransfer in="s"><feFuncR type="table" tableValues="0.000 0.000 0.000 0.000 0.000 0.000 0.000 0.000 0.000 0.000 0.000 0.000 0.000 0.000 0.000 0.000 0.000 0.000 0.000 0.000 0.000 0.000 0.000 0.000 0.000 0.000 0.000 0.000 0.000 0.000 0.000 0.000 0.000 0.000 0.000 0.000 0.000 0.000 0.000 0.170 0.340 0.510 0.676 0.842 1.000 1.000 1.000 1.000 1.000 1.000 1.000 1.000 1.000 1.000 1.000 1.000 1.000 1.000 1.000 1.000 1.000 1.000 1.000 1.000 1.000 1.000 1.000 1.000 1.000 1.000 1.000 1.000 1.000 1.000 1.000 1.000 1.000 1.000 1.000 1.000 1.000"/><feFuncG type="table" tableValues="0.000 0.000 0.000 0.000 0.000 0.000 0.000 0.000 0.000 0.000 0.000 0.000 0.000 0.000 0.000 0.000 0.000 0.000 0.000 0.000 0.192 0.383 0.557 0.724 0.891 1.000 1.000 1.000 1.000 1.000 1.000 0.998 0.992 0.985 0.979 0.972 0.966 0.959 0.953 0.969 0.984 1.000 1.000 1.000 0.997 0.936 0.875 0.815 0.754 0.693 0.633 0.572 0.511 0.461 0.412 0.364 0.315 0.267 0.218 0.170 0.121 0.073 0.024 0.000 0.000 0.000 0.000 0.000 0.000 0.000 0.000 0.000 0.000 0.000 0.000 0.000 0.000 0.000 0.000 0.000 0.000"/><feFuncB type="table" tableValues="0.000 0.000 0.000 0.000 0.000 0.000 0.000 0.000 0.000 0.000 0.000 0.000 0.084 0.521 0.569 0.647 0.725 0.804 0.882 0.961 0.978 0.996 1.000 1.000 1.000 0.971 0.890 0.808 0.726 0.645 0.563 0.485 0.415 0.346 0.277 0.208 0.138 0.069 0.000 0.000 0.000 0.000 0.000 0.000 0.000 0.000 0.000 0.000 0.000 0.000 0.000 0.000 0.000 0.000 0.000 0.000 0.000 0.000 0.000 0.000 0.000 0.000 0.000 0.000 0.000 0.000 0.000 0.000 0.000 0.000 0.000 0.000 0.000 0.000 0.000 0.000 0.000 0.000 0.000 0.000 0.000"/></feComponentTransfer>
</filter>
<linearGradient id="g3_bg" gradientUnits="userSpaceOnUse" x1="0" y1="365" x2="0" y2="441"><stop offset="0.0000" stop-color="#2f2f2f"/><stop offset="0.1667" stop-color="#333333"/><stop offset="0.3100" stop-color="#393939"/><stop offset="0.4000" stop-color="#3f3f3f"/><stop offset="0.4567" stop-color="#464646"/><stop offset="0.5333" stop-color="#4e4e4e"/><stop offset="0.6067" stop-color="#545454"/><stop offset="0.6667" stop-color="#5b5b5b"/><stop offset="0.7033" stop-color="#646464"/><stop offset="0.7667" stop-color="#747474"/><stop offset="0.8000" stop-color="#808080"/><stop offset="0.8233" stop-color="#878787"/><stop offset="0.8667" stop-color="#919191"/><stop offset="0.9033" stop-color="#9c9c9c"/><stop offset="0.9300" stop-color="#b7b7b7"/><stop offset="0.9500" stop-color="#c7c7c7"/><stop offset="1.0000" stop-color="#e7e7e7"/></linearGradient>
<filter id="f4" filterUnits="userSpaceOnUse" x="81" y="461" width="419" height="76" color-interpolation-filters="sRGB">
<feTurbulence type="fractalNoise" baseFrequency="0.8 0.65" numOctaves="1" seed="13" result="t"/>
<feColorMatrix in="t" type="matrix" values="1 0 0 0 0 1 0 0 0 0 1 0 0 0 0 0 0 0 0 1" result="n0"/>
<feComponentTransfer in="n0" result="n"><feFuncR type="table" tableValues="0 0 0.02 0.18 0.34 0.5 0.6 0.7 0.8 0.9 1"/><feFuncG type="table" tableValues="0 0 0.02 0.18 0.34 0.5 0.6 0.7 0.8 0.9 1"/><feFuncB type="table" tableValues="0 0 0.02 0.18 0.34 0.5 0.6 0.7 0.8 0.9 1"/></feComponentTransfer>
<feComposite in="SourceGraphic" in2="n" operator="arithmetic" k1="-0.1890" k2="1.0945" k3="0.2700" k4="-0.1350" result="s"/>
<feComponentTransfer in="s"><feFuncR type="table" tableValues="0.000 0.000 0.000 0.000 0.000 0.000 0.000 0.000 0.000 0.000 0.000 0.000 0.000 0.000 0.000 0.000 0.000 0.000 0.000 0.000 0.000 0.000 0.000 0.000 0.000 0.000 0.000 0.000 0.000 0.000 0.000 0.000 0.000 0.000 0.000 0.000 0.000 0.000 0.000 0.170 0.340 0.510 0.676 0.842 1.000 1.000 1.000 1.000 1.000 1.000 1.000 1.000 1.000 1.000 1.000 1.000 1.000 1.000 1.000 1.000 1.000 1.000 1.000 1.000 1.000 1.000 1.000 1.000 1.000 1.000 1.000 1.000 1.000 1.000 1.000 1.000 1.000 1.000 1.000 1.000 1.000"/><feFuncG type="table" tableValues="0.000 0.000 0.000 0.000 0.000 0.000 0.000 0.000 0.000 0.000 0.000 0.000 0.000 0.000 0.000 0.000 0.000 0.000 0.000 0.000 0.192 0.383 0.557 0.724 0.891 1.000 1.000 1.000 1.000 1.000 1.000 0.998 0.992 0.985 0.979 0.972 0.966 0.959 0.953 0.969 0.984 1.000 1.000 1.000 0.997 0.936 0.875 0.815 0.754 0.693 0.633 0.572 0.511 0.461 0.412 0.364 0.315 0.267 0.218 0.170 0.121 0.073 0.024 0.000 0.000 0.000 0.000 0.000 0.000 0.000 0.000 0.000 0.000 0.000 0.000 0.000 0.000 0.000 0.000 0.000 0.000"/><feFuncB type="table" tableValues="0.000 0.000 0.000 0.000 0.000 0.000 0.000 0.000 0.000 0.000 0.000 0.000 0.084 0.521 0.569 0.647 0.725 0.804 0.882 0.961 0.978 0.996 1.000 1.000 1.000 0.971 0.890 0.808 0.726 0.645 0.563 0.485 0.415 0.346 0.277 0.208 0.138 0.069 0.000 0.000 0.000 0.000 0.000 0.000 0.000 0.000 0.000 0.000 0.000 0.000 0.000 0.000 0.000 0.000 0.000 0.000 0.000 0.000 0.000 0.000 0.000 0.000 0.000 0.000 0.000 0.000 0.000 0.000 0.000 0.000 0.000 0.000 0.000 0.000 0.000 0.000 0.000 0.000 0.000 0.000 0.000"/></feComponentTransfer>
</filter>
<linearGradient id="g4_bg" gradientUnits="userSpaceOnUse" x1="0" y1="461" x2="0" y2="537"><stop offset="0.0000" stop-color="#2f2f2f"/><stop offset="0.0435" stop-color="#2f2f2f"/><stop offset="0.1887" stop-color="#333333"/><stop offset="0.3135" stop-color="#393939"/><stop offset="0.3918" stop-color="#3f3f3f"/><stop offset="0.4412" stop-color="#464646"/><stop offset="0.5079" stop-color="#4e4e4e"/><stop offset="0.5718" stop-color="#545454"/><stop offset="0.6240" stop-color="#5b5b5b"/><stop offset="0.6629" stop-color="#646464"/><stop offset="0.7348" stop-color="#747474"/><stop offset="0.7727" stop-color="#808080"/><stop offset="0.7992" stop-color="#878787"/><stop offset="0.8485" stop-color="#919191"/><stop offset="0.8902" stop-color="#9c9c9c"/><stop offset="0.9205" stop-color="#b7b7b7"/><stop offset="0.9432" stop-color="#c7c7c7"/><stop offset="1.0000" stop-color="#e7e7e7"/></linearGradient>
<filter id="f5" filterUnits="userSpaceOnUse" x="81" y="557" width="419" height="76" color-interpolation-filters="sRGB">
<feTurbulence type="fractalNoise" baseFrequency="0.8 0.65" numOctaves="1" seed="17" result="t"/>
<feColorMatrix in="t" type="matrix" values="1 0 0 0 0 1 0 0 0 0 1 0 0 0 0 0 0 0 0 1" result="n0"/>
<feComponentTransfer in="n0" result="n"><feFuncR type="table" tableValues="0 0 0.02 0.18 0.34 0.5 0.6 0.7 0.8 0.9 1"/><feFuncG type="table" tableValues="0 0 0.02 0.18 0.34 0.5 0.6 0.7 0.8 0.9 1"/><feFuncB type="table" tableValues="0 0 0.02 0.18 0.34 0.5 0.6 0.7 0.8 0.9 1"/></feComponentTransfer>
<feComposite in="SourceGraphic" in2="n" operator="arithmetic" k1="-0.1890" k2="1.0945" k3="0.2700" k4="-0.1350" result="s"/>
<feComponentTransfer in="s"><feFuncR type="table" tableValues="0.000 0.000 0.000 0.000 0.000 0.000 0.000 0.000 0.000 0.000 0.000 0.000 0.000 0.000 0.000 0.000 0.000 0.000 0.000 0.000 0.000 0.000 0.000 0.000 0.000 0.000 0.000 0.000 0.000 0.000 0.000 0.000 0.000 0.000 0.000 0.000 0.000 0.000 0.000 0.170 0.340 0.510 0.676 0.842 1.000 1.000 1.000 1.000 1.000 1.000 1.000 1.000 1.000 1.000 1.000 1.000 1.000 1.000 1.000 1.000 1.000 1.000 1.000 1.000 1.000 1.000 1.000 1.000 1.000 1.000 1.000 1.000 1.000 1.000 1.000 1.000 1.000 1.000 1.000 1.000 1.000"/><feFuncG type="table" tableValues="0.000 0.000 0.000 0.000 0.000 0.000 0.000 0.000 0.000 0.000 0.000 0.000 0.000 0.000 0.000 0.000 0.000 0.000 0.000 0.000 0.192 0.383 0.557 0.724 0.891 1.000 1.000 1.000 1.000 1.000 1.000 0.998 0.992 0.985 0.979 0.972 0.966 0.959 0.953 0.969 0.984 1.000 1.000 1.000 0.997 0.936 0.875 0.815 0.754 0.693 0.633 0.572 0.511 0.461 0.412 0.364 0.315 0.267 0.218 0.170 0.121 0.073 0.024 0.000 0.000 0.000 0.000 0.000 0.000 0.000 0.000 0.000 0.000 0.000 0.000 0.000 0.000 0.000 0.000 0.000 0.000"/><feFuncB type="table" tableValues="0.000 0.000 0.000 0.000 0.000 0.000 0.000 0.000 0.000 0.000 0.000 0.000 0.084 0.521 0.569 0.647 0.725 0.804 0.882 0.961 0.978 0.996 1.000 1.000 1.000 0.971 0.890 0.808 0.726 0.645 0.563 0.485 0.415 0.346 0.277 0.208 0.138 0.069 0.000 0.000 0.000 0.000 0.000 0.000 0.000 0.000 0.000 0.000 0.000 0.000 0.000 0.000 0.000 0.000 0.000 0.000 0.000 0.000 0.000 0.000 0.000 0.000 0.000 0.000 0.000 0.000 0.000 0.000 0.000 0.000 0.000 0.000 0.000 0.000 0.000 0.000 0.000 0.000 0.000 0.000 0.000"/></feComponentTransfer>
</filter>
<linearGradient id="g5_bg" gradientUnits="userSpaceOnUse" x1="0" y1="557" x2="0" y2="633"><stop offset="0.0000" stop-color="#2f2f2f"/><stop offset="0.0518" stop-color="#2f2f2f"/><stop offset="0.1957" stop-color="#333333"/><stop offset="0.3194" stop-color="#393939"/><stop offset="0.3971" stop-color="#3f3f3f"/><stop offset="0.4460" stop-color="#464646"/><stop offset="0.5122" stop-color="#4e4e4e"/><stop offset="0.5755" stop-color="#545454"/><stop offset="0.6273" stop-color="#5b5b5b"/><stop offset="0.6667" stop-color="#646464"/><stop offset="0.7378" stop-color="#747474"/><stop offset="0.7753" stop-color="#808080"/><stop offset="0.8015" stop-color="#878787"/><stop offset="0.8502" stop-color="#919191"/><stop offset="0.8914" stop-color="#9c9c9c"/><stop offset="0.9213" stop-color="#b7b7b7"/><stop offset="0.9438" stop-color="#c7c7c7"/><stop offset="1.0000" stop-color="#e7e7e7"/></linearGradient>
<filter id="blur3" x="-20%" y="-20%" width="140%" height="140%" color-interpolation-filters="sRGB"><feGaussianBlur stdDeviation="0.55 0.8"/></filter>
</defs>
<g filter="url(#f0)">
<rect x="81" y="58" width="419" height="76" fill="url(#g0_bg)"/>
<rect x="81.00" y="58" width="4.70" height="76" fill="url(#g0_s0)"/>
<rect x="85.70" y="58" width="2.30" height="76" fill="url(#g0_s1)"/>
<rect x="88.00" y="58" width="4.60" height="76" fill="url(#g0_s2)"/>
<rect x="93.30" y="58" width="1.30" height="76" fill="url(#g0_s3)"/>
<rect x="95.00" y="58" width="17.00" height="76" fill="url(#g0_s4)"/>
<rect x="124.00" y="58" width="11.00" height="76" fill="url(#g0_s5)"/>
<rect x="170.30" y="58" width="0.90" height="76" fill="url(#g0_s6)"/>
<rect x="171.20" y="58" width="6.80" height="76" fill="url(#g0_s7)"/>
<rect x="178.00" y="58" width="6.80" height="76" fill="url(#g0_s8)"/>
<polygon points="188.50,134 193.00,134 191.40,58 190.20,58" fill="url(#g0_s9)"/>
<polygon points="189.40,134 192.00,134 191.20,58 190.50,58" fill="url(#g0_s10)"/>
<rect x="192.60" y="58" width="5.40" height="76" fill="url(#g0_s11)"/>
<rect x="198.00" y="58" width="5.00" height="76" fill="url(#g0_s12)"/>
<rect x="203.00" y="58" width="1.00" height="76" fill="url(#g0_s13)"/>
<rect x="204.00" y="58" width="10.30" height="76" fill="url(#g0_s7)"/>
<rect x="214.30" y="58" width="0.70" height="76" fill="url(#g0_s6)"/>
<rect x="245.80" y="58" width="16.70" height="76" fill="url(#g0_s4)"/>
<rect x="251.50" y="58" width="1.00" height="76" fill="url(#g0_s14)"/>
<rect x="256.50" y="58" width="1.00" height="76" fill="url(#g0_s14)"/>
<rect x="259.20" y="58" width="1.00" height="76" fill="url(#g0_s14)"/>
<polygon points="263.40,134 274.30,134 273.00,58 265.00,58" fill="url(#g0_s15)"/>
<polygon points="264.60,134 273.40,134 272.00,58 266.50,58" fill="url(#g0_s16)"/>
<polygon points="266.00,134 272.00,134 270.80,58 268.00,58" fill="url(#g0_s17)"/>
<rect x="274.30" y="58" width="0.70" height="76" fill="url(#g0_s12)"/>
<polygon points="275.00,134 281.00,134 280.20,58 275.80,58" fill="url(#g0_s18)"/>
<polygon points="276.00,134 279.80,134 279.00,58 276.60,58" fill="url(#g0_s17)"/>
<rect x="281.00" y="58" width="6.00" height="76" fill="url(#g0_s19)"/>
<polygon points="281.30,134 286.70,134 285.60,58 282.60,58" fill="url(#g0_s20)"/>
<rect x="282.65" y="58" width="0.70" height="76" fill="url(#g0_s21)"/>
<rect x="285.35" y="58" width="0.70" height="76" fill="url(#g0_s21)"/>
<rect x="287.00" y="58" width="6.70" height="76" fill="url(#g0_s22)"/>
<polygon points="287.40,134 293.50,134 292.80,58 288.50,58" fill="url(#g0_s23)"/>
<rect x="293.70" y="58" width="5.80" height="76" fill="url(#g0_s24)"/>
<rect x="299.80" y="58" width="1.30" height="76" fill="url(#g0_s25)"/>
<rect x="301.30" y="58" width="38.70" height="76" fill="url(#g0_s26)"/>
<rect x="313.10" y="58" width="1.00" height="76" fill="url(#g0_s27)"/>
<rect x="324.30" y="58" width="1.00" height="76" fill="url(#g0_s27)"/>
<rect x="331.00" y="58" width="1.00" height="76" fill="url(#g0_s27)"/>
<rect x="356.20" y="58" width="1.80" height="76" fill="url(#g0_s28)"/>
<rect x="358.00" y="58" width="27.00" height="76" fill="url(#g0_s29)"/>
<rect x="385.00" y="58" width="15.00" height="76" fill="url(#g0_s2)"/>
<rect x="387.10" y="58" width="1.00" height="76" fill="url(#g0_s30)"/>
<rect x="390.50" y="58" width="1.00" height="76" fill="url(#g0_s30)"/>
<rect x="397.70" y="58" width="1.00" height="76" fill="url(#g0_s30)"/>
<rect x="400.00" y="58" width="4.50" height="76" fill="url(#g0_s12)"/>
<rect x="404.50" y="58" width="6.70" height="76" fill="url(#g0_s31)"/>
<rect x="411.20" y="58" width="7.30" height="76" fill="url(#g0_s4)"/>
<rect x="418.50" y="58" width="2.20" height="76" fill="url(#g0_s32)"/>
<rect x="420.70" y="58" width="7.30" height="76" fill="url(#g0_s2)"/>
<rect x="436.50" y="58" width="1.00" height="76" fill="url(#g0_s33)"/>
<rect x="444.30" y="58" width="1.00" height="76" fill="url(#g0_s33)"/>
<rect x="449.90" y="58" width="1.00" height="76" fill="url(#g0_s33)"/>
<rect x="462.80" y="58" width="1.00" height="76" fill="url(#g0_s33)"/>
<rect x="480.00" y="58" width="8.10" height="76" fill="url(#g0_s34)"/>
<rect x="491.60" y="58" width="0.80" height="76" fill="url(#g0_s35)"/>
<rect x="493.30" y="58" width="0.80" height="76" fill="url(#g0_s35)"/>
<rect x="494.30" y="58" width="3.10" height="76" fill="url(#g0_s34)"/>
<rect x="497.40" y="58" width="2.60" height="76" fill="url(#g0_s21)"/>
</g>
<g filter="url(#f1)">
<rect x="81" y="154" width="419" height="76" fill="url(#g1_bg)"/>
<rect x="81.00" y="154" width="5.00" height="76" fill="url(#g1_s0)"/>
<rect x="86.00" y="154" width="6.50" height="76" fill="url(#g1_s1)"/>
<rect x="87.80" y="154" width="1.00" height="76" fill="url(#g1_s2)"/>
<rect x="90.30" y="154" width="1.00" height="76" fill="url(#g1_s3)"/>
<rect x="92.50" y="154" width="3.50" height="76" fill="url(#g1_s4)"/>
<rect x="96.00" y="154" width="7.80" height="76" fill="url(#g1_s5)"/>
<rect x="103.80" y="154" width="7.80" height="76" fill="url(#g1_s6)"/>
<rect x="97.86" y="154" width="0.90" height="76" fill="url(#g1_s7)"/>
<rect x="101.83" y="154" width="0.68" height="76" fill="url(#g1_s8)"/>
<rect x="103.68" y="154" width="0.82" height="76" fill="url(#g1_s9)"/>
<rect x="106.32" y="154" width="0.97" height="76" fill="url(#g1_s9)"/>
<rect x="111.60" y="154" width="1.00" height="76" fill="url(#g1_s10)"/>
<rect x="112.60" y="154" width="12.40" height="76" fill="url(#g1_s11)"/>
<rect x="170.20" y="154" width="14.80" height="76" fill="url(#g1_s12)"/>
<polygon points="188.80,230 193.00,230 191.60,154 190.20,154" fill="url(#g1_s13)"/>
<polygon points="189.60,230 192.20,230 191.20,154 190.60,154" fill="url(#g1_s14)"/>
<rect x="193.00" y="154" width="1.90" height="76" fill="url(#g1_s15)"/>
<polygon points="194.60,230 197.30,230 196.50,154 195.50,154" fill="url(#g1_s16)"/>
<rect x="197.00" y="154" width="5.60" height="76" fill="url(#g1_s15)"/>
<rect x="202.60" y="154" width="11.20" height="76" fill="url(#g1_s12)"/>
<rect x="248.00" y="154" width="15.60" height="76" fill="url(#g1_s11)"/>
<rect x="249.50" y="154" width="1.00" height="76" fill="url(#g1_s17)"/>
<rect x="263.60" y="154" width="8.40" height="76" fill="url(#g1_s18)"/>
<polygon points="265.00,230 271.00,230 269.20,154 267.00,154" fill="url(#g1_s19)"/>
<rect x="272.00" y="154" width="3.50" height="76" fill="url(#g1_s20)"/>
<polygon points="275.30,230 279.30,230 278.00,154 276.60,154" fill="url(#g1_s21)"/>
<rect x="279.00" y="154" width="3.00" height="76" fill="url(#g1_s22)"/>
<polygon points="281.80,230 285.60,230 284.50,154 283.00,154" fill="url(#g1_s19)"/>
<rect x="285.40" y="154" width="2.10" height="76" fill="url(#g1_s22)"/>
<polygon points="287.30,230 294.00,230 292.00,154 289.50,154" fill="url(#g1_s21)"/>
<rect x="293.80" y="154" width="2.80" height="76" fill="url(#g1_s23)"/>
<rect x="296.60" y="154" width="3.40" height="76" fill="url(#g1_s24)"/>
<rect x="300.00" y="154" width="1.20" height="76" fill="url(#g1_s25)"/>
<rect x="301.20" y="154" width="8.80" height="76" fill="url(#g1_s26)"/>
<rect x="264.83" y="154" width="0.92" height="76" fill="url(#g1_s27)"/>
<rect x="267.12" y="154" width="0.92" height="76" fill="url(#g1_s28)"/>
<rect x="272.08" y="154" width="1.18" height="76" fill="url(#g1_s29)"/>
<rect x="274.61" y="154" width="0.83" height="76" fill="url(#g1_s30)"/>
<rect x="276.96" y="154" width="0.78" height="76" fill="url(#g1_s27)"/>
<rect x="281.96" y="154" width="1.21" height="76" fill="url(#g1_s31)"/>
<rect x="286.51" y="154" width="0.85" height="76" fill="url(#g1_s32)"/>
<rect x="290.45" y="154" width="1.25" height="76" fill="url(#g1_s29)"/>
<rect x="295.28" y="154" width="1.07" height="76" fill="url(#g1_s27)"/>
<rect x="310.00" y="154" width="46.30" height="76" fill="url(#g1_s33)"/>
<rect x="304.48" y="154" width="0.89" height="76" fill="url(#g1_s34)"/>
<rect x="308.85" y="154" width="1.21" height="76" fill="url(#g1_s35)"/>
<rect x="313.33" y="154" width="1.26" height="76" fill="url(#g1_s36)"/>
<rect x="316.90" y="154" width="1.10" height="76" fill="url(#g1_s35)"/>
<rect x="320.75" y="154" width="1.41" height="76" fill="url(#g1_s37)"/>
<rect x="322.86" y="154" width="0.87" height="76" fill="url(#g1_s38)"/>
<rect x="326.08" y="154" width="1.29" height="76" fill="url(#g1_s39)"/>
<rect x="330.15" y="154" width="1.43" height="76" fill="url(#g1_s34)"/>
<rect x="332.08" y="154" width="1.36" height="76" fill="url(#g1_s38)"/>
<rect x="336.00" y="154" width="0.85" height="76" fill="url(#g1_s40)"/>
<rect x="338.46" y="154" width="1.02" height="76" fill="url(#g1_s38)"/>
<rect x="342.65" y="154" width="1.55" height="76" fill="url(#g1_s38)"/>
<rect x="347.06" y="154" width="1.10" height="76" fill="url(#g1_s35)"/>
<rect x="350.23" y="154" width="1.14" height="76" fill="url(#g1_s35)"/>
<rect x="354.73" y="154" width="1.30" height="76" fill="url(#g1_s36)"/>
<rect x="356.30" y="154" width="1.70" height="76" fill="url(#g1_s41)"/>
<rect x="358.00" y="154" width="22.00" height="76" fill="url(#g1_s42)"/>
<rect x="369.10" y="154" width="1.00" height="76" fill="url(#g1_s43)"/>
<rect x="360.90" y="154" width="1.36" height="76" fill="url(#g1_s23)"/>
<rect x="363.47" y="154" width="1.10" height="76" fill="url(#g1_s8)"/>
<rect x="366.56" y="154" width="1.38" height="76" fill="url(#g1_s20)"/>
<rect x="370.97" y="154" width="1.35" height="76" fill="url(#g1_s44)"/>
<rect x="373.55" y="154" width="0.91" height="76" fill="url(#g1_s45)"/>
<rect x="380.00" y="154" width="14.00" height="76" fill="url(#g1_s46)"/>
<rect x="385.80" y="154" width="1.00" height="76" fill="url(#g1_s47)"/>
<rect x="388.50" y="154" width="1.00" height="76" fill="url(#g1_s47)"/>
<rect x="394.00" y="154" width="5.00" height="76" fill="url(#g1_s48)"/>
<rect x="397.80" y="154" width="1.00" height="76" fill="url(#g1_s49)"/>
<rect x="399.00" y="154" width="5.60" height="76" fill="url(#g1_s20)"/>
<rect x="404.60" y="154" width="8.40" height="76" fill="url(#g1_s50)"/>
<polygon points="406.50,230 411.50,230 410.20,154 408.30,154" fill="url(#g1_s21)"/>
<rect x="408.50" y="154" width="1.80" height="76" fill="url(#g1_s51)"/>
<rect x="413.00" y="154" width="5.00" height="76" fill="url(#g1_s15)"/>
<rect x="418.00" y="154" width="2.80" height="76" fill="url(#g1_s52)"/>
<rect x="420.80" y="154" width="7.00" height="76" fill="url(#g1_s53)"/>
<rect x="427.80" y="154" width="52.20" height="76" fill="url(#g1_s54)"/>
<rect x="437.20" y="154" width="1.00" height="76" fill="url(#g1_s55)"/>
<rect x="449.10" y="154" width="1.00" height="76" fill="url(#g1_s55)"/>
<polygon points="480.00,230 488.20,230 487.20,154 481.20,154" fill="url(#g1_s56)"/>
<rect x="491.60" y="154" width="1.70" height="76" fill="url(#g1_s57)"/>
<rect x="495.70" y="154" width="1.70" height="76" fill="url(#g1_s58)"/>
<rect x="497.40" y="154" width="2.60" height="76" fill="url(#g1_s20)"/>
</g>
<g filter="url(#f2)">
<rect x="81" y="250" width="419" height="76" fill="url(#g2_bg)"/>
<g filter="url(#blur3)"><rect x="158.72" y="250" width="3.65" height="76" fill="url(#g2_a0)"/><rect x="161.68" y="250" width="3.65" height="76" fill="url(#g2_a1)"/><rect x="164.62" y="250" width="3.65" height="76" fill="url(#g2_a2)"/><rect x="167.58" y="250" width="3.65" height="76" fill="url(#g2_a3)"/><rect x="170.53" y="250" width="3.65" height="76" fill="url(#g2_a4)"/><rect x="173.47" y="250" width="3.65" height="76" fill="url(#g2_a5)"/><rect x="176.43" y="250" width="3.65" height="76" fill="url(#g2_a6)"/><rect x="179.38" y="250" width="3.65" height="76" fill="url(#g2_a7)"/><rect x="182.33" y="250" width="3.65" height="76" fill="url(#g2_a8)"/><rect x="185.28" y="250" width="3.65" height="76" fill="url(#g2_a9)"/><rect x="161.22" y="250" width="0.9" height="64" fill="#cacaca" opacity="0.2"/><rect x="164.18" y="250" width="0.9" height="64" fill="#cacaca" opacity="0.2"/><rect x="167.12" y="250" width="0.9" height="64" fill="#cacaca" opacity="0.2"/><rect x="170.08" y="250" width="0.9" height="64" fill="#cacaca" opacity="0.2"/><rect x="173.03" y="250" width="0.9" height="64" fill="#cacaca" opacity="0.2"/><rect x="175.97" y="250" width="0.9" height="64" fill="#cacaca" opacity="0.2"/><rect x="178.93" y="250" width="0.9" height="64" fill="#cacaca" opacity="0.2"/><rect x="181.88" y="250" width="0.9" height="64" fill="#cacaca" opacity="0.2"/><rect x="184.83" y="250" width="0.9" height="64" fill="#cacaca" opacity="0.2"/><rect x="187.78" y="250" width="0.9" height="64" fill="#cacaca" opacity="0.2"/><rect x="197.62" y="250" width="3.65" height="76" fill="url(#g2_b0)"/><rect x="200.57" y="250" width="3.65" height="76" fill="url(#g2_b1)"/><rect x="203.53" y="250" width="3.65" height="76" fill="url(#g2_b2)"/><rect x="206.47" y="250" width="3.65" height="76" fill="url(#g2_b3)"/><rect x="209.43" y="250" width="3.65" height="76" fill="url(#g2_b4)"/><rect x="212.38" y="250" width="3.65" height="76" fill="url(#g2_b5)"/><rect x="215.33" y="250" width="3.65" height="76" fill="url(#g2_b6)"/><rect x="218.28" y="250" width="3.65" height="76" fill="url(#g2_b7)"/><rect x="221.23" y="250" width="3.65" height="76" fill="url(#g2_b8)"/><rect x="224.18" y="250" width="3.65" height="76" fill="url(#g2_b9)"/><rect x="200.12" y="250" width="0.9" height="64" fill="#cacaca" opacity="0.2"/><rect x="203.07" y="250" width="0.9" height="64" fill="#cacaca" opacity="0.2"/><rect x="206.03" y="250" width="0.9" height="64" fill="#cacaca" opacity="0.2"/><rect x="208.97" y="250" width="0.9" height="64" fill="#cacaca" opacity="0.2"/><rect x="211.93" y="250" width="0.9" height="64" fill="#cacaca" opacity="0.2"/><rect x="214.88" y="250" width="0.9" height="64" fill="#cacaca" opacity="0.2"/><rect x="217.83" y="250" width="0.9" height="64" fill="#cacaca" opacity="0.2"/><rect x="220.78" y="250" width="0.9" height="64" fill="#cacaca" opacity="0.2"/><rect x="223.73" y="250" width="0.9" height="64" fill="#cacaca" opacity="0.2"/><rect x="226.68" y="250" width="0.9" height="64" fill="#cacaca" opacity="0.2"/><rect x="465.07" y="250" width="3.65" height="76" fill="url(#g2_c0)"/><rect x="468.02" y="250" width="3.65" height="76" fill="url(#g2_c1)"/><rect x="470.97" y="250" width="3.65" height="76" fill="url(#g2_c2)"/><rect x="473.93" y="250" width="3.65" height="76" fill="url(#g2_c3)"/><rect x="476.88" y="250" width="3.65" height="76" fill="url(#g2_c4)"/><rect x="479.82" y="250" width="3.65" height="76" fill="url(#g2_c5)"/><rect x="482.77" y="250" width="3.65" height="76" fill="url(#g2_c6)"/><rect x="485.72" y="250" width="3.65" height="76" fill="url(#g2_c7)"/><rect x="488.68" y="250" width="3.65" height="76" fill="url(#g2_c8)"/><rect x="491.62" y="250" width="3.65" height="76" fill="url(#g2_c9)"/><rect x="467.58" y="250" width="0.9" height="64" fill="#cacaca" opacity="0.2"/><rect x="470.53" y="250" width="0.9" height="64" fill="#cacaca" opacity="0.2"/><rect x="473.48" y="250" width="0.9" height="64" fill="#cacaca" opacity="0.2"/><rect x="476.43" y="250" width="0.9" height="64" fill="#cacaca" opacity="0.2"/><rect x="479.38" y="250" width="0.9" height="64" fill="#cacaca" opacity="0.2"/><rect x="482.33" y="250" width="0.9" height="64" fill="#cacaca" opacity="0.2"/><rect x="485.28" y="250" width="0.9" height="64" fill="#cacaca" opacity="0.2"/><rect x="488.23" y="250" width="0.9" height="64" fill="#cacaca" opacity="0.2"/><rect x="491.18" y="250" width="0.9" height="64" fill="#cacaca" opacity="0.2"/><rect x="494.13" y="250" width="0.9" height="64" fill="#cacaca" opacity="0.2"/></g>
<rect x="208.9" y="250" width="1" height="70" fill="#cacaca"/>
<rect x="189.6" y="250" width="1" height="5" fill="#a4a4a4"/>
</g>
<g filter="url(#f3)">
<rect x="81" y="365" width="419" height="76" fill="url(#g3_bg)"/>
<linearGradient id="h3" x1="0" y1="0" x2="1" y2="0"><stop offset="0.000" stop-color="#fff" stop-opacity="0.034"/><stop offset="0.117" stop-color="#fff" stop-opacity="0.027"/><stop offset="0.236" stop-color="#fff" stop-opacity="0.020"/><stop offset="0.284" stop-color="#fff" stop-opacity="0.004"/><stop offset="0.379" stop-color="#fff" stop-opacity="0.000"/><stop offset="0.451" stop-color="#fff" stop-opacity="0.010"/><stop offset="0.570" stop-color="#fff" stop-opacity="0.010"/><stop offset="0.618" stop-color="#fff" stop-opacity="0.000"/><stop offset="0.785" stop-color="#fff" stop-opacity="0.000"/><stop offset="0.857" stop-color="#fff" stop-opacity="0.020"/><stop offset="1.000" stop-color="#fff" stop-opacity="0.037"/></linearGradient><rect x="81" y="373" width="419" height="52" fill="url(#h3)"/>
</g>
<g filter="url(#f4)">
<rect x="81" y="461" width="419" height="76" fill="url(#g4_bg)"/>
<linearGradient id="h4" x1="0" y1="0" x2="1" y2="0"><stop offset="0.000" stop-color="#fff" stop-opacity="0.032"/><stop offset="0.093" stop-color="#fff" stop-opacity="0.024"/><stop offset="0.189" stop-color="#fff" stop-opacity="0.012"/><stop offset="0.284" stop-color="#fff" stop-opacity="0.000"/><stop offset="0.403" stop-color="#fff" stop-opacity="0.000"/><stop offset="0.499" stop-color="#fff" stop-opacity="0.008"/><stop offset="0.594" stop-color="#fff" stop-opacity="0.000"/><stop offset="0.809" stop-color="#fff" stop-opacity="0.000"/><stop offset="0.881" stop-color="#fff" stop-opacity="0.012"/><stop offset="1.000" stop-color="#fff" stop-opacity="0.027"/></linearGradient><rect x="81" y="469" width="419" height="52" fill="url(#h4)"/>
</g>
<g filter="url(#f5)">
<rect x="81" y="557" width="419" height="76" fill="url(#g5_bg)"/>
<linearGradient id="h5" x1="0" y1="0" x2="1" y2="0"><stop offset="0.000" stop-color="#fff" stop-opacity="0.034"/><stop offset="0.093" stop-color="#fff" stop-opacity="0.027"/><stop offset="0.189" stop-color="#fff" stop-opacity="0.013"/><stop offset="0.284" stop-color="#fff" stop-opacity="0.000"/><stop offset="0.427" stop-color="#fff" stop-opacity="0.002"/><stop offset="0.523" stop-color="#fff" stop-opacity="0.008"/><stop offset="0.618" stop-color="#fff" stop-opacity="0.000"/><stop offset="0.809" stop-color="#fff" stop-opacity="0.000"/><stop offset="0.881" stop-color="#fff" stop-opacity="0.013"/><stop offset="1.000" stop-color="#fff" stop-opacity="0.030"/></linearGradient><rect x="81" y="565" width="419" height="52" fill="url(#h5)"/>
<rect x="191" y="597" width="1" height="20" fill="#8b8b8b" opacity="0.8"/>
</g>
<g fill="#000" shape-rendering="crispEdges">
<rect x="80" y="57" width="421" height="1"/>
<rect x="80" y="57" width="1" height="78"/>
<rect x="500" y="57" width="1" height="78"/>
<rect x="71" y="134" width="9" height="1"/>
<rect x="501" y="134" width="8" height="1"/>
<rect x="75" y="132" width="5" height="1"/>
<rect x="501" y="132" width="4" height="1"/>
<rect x="75" y="129" width="5" height="1"/>
<rect x="501" y="129" width="4" height="1"/>
<rect x="75" y="127" width="5" height="1"/>
<rect x="501" y="127" width="4" height="1"/>
<rect x="75" y="124" width="5" height="1"/>
<rect x="501" y="124" width="4" height="1"/>
<rect x="71" y="122" width="9" height="1"/>
<rect x="501" y="122" width="8" height="1"/>
<rect x="75" y="119" width="5" height="1"/>
<rect x="501" y="119" width="4" height="1"/>
<rect x="75" y="116" width="5" height="1"/>
<rect x="501" y="116" width="4" height="1"/>
<rect x="75" y="114" width="5" height="1"/>
<rect x="501" y="114" width="4" height="1"/>
<rect x="75" y="111" width="5" height="1"/>
<rect x="501" y="111" width="4" height="1"/>
<rect x="71" y="109" width="9" height="1"/>
<rect x="501" y="109" width="8" height="1"/>
<rect x="75" y="106" width="5" height="1"/>
<rect x="501" y="106" width="4" height="1"/>
<rect x="75" y="104" width="5" height="1"/>
<rect x="501" y="104" width="4" height="1"/>
<rect x="75" y="101" width="5" height="1"/>
<rect x="501" y="101" width="4" height="1"/>
<rect x="75" y="98" width="5" height="1"/>
<rect x="501" y="98" width="4" height="1"/>
<rect x="71" y="96" width="9" height="1"/>
<rect x="501" y="96" width="8" height="1"/>
<rect x="75" y="93" width="5" height="1"/>
<rect x="501" y="93" width="4" height="1"/>
<rect x="75" y="91" width="5" height="1"/>
<rect x="501" y="91" width="4" height="1"/>
<rect x="75" y="88" width="5" height="1"/>
<rect x="501" y="88" width="4" height="1"/>
<rect x="75" y="86" width="5" height="1"/>
<rect x="501" y="86" width="4" height="1"/>
<rect x="71" y="83" width="9" height="1"/>
<rect x="501" y="83" width="8" height="1"/>
<rect x="75" y="81" width="5" height="1"/>
<rect x="501" y="81" width="4" height="1"/>
<rect x="75" y="78" width="5" height="1"/>
<rect x="501" y="78" width="4" height="1"/>
<rect x="75" y="75" width="5" height="1"/>
<rect x="501" y="75" width="4" height="1"/>
<rect x="75" y="73" width="5" height="1"/>
<rect x="501" y="73" width="4" height="1"/>
<rect x="71" y="70" width="9" height="1"/>
<rect x="501" y="70" width="8" height="1"/>
<rect x="75" y="68" width="5" height="1"/>
<rect x="501" y="68" width="4" height="1"/>
<rect x="75" y="65" width="5" height="1"/>
<rect x="501" y="65" width="4" height="1"/>
<rect x="75" y="63" width="5" height="1"/>
<rect x="501" y="63" width="4" height="1"/>
<rect x="75" y="60" width="5" height="1"/>
<rect x="501" y="60" width="4" height="1"/>
<rect x="71" y="57" width="9" height="1"/>
<rect x="501" y="57" width="8" height="1"/>
<rect x="80" y="135" width="1" height="3"/>
<rect x="80" y="56" width="1" height="1"/>
<rect x="115" y="135" width="1" height="1"/>
<rect x="150" y="135" width="1" height="1"/>
<rect x="185" y="135" width="1" height="3"/>
<rect x="185" y="56" width="1" height="1"/>
<rect x="220" y="135" width="1" height="1"/>
<rect x="255" y="135" width="1" height="1"/>
<rect x="290" y="135" width="1" height="3"/>
<rect x="290" y="56" width="1" height="1"/>
<rect x="325" y="135" width="1" height="1"/>
<rect x="360" y="135" width="1" height="1"/>
<rect x="395" y="135" width="1" height="3"/>
<rect x="395" y="56" width="1" height="1"/>
<rect x="430" y="135" width="1" height="1"/>
<rect x="465" y="135" width="1" height="1"/>
<rect x="500" y="135" width="1" height="3"/>
<rect x="500" y="56" width="1" height="1"/>
<rect x="80" y="153" width="421" height="1"/>
<rect x="80" y="153" width="1" height="78"/>
<rect x="500" y="153" width="1" height="78"/>
<rect x="71" y="230" width="9" height="1"/>
<rect x="501" y="230" width="8" height="1"/>
<rect x="75" y="228" width="5" height="1"/>
<rect x="501" y="228" width="4" height="1"/>
<rect x="75" y="225" width="5" height="1"/>
<rect x="501" y="225" width="4" height="1"/>
<rect x="75" y="223" width="5" height="1"/>
<rect x="501" y="223" width="4" height="1"/>
<rect x="75" y="220" width="5" height="1"/>
<rect x="501" y="220" width="4" height="1"/>
<rect x="71" y="218" width="9" height="1"/>
<rect x="501" y="218" width="8" height="1"/>
<rect x="75" y="215" width="5" height="1"/>
<rect x="501" y="215" width="4" height="1"/>
<rect x="75" y="212" width="5" height="1"/>
<rect x="501" y="212" width="4" height="1"/>
<rect x="75" y="210" width="5" height="1"/>
<rect x="501" y="210" width="4" height="1"/>
<rect x="75" y="207" width="5" height="1"/>
<rect x="501" y="207" width="4" height="1"/>
<rect x="71" y="205" width="9" height="1"/>
<rect x="501" y="205" width="8" height="1"/>
<rect x="75" y="202" width="5" height="1"/>
<rect x="501" y="202" width="4" height="1"/>
<rect x="75" y="200" width="5" height="1"/>
<rect x="501" y="200" width="4" height="1"/>
<rect x="75" y="197" width="5" height="1"/>
<rect x="501" y="197" width="4" height="1"/>
<rect x="75" y="194" width="5" height="1"/>
<rect x="501" y="194" width="4" height="1"/>
<rect x="71" y="192" width="9" height="1"/>
<rect x="501" y="192" width="8" height="1"/>
<rect x="75" y="189" width="5" height="1"/>
<rect x="501" y="189" width="4" height="1"/>
<rect x="75" y="187" width="5" height="1"/>
<rect x="501" y="187" width="4" height="1"/>
<rect x="75" y="184" width="5" height="1"/>
<rect x="501" y="184" width="4" height="1"/>
<rect x="75" y="182" width="5" height="1"/>
<rect x="501" y="182" width="4" height="1"/>
<rect x="71" y="179" width="9" height="1"/>
<rect x="501" y="179" width="8" height="1"/>
<rect x="75" y="177" width="5" height="1"/>
<rect x="501" y="177" width="4" height="1"/>
<rect x="75" y="174" width="5" height="1"/>
<rect x="501" y="174" width="4" height="1"/>
<rect x="75" y="171" width="5" height="1"/>
<rect x="501" y="171" width="4" height="1"/>
<rect x="75" y="169" width="5" height="1"/>
<rect x="501" y="169" width="4" height="1"/>
<rect x="71" y="166" width="9" height="1"/>
<rect x="501" y="166" width="8" height="1"/>
<rect x="75" y="164" width="5" height="1"/>
<rect x="501" y="164" width="4" height="1"/>
<rect x="75" y="161" width="5" height="1"/>
<rect x="501" y="161" width="4" height="1"/>
<rect x="75" y="159" width="5" height="1"/>
<rect x="501" y="159" width="4" height="1"/>
<rect x="75" y="156" width="5" height="1"/>
<rect x="501" y="156" width="4" height="1"/>
<rect x="71" y="153" width="9" height="1"/>
<rect x="501" y="153" width="8" height="1"/>
<rect x="80" y="231" width="1" height="3"/>
<rect x="80" y="152" width="1" height="1"/>
<rect x="115" y="231" width="1" height="1"/>
<rect x="150" y="231" width="1" height="1"/>
<rect x="185" y="231" width="1" height="3"/>
<rect x="185" y="152" width="1" height="1"/>
<rect x="220" y="231" width="1" height="1"/>
<rect x="255" y="231" width="1" height="1"/>
<rect x="290" y="231" width="1" height="3"/>
<rect x="290" y="152" width="1" height="1"/>
<rect x="325" y="231" width="1" height="1"/>
<rect x="360" y="231" width="1" height="1"/>
<rect x="395" y="231" width="1" height="3"/>
<rect x="395" y="152" width="1" height="1"/>
<rect x="430" y="231" width="1" height="1"/>
<rect x="465" y="231" width="1" height="1"/>
<rect x="500" y="231" width="1" height="3"/>
<rect x="500" y="152" width="1" height="1"/>
<rect x="80" y="249" width="421" height="1"/>
<rect x="80" y="249" width="1" height="78"/>
<rect x="500" y="249" width="1" height="78"/>
<rect x="71" y="326" width="9" height="1"/>
<rect x="501" y="326" width="8" height="1"/>
<rect x="75" y="324" width="5" height="1"/>
<rect x="501" y="324" width="4" height="1"/>
<rect x="75" y="321" width="5" height="1"/>
<rect x="501" y="321" width="4" height="1"/>
<rect x="75" y="319" width="5" height="1"/>
<rect x="501" y="319" width="4" height="1"/>
<rect x="75" y="316" width="5" height="1"/>
<rect x="501" y="316" width="4" height="1"/>
<rect x="71" y="314" width="9" height="1"/>
<rect x="501" y="314" width="8" height="1"/>
<rect x="75" y="311" width="5" height="1"/>
<rect x="501" y="311" width="4" height="1"/>
<rect x="75" y="308" width="5" height="1"/>
<rect x="501" y="308" width="4" height="1"/>
<rect x="75" y="306" width="5" height="1"/>
<rect x="501" y="306" width="4" height="1"/>
<rect x="75" y="303" width="5" height="1"/>
<rect x="501" y="303" width="4" height="1"/>
<rect x="71" y="301" width="9" height="1"/>
<rect x="501" y="301" width="8" height="1"/>
<rect x="75" y="298" width="5" height="1"/>
<rect x="501" y="298" width="4" height="1"/>
<rect x="75" y="296" width="5" height="1"/>
<rect x="501" y="296" width="4" height="1"/>
<rect x="75" y="293" width="5" height="1"/>
<rect x="501" y="293" width="4" height="1"/>
<rect x="75" y="290" width="5" height="1"/>
<rect x="501" y="290" width="4" height="1"/>
<rect x="71" y="288" width="9" height="1"/>
<rect x="501" y="288" width="8" height="1"/>
<rect x="75" y="285" width="5" height="1"/>
<rect x="501" y="285" width="4" height="1"/>
<rect x="75" y="283" width="5" height="1"/>
<rect x="501" y="283" width="4" height="1"/>
<rect x="75" y="280" width="5" height="1"/>
<rect x="501" y="280" width="4" height="1"/>
<rect x="75" y="278" width="5" height="1"/>
<rect x="501" y="278" width="4" height="1"/>
<rect x="71" y="275" width="9" height="1"/>
<rect x="501" y="275" width="8" height="1"/>
<rect x="75" y="273" width="5" height="1"/>
<rect x="501" y="273" width="4" height="1"/>
<rect x="75" y="270" width="5" height="1"/>
<rect x="501" y="270" width="4" height="1"/>
<rect x="75" y="267" width="5" height="1"/>
<rect x="501" y="267" width="4" height="1"/>
<rect x="75" y="265" width="5" height="1"/>
<rect x="501" y="265" width="4" height="1"/>
<rect x="71" y="262" width="9" height="1"/>
<rect x="501" y="262" width="8" height="1"/>
<rect x="75" y="260" width="5" height="1"/>
<rect x="501" y="260" width="4" height="1"/>
<rect x="75" y="257" width="5" height="1"/>
<rect x="501" y="257" width="4" height="1"/>
<rect x="75" y="255" width="5" height="1"/>
<rect x="501" y="255" width="4" height="1"/>
<rect x="75" y="252" width="5" height="1"/>
<rect x="501" y="252" width="4" height="1"/>
<rect x="71" y="249" width="9" height="1"/>
<rect x="501" y="249" width="8" height="1"/>
<rect x="80" y="327" width="1" height="3"/>
<rect x="80" y="248" width="1" height="1"/>
<rect x="115" y="327" width="1" height="1"/>
<rect x="150" y="327" width="1" height="1"/>
<rect x="185" y="327" width="1" height="3"/>
<rect x="185" y="248" width="1" height="1"/>
<rect x="220" y="327" width="1" height="1"/>
<rect x="255" y="327" width="1" height="1"/>
<rect x="290" y="327" width="1" height="3"/>
<rect x="290" y="248" width="1" height="1"/>
<rect x="325" y="327" width="1" height="1"/>
<rect x="360" y="327" width="1" height="1"/>
<rect x="395" y="327" width="1" height="3"/>
<rect x="395" y="248" width="1" height="1"/>
<rect x="430" y="327" width="1" height="1"/>
<rect x="465" y="327" width="1" height="1"/>
<rect x="500" y="327" width="1" height="3"/>
<rect x="500" y="248" width="1" height="1"/>
<rect x="80" y="364" width="421" height="1"/>
<rect x="80" y="364" width="1" height="78"/>
<rect x="500" y="364" width="1" height="78"/>
<rect x="71" y="441" width="9" height="1"/>
<rect x="501" y="441" width="8" height="1"/>
<rect x="75" y="439" width="5" height="1"/>
<rect x="501" y="439" width="4" height="1"/>
<rect x="75" y="436" width="5" height="1"/>
<rect x="501" y="436" width="4" height="1"/>
<rect x="75" y="434" width="5" height="1"/>
<rect x="501" y="434" width="4" height="1"/>
<rect x="75" y="431" width="5" height="1"/>
<rect x="501" y="431" width="4" height="1"/>
<rect x="71" y="429" width="9" height="1"/>
<rect x="501" y="429" width="8" height="1"/>
<rect x="75" y="426" width="5" height="1"/>
<rect x="501" y="426" width="4" height="1"/>
<rect x="75" y="423" width="5" height="1"/>
<rect x="501" y="423" width="4" height="1"/>
<rect x="75" y="421" width="5" height="1"/>
<rect x="501" y="421" width="4" height="1"/>
<rect x="75" y="418" width="5" height="1"/>
<rect x="501" y="418" width="4" height="1"/>
<rect x="71" y="416" width="9" height="1"/>
<rect x="501" y="416" width="8" height="1"/>
<rect x="75" y="413" width="5" height="1"/>
<rect x="501" y="413" width="4" height="1"/>
<rect x="75" y="411" width="5" height="1"/>
<rect x="501" y="411" width="4" height="1"/>
<rect x="75" y="408" width="5" height="1"/>
<rect x="501" y="408" width="4" height="1"/>
<rect x="75" y="405" width="5" height="1"/>
<rect x="501" y="405" width="4" height="1"/>
<rect x="71" y="403" width="9" height="1"/>
<rect x="501" y="403" width="8" height="1"/>
<rect x="75" y="400" width="5" height="1"/>
<rect x="501" y="400" width="4" height="1"/>
<rect x="75" y="398" width="5" height="1"/>
<rect x="501" y="398" width="4" height="1"/>
<rect x="75" y="395" width="5" height="1"/>
<rect x="501" y="395" width="4" height="1"/>
<rect x="75" y="393" width="5" height="1"/>
<rect x="501" y="393" width="4" height="1"/>
<rect x="71" y="390" width="9" height="1"/>
<rect x="501" y="390" width="8" height="1"/>
<rect x="75" y="388" width="5" height="1"/>
<rect x="501" y="388" width="4" height="1"/>
<rect x="75" y="385" width="5" height="1"/>
<rect x="501" y="385" width="4" height="1"/>
<rect x="75" y="382" width="5" height="1"/>
<rect x="501" y="382" width="4" height="1"/>
<rect x="75" y="380" width="5" height="1"/>
<rect x="501" y="380" width="4" height="1"/>
<rect x="71" y="377" width="9" height="1"/>
<rect x="501" y="377" width="8" height="1"/>
<rect x="75" y="375" width="5" height="1"/>
<rect x="501" y="375" width="4" height="1"/>
<rect x="75" y="372" width="5" height="1"/>
<rect x="501" y="372" width="4" height="1"/>
<rect x="75" y="370" width="5" height="1"/>
<rect x="501" y="370" width="4" height="1"/>
<rect x="75" y="367" width="5" height="1"/>
<rect x="501" y="367" width="4" height="1"/>
<rect x="71" y="364" width="9" height="1"/>
<rect x="501" y="364" width="8" height="1"/>
<rect x="80" y="442" width="1" height="3"/>
<rect x="80" y="363" width="1" height="1"/>
<rect x="115" y="442" width="1" height="1"/>
<rect x="150" y="442" width="1" height="1"/>
<rect x="185" y="442" width="1" height="3"/>
<rect x="185" y="363" width="1" height="1"/>
<rect x="220" y="442" width="1" height="1"/>
<rect x="255" y="442" width="1" height="1"/>
<rect x="290" y="442" width="1" height="3"/>
<rect x="290" y="363" width="1" height="1"/>
<rect x="325" y="442" width="1" height="1"/>
<rect x="360" y="442" width="1" height="1"/>
<rect x="395" y="442" width="1" height="3"/>
<rect x="395" y="363" width="1" height="1"/>
<rect x="430" y="442" width="1" height="1"/>
<rect x="465" y="442" width="1" height="1"/>
<rect x="500" y="442" width="1" height="3"/>
<rect x="500" y="363" width="1" height="1"/>
<rect x="80" y="460" width="421" height="1"/>
<rect x="80" y="460" width="1" height="78"/>
<rect x="500" y="460" width="1" height="78"/>
<rect x="71" y="537" width="9" height="1"/>
<rect x="501" y="537" width="8" height="1"/>
<rect x="75" y="535" width="5" height="1"/>
<rect x="501" y="535" width="4" height="1"/>
<rect x="75" y="532" width="5" height="1"/>
<rect x="501" y="532" width="4" height="1"/>
<rect x="75" y="530" width="5" height="1"/>
<rect x="501" y="530" width="4" height="1"/>
<rect x="75" y="527" width="5" height="1"/>
<rect x="501" y="527" width="4" height="1"/>
<rect x="71" y="525" width="9" height="1"/>
<rect x="501" y="525" width="8" height="1"/>
<rect x="75" y="522" width="5" height="1"/>
<rect x="501" y="522" width="4" height="1"/>
<rect x="75" y="519" width="5" height="1"/>
<rect x="501" y="519" width="4" height="1"/>
<rect x="75" y="517" width="5" height="1"/>
<rect x="501" y="517" width="4" height="1"/>
<rect x="75" y="514" width="5" height="1"/>
<rect x="501" y="514" width="4" height="1"/>
<rect x="71" y="512" width="9" height="1"/>
<rect x="501" y="512" width="8" height="1"/>
<rect x="75" y="509" width="5" height="1"/>
<rect x="501" y="509" width="4" height="1"/>
<rect x="75" y="507" width="5" height="1"/>
<rect x="501" y="507" width="4" height="1"/>
<rect x="75" y="504" width="5" height="1"/>
<rect x="501" y="504" width="4" height="1"/>
<rect x="75" y="501" width="5" height="1"/>
<rect x="501" y="501" width="4" height="1"/>
<rect x="71" y="499" width="9" height="1"/>
<rect x="501" y="499" width="8" height="1"/>
<rect x="75" y="496" width="5" height="1"/>
<rect x="501" y="496" width="4" height="1"/>
<rect x="75" y="494" width="5" height="1"/>
<rect x="501" y="494" width="4" height="1"/>
<rect x="75" y="491" width="5" height="1"/>
<rect x="501" y="491" width="4" height="1"/>
<rect x="75" y="489" width="5" height="1"/>
<rect x="501" y="489" width="4" height="1"/>
<rect x="71" y="486" width="9" height="1"/>
<rect x="501" y="486" width="8" height="1"/>
<rect x="75" y="484" width="5" height="1"/>
<rect x="501" y="484" width="4" height="1"/>
<rect x="75" y="481" width="5" height="1"/>
<rect x="501" y="481" width="4" height="1"/>
<rect x="75" y="478" width="5" height="1"/>
<rect x="501" y="478" width="4" height="1"/>
<rect x="75" y="476" width="5" height="1"/>
<rect x="501" y="476" width="4" height="1"/>
<rect x="71" y="473" width="9" height="1"/>
<rect x="501" y="473" width="8" height="1"/>
<rect x="75" y="471" width="5" height="1"/>
<rect x="501" y="471" width="4" height="1"/>
<rect x="75" y="468" width="5" height="1"/>
<rect x="501" y="468" width="4" height="1"/>
<rect x="75" y="466" width="5" height="1"/>
<rect x="501" y="466" width="4" height="1"/>
<rect x="75" y="463" width="5" height="1"/>
<rect x="501" y="463" width="4" height="1"/>
<rect x="71" y="460" width="9" height="1"/>
<rect x="501" y="460" width="8" height="1"/>
<rect x="80" y="538" width="1" height="3"/>
<rect x="80" y="459" width="1" height="1"/>
<rect x="115" y="538" width="1" height="1"/>
<rect x="150" y="538" width="1" height="1"/>
<rect x="185" y="538" width="1" height="3"/>
<rect x="185" y="459" width="1" height="1"/>
<rect x="220" y="538" width="1" height="1"/>
<rect x="255" y="538" width="1" height="1"/>
<rect x="290" y="538" width="1" height="3"/>
<rect x="290" y="459" width="1" height="1"/>
<rect x="325" y="538" width="1" height="1"/>
<rect x="360" y="538" width="1" height="1"/>
<rect x="395" y="538" width="1" height="3"/>
<rect x="395" y="459" width="1" height="1"/>
<rect x="430" y="538" width="1" height="1"/>
<rect x="465" y="538" width="1" height="1"/>
<rect x="500" y="538" width="1" height="3"/>
<rect x="500" y="459" width="1" height="1"/>
<rect x="80" y="556" width="421" height="1"/>
<rect x="80" y="556" width="1" height="78"/>
<rect x="500" y="556" width="1" height="78"/>
<rect x="71" y="633" width="9" height="1"/>
<rect x="501" y="633" width="8" height="1"/>
<rect x="75" y="631" width="5" height="1"/>
<rect x="501" y="631" width="4" height="1"/>
<rect x="75" y="628" width="5" height="1"/>
<rect x="501" y="628" width="4" height="1"/>
<rect x="75" y="626" width="5" height="1"/>
<rect x="501" y="626" width="4" height="1"/>
<rect x="75" y="623" width="5" height="1"/>
<rect x="501" y="623" width="4" height="1"/>
<rect x="71" y="621" width="9" height="1"/>
<rect x="501" y="621" width="8" height="1"/>
<rect x="75" y="618" width="5" height="1"/>
<rect x="501" y="618" width="4" height="1"/>
<rect x="75" y="615" width="5" height="1"/>
<rect x="501" y="615" width="4" height="1"/>
<rect x="75" y="613" width="5" height="1"/>
<rect x="501" y="613" width="4" height="1"/>
<rect x="75" y="610" width="5" height="1"/>
<rect x="501" y="610" width="4" height="1"/>
<rect x="71" y="608" width="9" height="1"/>
<rect x="501" y="608" width="8" height="1"/>
<rect x="75" y="605" width="5" height="1"/>
<rect x="501" y="605" width="4" height="1"/>
<rect x="75" y="603" width="5" height="1"/>
<rect x="501" y="603" width="4" height="1"/>
<rect x="75" y="600" width="5" height="1"/>
<rect x="501" y="600" width="4" height="1"/>
<rect x="75" y="597" width="5" height="1"/>
<rect x="501" y="597" width="4" height="1"/>
<rect x="71" y="595" width="9" height="1"/>
<rect x="501" y="595" width="8" height="1"/>
<rect x="75" y="592" width="5" height="1"/>
<rect x="501" y="592" width="4" height="1"/>
<rect x="75" y="590" width="5" height="1"/>
<rect x="501" y="590" width="4" height="1"/>
<rect x="75" y="587" width="5" height="1"/>
<rect x="501" y="587" width="4" height="1"/>
<rect x="75" y="585" width="5" height="1"/>
<rect x="501" y="585" width="4" height="1"/>
<rect x="71" y="582" width="9" height="1"/>
<rect x="501" y="582" width="8" height="1"/>
<rect x="75" y="580" width="5" height="1"/>
<rect x="501" y="580" width="4" height="1"/>
<rect x="75" y="577" width="5" height="1"/>
<rect x="501" y="577" width="4" height="1"/>
<rect x="75" y="574" width="5" height="1"/>
<rect x="501" y="574" width="4" height="1"/>
<rect x="75" y="572" width="5" height="1"/>
<rect x="501" y="572" width="4" height="1"/>
<rect x="71" y="569" width="9" height="1"/>
<rect x="501" y="569" width="8" height="1"/>
<rect x="75" y="567" width="5" height="1"/>
<rect x="501" y="567" width="4" height="1"/>
<rect x="75" y="564" width="5" height="1"/>
<rect x="501" y="564" width="4" height="1"/>
<rect x="75" y="562" width="5" height="1"/>
<rect x="501" y="562" width="4" height="1"/>
<rect x="75" y="559" width="5" height="1"/>
<rect x="501" y="559" width="4" height="1"/>
<rect x="71" y="556" width="9" height="1"/>
<rect x="501" y="556" width="8" height="1"/>
<rect x="80" y="634" width="1" height="3"/>
<rect x="80" y="555" width="1" height="1"/>
<rect x="115" y="634" width="1" height="1"/>
<rect x="150" y="634" width="1" height="1"/>
<rect x="185" y="634" width="1" height="3"/>
<rect x="185" y="555" width="1" height="1"/>
<rect x="220" y="634" width="1" height="1"/>
<rect x="255" y="634" width="1" height="1"/>
<rect x="290" y="634" width="1" height="3"/>
<rect x="290" y="555" width="1" height="1"/>
<rect x="325" y="634" width="1" height="1"/>
<rect x="360" y="634" width="1" height="1"/>
<rect x="395" y="634" width="1" height="3"/>
<rect x="395" y="555" width="1" height="1"/>
<rect x="430" y="634" width="1" height="1"/>
<rect x="465" y="634" width="1" height="1"/>
<rect x="500" y="634" width="1" height="3"/>
<rect x="500" y="555" width="1" height="1"/>
</g>
<g fill="#000">
<rect x="80" y="133.5" width="421" height="1.5"/>
<rect x="80" y="229.5" width="421" height="1.5"/>
<rect x="80" y="325.5" width="421" height="1.5"/>
<rect x="80" y="440.5" width="421" height="1.5"/>
<rect x="80" y="536.5" width="421" height="1.5"/>
<rect x="80" y="632.5" width="421" height="1.5"/>
</g>
<rect x="581" y="58" width="19" height="76" fill="url(#cb)"/>
<rect x="581" y="154" width="19" height="76" fill="url(#cb)"/>
<rect x="581" y="250" width="19" height="76" fill="url(#cb)"/>
<rect x="581" y="365" width="19" height="76" fill="url(#cb)"/>
<rect x="581" y="461" width="19" height="76" fill="url(#cb)"/>
<rect x="581" y="557" width="19" height="76" fill="url(#cb)"/>
<g fill="#000" shape-rendering="crispEdges">
<rect x="580" y="57" width="1" height="78"/>
<rect x="600" y="57" width="1" height="78"/>
<rect x="580" y="134" width="21" height="1"/>
<rect x="576" y="57" width="5" height="1"/>
<rect x="600" y="57" width="6" height="1"/>
<rect x="578" y="71" width="3" height="1"/>
<rect x="600" y="71" width="3" height="1"/>
<rect x="578" y="68" width="3" height="1"/>
<rect x="600" y="68" width="3" height="1"/>
<rect x="578" y="65" width="3" height="1"/>
<rect x="600" y="65" width="3" height="1"/>
<rect x="578" y="63" width="3" height="1"/>
<rect x="600" y="63" width="3" height="1"/>
<rect x="578" y="62" width="3" height="1"/>
<rect x="600" y="62" width="3" height="1"/>
<rect x="578" y="60" width="3" height="1"/>
<rect x="600" y="60" width="3" height="1"/>
<rect x="578" y="59" width="3" height="1"/>
<rect x="600" y="59" width="3" height="1"/>
<rect x="578" y="58" width="3" height="1"/>
<rect x="600" y="58" width="3" height="1"/>
<rect x="576" y="76" width="5" height="1"/>
<rect x="600" y="76" width="6" height="1"/>
<rect x="578" y="90" width="3" height="1"/>
<rect x="600" y="90" width="3" height="1"/>
<rect x="578" y="87" width="3" height="1"/>
<rect x="600" y="87" width="3" height="1"/>
<rect x="578" y="84" width="3" height="1"/>
<rect x="600" y="84" width="3" height="1"/>
<rect x="578" y="83" width="3" height="1"/>
<rect x="600" y="83" width="3" height="1"/>
<rect x="578" y="81" width="3" height="1"/>
<rect x="600" y="81" width="3" height="1"/>
<rect x="578" y="80" width="3" height="1"/>
<rect x="600" y="80" width="3" height="1"/>
<rect x="578" y="79" width="3" height="1"/>
<rect x="600" y="79" width="3" height="1"/>
<rect x="578" y="78" width="3" height="1"/>
<rect x="600" y="78" width="3" height="1"/>
<rect x="576" y="96" width="5" height="1"/>
<rect x="600" y="96" width="6" height="1"/>
<rect x="578" y="109" width="3" height="1"/>
<rect x="600" y="109" width="3" height="1"/>
<rect x="578" y="106" width="3" height="1"/>
<rect x="600" y="106" width="3" height="1"/>
<rect x="578" y="104" width="3" height="1"/>
<rect x="600" y="104" width="3" height="1"/>
<rect x="578" y="102" width="3" height="1"/>
<rect x="600" y="102" width="3" height="1"/>
<rect x="578" y="100" width="3" height="1"/>
<rect x="600" y="100" width="3" height="1"/>
<rect x="578" y="99" width="3" height="1"/>
<rect x="600" y="99" width="3" height="1"/>
<rect x="578" y="98" width="3" height="1"/>
<rect x="600" y="98" width="3" height="1"/>
<rect x="578" y="97" width="3" height="1"/>
<rect x="600" y="97" width="3" height="1"/>
<rect x="576" y="115" width="5" height="1"/>
<rect x="600" y="115" width="6" height="1"/>
<rect x="578" y="129" width="3" height="1"/>
<rect x="600" y="129" width="3" height="1"/>
<rect x="578" y="125" width="3" height="1"/>
<rect x="600" y="125" width="3" height="1"/>
<rect x="578" y="123" width="3" height="1"/>
<rect x="600" y="123" width="3" height="1"/>
<rect x="578" y="121" width="3" height="1"/>
<rect x="600" y="121" width="3" height="1"/>
<rect x="578" y="120" width="3" height="1"/>
<rect x="600" y="120" width="3" height="1"/>
<rect x="578" y="118" width="3" height="1"/>
<rect x="600" y="118" width="3" height="1"/>
<rect x="578" y="117" width="3" height="1"/>
<rect x="600" y="117" width="3" height="1"/>
<rect x="578" y="116" width="3" height="1"/>
<rect x="600" y="116" width="3" height="1"/>
<rect x="576" y="134" width="5" height="1"/>
<rect x="600" y="134" width="6" height="1"/>
<rect x="580" y="153" width="1" height="78"/>
<rect x="600" y="153" width="1" height="78"/>
<rect x="580" y="230" width="21" height="1"/>
<rect x="576" y="153" width="5" height="1"/>
<rect x="600" y="153" width="6" height="1"/>
<rect x="578" y="167" width="3" height="1"/>
<rect x="600" y="167" width="3" height="1"/>
<rect x="578" y="164" width="3" height="1"/>
<rect x="600" y="164" width="3" height="1"/>
<rect x="578" y="161" width="3" height="1"/>
<rect x="600" y="161" width="3" height="1"/>
<rect x="578" y="159" width="3" height="1"/>
<rect x="600" y="159" width="3" height="1"/>
<rect x="578" y="158" width="3" height="1"/>
<rect x="600" y="158" width="3" height="1"/>
<rect x="578" y="156" width="3" height="1"/>
<rect x="600" y="156" width="3" height="1"/>
<rect x="578" y="155" width="3" height="1"/>
<rect x="600" y="155" width="3" height="1"/>
<rect x="578" y="154" width="3" height="1"/>
<rect x="600" y="154" width="3" height="1"/>
<rect x="576" y="172" width="5" height="1"/>
<rect x="600" y="172" width="6" height="1"/>
<rect x="578" y="186" width="3" height="1"/>
<rect x="600" y="186" width="3" height="1"/>
<rect x="578" y="183" width="3" height="1"/>
<rect x="600" y="183" width="3" height="1"/>
<rect x="578" y="180" width="3" height="1"/>
<rect x="600" y="180" width="3" height="1"/>
<rect x="578" y="179" width="3" height="1"/>
<rect x="600" y="179" width="3" height="1"/>
<rect x="578" y="177" width="3" height="1"/>
<rect x="600" y="177" width="3" height="1"/>
<rect x="578" y="176" width="3" height="1"/>
<rect x="600" y="176" width="3" height="1"/>
<rect x="578" y="175" width="3" height="1"/>
<rect x="600" y="175" width="3" height="1"/>
<rect x="578" y="174" width="3" height="1"/>
<rect x="600" y="174" width="3" height="1"/>
<rect x="576" y="192" width="5" height="1"/>
<rect x="600" y="192" width="6" height="1"/>
<rect x="578" y="205" width="3" height="1"/>
<rect x="600" y="205" width="3" height="1"/>
<rect x="578" y="202" width="3" height="1"/>
<rect x="600" y="202" width="3" height="1"/>
<rect x="578" y="200" width="3" height="1"/>
<rect x="600" y="200" width="3" height="1"/>
<rect x="578" y="198" width="3" height="1"/>
<rect x="600" y="198" width="3" height="1"/>
<rect x="578" y="196" width="3" height="1"/>
<rect x="600" y="196" width="3" height="1"/>
<rect x="578" y="195" width="3" height="1"/>
<rect x="600" y="195" width="3" height="1"/>
<rect x="578" y="194" width="3" height="1"/>
<rect x="600" y="194" width="3" height="1"/>
<rect x="578" y="193" width="3" height="1"/>
<rect x="600" y="193" width="3" height="1"/>
<rect x="576" y="211" width="5" height="1"/>
<rect x="600" y="211" width="6" height="1"/>
<rect x="578" y="225" width="3" height="1"/>
<rect x="600" y="225" width="3" height="1"/>
<rect x="578" y="221" width="3" height="1"/>
<rect x="600" y="221" width="3" height="1"/>
<rect x="578" y="219" width="3" height="1"/>
<rect x="600" y="219" width="3" height="1"/>
<rect x="578" y="217" width="3" height="1"/>
<rect x="600" y="217" width="3" height="1"/>
<rect x="578" y="216" width="3" height="1"/>
<rect x="600" y="216" width="3" height="1"/>
<rect x="578" y="214" width="3" height="1"/>
<rect x="600" y="214" width="3" height="1"/>
<rect x="578" y="213" width="3" height="1"/>
<rect x="600" y="213" width="3" height="1"/>
<rect x="578" y="212" width="3" height="1"/>
<rect x="600" y="212" width="3" height="1"/>
<rect x="576" y="230" width="5" height="1"/>
<rect x="600" y="230" width="6" height="1"/>
<rect x="580" y="249" width="1" height="78"/>
<rect x="600" y="249" width="1" height="78"/>
<rect x="580" y="326" width="21" height="1"/>
<rect x="576" y="249" width="5" height="1"/>
<rect x="600" y="249" width="6" height="1"/>
<rect x="578" y="268" width="3" height="1"/>
<rect x="600" y="268" width="3" height="1"/>
<rect x="578" y="263" width="3" height="1"/>
<rect x="600" y="263" width="3" height="1"/>
<rect x="578" y="260" width="3" height="1"/>
<rect x="600" y="260" width="3" height="1"/>
<rect x="578" y="257" width="3" height="1"/>
<rect x="600" y="257" width="3" height="1"/>
<rect x="578" y="255" width="3" height="1"/>
<rect x="600" y="255" width="3" height="1"/>
<rect x="578" y="254" width="3" height="1"/>
<rect x="600" y="254" width="3" height="1"/>
<rect x="578" y="252" width="3" height="1"/>
<rect x="600" y="252" width="3" height="1"/>
<rect x="578" y="251" width="3" height="1"/>
<rect x="600" y="251" width="3" height="1"/>
<rect x="576" y="275" width="5" height="1"/>
<rect x="600" y="275" width="6" height="1"/>
<rect x="578" y="294" width="3" height="1"/>
<rect x="600" y="294" width="3" height="1"/>
<rect x="578" y="289" width="3" height="1"/>
<rect x="600" y="289" width="3" height="1"/>
<rect x="578" y="286" width="3" height="1"/>
<rect x="600" y="286" width="3" height="1"/>
<rect x="578" y="283" width="3" height="1"/>
<rect x="600" y="283" width="3" height="1"/>
<rect x="578" y="281" width="3" height="1"/>
<rect x="600" y="281" width="3" height="1"/>
<rect x="578" y="280" width="3" height="1"/>
<rect x="600" y="280" width="3" height="1"/>
<rect x="578" y="278" width="3" height="1"/>
<rect x="600" y="278" width="3" height="1"/>
<rect x="578" y="277" width="3" height="1"/>
<rect x="600" y="277" width="3" height="1"/>
<rect x="576" y="301" width="5" height="1"/>
<rect x="600" y="301" width="6" height="1"/>
<rect x="578" y="320" width="3" height="1"/>
<rect x="600" y="320" width="3" height="1"/>
<rect x="578" y="315" width="3" height="1"/>
<rect x="600" y="315" width="3" height="1"/>
<rect x="578" y="312" width="3" height="1"/>
<rect x="600" y="312" width="3" height="1"/>
<rect x="578" y="309" width="3" height="1"/>
<rect x="600" y="309" width="3" height="1"/>
<rect x="578" y="307" width="3" height="1"/>
<rect x="600" y="307" width="3" height="1"/>
<rect x="578" y="306" width="3" height="1"/>
<rect x="600" y="306" width="3" height="1"/>
<rect x="578" y="304" width="3" height="1"/>
<rect x="600" y="304" width="3" height="1"/>
<rect x="578" y="303" width="3" height="1"/>
<rect x="600" y="303" width="3" height="1"/>
<rect x="576" y="326" width="5" height="1"/>
<rect x="600" y="326" width="6" height="1"/>
<rect x="580" y="364" width="1" height="78"/>
<rect x="600" y="364" width="1" height="78"/>
<rect x="580" y="441" width="21" height="1"/>
<rect x="576" y="364" width="5" height="1"/>
<rect x="600" y="364" width="6" height="1"/>
<rect x="578" y="375" width="3" height="1"/>
<rect x="600" y="375" width="3" height="1"/>
<rect x="578" y="373" width="3" height="1"/>
<rect x="600" y="373" width="3" height="1"/>
<rect x="578" y="371" width="3" height="1"/>
<rect x="600" y="371" width="3" height="1"/>
<rect x="578" y="369" width="3" height="1"/>
<rect x="600" y="369" width="3" height="1"/>
<rect x="578" y="368" width="3" height="1"/>
<rect x="600" y="368" width="3" height="1"/>
<rect x="578" y="367" width="3" height="1"/>
<rect x="600" y="367" width="3" height="1"/>
<rect x="578" y="366" width="3" height="1"/>
<rect x="600" y="366" width="3" height="1"/>
<rect x="578" y="365" width="3" height="1"/>
<rect x="600" y="365" width="3" height="1"/>
<rect x="576" y="379" width="5" height="1"/>
<rect x="600" y="379" width="6" height="1"/>
<rect x="578" y="391" width="3" height="1"/>
<rect x="600" y="391" width="3" height="1"/>
<rect x="578" y="388" width="3" height="1"/>
<rect x="600" y="388" width="3" height="1"/>
<rect x="578" y="386" width="3" height="1"/>
<rect x="600" y="386" width="3" height="1"/>
<rect x="578" y="385" width="3" height="1"/>
<rect x="600" y="385" width="3" height="1"/>
<rect x="578" y="383" width="3" height="1"/>
<rect x="600" y="383" width="3" height="1"/>
<rect x="578" y="382" width="3" height="1"/>
<rect x="600" y="382" width="3" height="1"/>
<rect x="578" y="381" width="3" height="1"/>
<rect x="600" y="381" width="3" height="1"/>
<rect x="578" y="381" width="3" height="1"/>
<rect x="600" y="381" width="3" height="1"/>
<rect x="576" y="395" width="5" height="1"/>
<rect x="600" y="395" width="6" height="1"/>
<rect x="578" y="406" width="3" height="1"/>
<rect x="600" y="406" width="3" height="1"/>
<rect x="578" y="403" width="3" height="1"/>
<rect x="600" y="403" width="3" height="1"/>
<rect x="578" y="401" width="3" height="1"/>
<rect x="600" y="401" width="3" height="1"/>
<rect x="578" y="400" width="3" height="1"/>
<rect x="600" y="400" width="3" height="1"/>
<rect x="578" y="399" width="3" height="1"/>
<rect x="600" y="399" width="3" height="1"/>
<rect x="578" y="398" width="3" height="1"/>
<rect x="600" y="398" width="3" height="1"/>
<rect x="578" y="397" width="3" height="1"/>
<rect x="600" y="397" width="3" height="1"/>
<rect x="578" y="396" width="3" height="1"/>
<rect x="600" y="396" width="3" height="1"/>
<rect x="576" y="410" width="5" height="1"/>
<rect x="600" y="410" width="6" height="1"/>
<rect x="578" y="421" width="3" height="1"/>
<rect x="600" y="421" width="3" height="1"/>
<rect x="578" y="419" width="3" height="1"/>
<rect x="600" y="419" width="3" height="1"/>
<rect x="578" y="417" width="3" height="1"/>
<rect x="600" y="417" width="3" height="1"/>
<rect x="578" y="415" width="3" height="1"/>
<rect x="600" y="415" width="3" height="1"/>
<rect x="578" y="414" width="3" height="1"/>
<rect x="600" y="414" width="3" height="1"/>
<rect x="578" y="413" width="3" height="1"/>
<rect x="600" y="413" width="3" height="1"/>
<rect x="578" y="412" width="3" height="1"/>
<rect x="600" y="412" width="3" height="1"/>
<rect x="578" y="411" width="3" height="1"/>
<rect x="600" y="411" width="3" height="1"/>
<rect x="576" y="426" width="5" height="1"/>
<rect x="600" y="426" width="6" height="1"/>
<rect x="578" y="437" width="3" height="1"/>
<rect x="600" y="437" width="3" height="1"/>
<rect x="578" y="434" width="3" height="1"/>
<rect x="600" y="434" width="3" height="1"/>
<rect x="578" y="432" width="3" height="1"/>
<rect x="600" y="432" width="3" height="1"/>
<rect x="578" y="431" width="3" height="1"/>
<rect x="600" y="431" width="3" height="1"/>
<rect x="578" y="430" width="3" height="1"/>
<rect x="600" y="430" width="3" height="1"/>
<rect x="578" y="428" width="3" height="1"/>
<rect x="600" y="428" width="3" height="1"/>
<rect x="578" y="428" width="3" height="1"/>
<rect x="600" y="428" width="3" height="1"/>
<rect x="578" y="427" width="3" height="1"/>
<rect x="600" y="427" width="3" height="1"/>
<rect x="576" y="441" width="5" height="1"/>
<rect x="600" y="441" width="6" height="1"/>
<rect x="580" y="460" width="1" height="78"/>
<rect x="600" y="460" width="1" height="78"/>
<rect x="580" y="537" width="21" height="1"/>
<rect x="576" y="460" width="5" height="1"/>
<rect x="600" y="460" width="6" height="1"/>
<rect x="578" y="471" width="3" height="1"/>
<rect x="600" y="471" width="3" height="1"/>
<rect x="578" y="469" width="3" height="1"/>
<rect x="600" y="469" width="3" height="1"/>
<rect x="578" y="467" width="3" height="1"/>
<rect x="600" y="467" width="3" height="1"/>
<rect x="578" y="465" width="3" height="1"/>
<rect x="600" y="465" width="3" height="1"/>
<rect x="578" y="464" width="3" height="1"/>
<rect x="600" y="464" width="3" height="1"/>
<rect x="578" y="463" width="3" height="1"/>
<rect x="600" y="463" width="3" height="1"/>
<rect x="578" y="462" width="3" height="1"/>
<rect x="600" y="462" width="3" height="1"/>
<rect x="578" y="461" width="3" height="1"/>
<rect x="600" y="461" width="3" height="1"/>
<rect x="576" y="475" width="5" height="1"/>
<rect x="600" y="475" width="6" height="1"/>
<rect x="578" y="487" width="3" height="1"/>
<rect x="600" y="487" width="3" height="1"/>
<rect x="578" y="484" width="3" height="1"/>
<rect x="600" y="484" width="3" height="1"/>
<rect x="578" y="482" width="3" height="1"/>
<rect x="600" y="482" width="3" height="1"/>
<rect x="578" y="481" width="3" height="1"/>
<rect x="600" y="481" width="3" height="1"/>
<rect x="578" y="479" width="3" height="1"/>
<rect x="600" y="479" width="3" height="1"/>
<rect x="578" y="478" width="3" height="1"/>
<rect x="600" y="478" width="3" height="1"/>
<rect x="578" y="477" width="3" height="1"/>
<rect x="600" y="477" width="3" height="1"/>
<rect x="578" y="477" width="3" height="1"/>
<rect x="600" y="477" width="3" height="1"/>
<rect x="576" y="491" width="5" height="1"/>
<rect x="600" y="491" width="6" height="1"/>
<rect x="578" y="502" width="3" height="1"/>
<rect x="600" y="502" width="3" height="1"/>
<rect x="578" y="499" width="3" height="1"/>
<rect x="600" y="499" width="3" height="1"/>
<rect x="578" y="497" width="3" height="1"/>
<rect x="600" y="497" width="3" height="1"/>
<rect x="578" y="496" width="3" height="1"/>
<rect x="600" y="496" width="3" height="1"/>
<rect x="578" y="495" width="3" height="1"/>
<rect x="600" y="495" width="3" height="1"/>
<rect x="578" y="494" width="3" height="1"/>
<rect x="600" y="494" width="3" height="1"/>
<rect x="578" y="493" width="3" height="1"/>
<rect x="600" y="493" width="3" height="1"/>
<rect x="578" y="492" width="3" height="1"/>
<rect x="600" y="492" width="3" height="1"/>
<rect x="576" y="506" width="5" height="1"/>
<rect x="600" y="506" width="6" height="1"/>
<rect x="578" y="517" width="3" height="1"/>
<rect x="600" y="517" width="3" height="1"/>
<rect x="578" y="515" width="3" height="1"/>
<rect x="600" y="515" width="3" height="1"/>
<rect x="578" y="513" width="3" height="1"/>
<rect x="600" y="513" width="3" height="1"/>
<rect x="578" y="511" width="3" height="1"/>
<rect x="600" y="511" width="3" height="1"/>
<rect x="578" y="510" width="3" height="1"/>
<rect x="600" y="510" width="3" height="1"/>
<rect x="578" y="509" width="3" height="1"/>
<rect x="600" y="509" width="3" height="1"/>
<rect x="578" y="508" width="3" height="1"/>
<rect x="600" y="508" width="3" height="1"/>
<rect x="578" y="507" width="3" height="1"/>
<rect x="600" y="507" width="3" height="1"/>
<rect x="576" y="522" width="5" height="1"/>
<rect x="600" y="522" width="6" height="1"/>
<rect x="578" y="533" width="3" height="1"/>
<rect x="600" y="533" width="3" height="1"/>
<rect x="578" y="530" width="3" height="1"/>
<rect x="600" y="530" width="3" height="1"/>
<rect x="578" y="528" width="3" height="1"/>
<rect x="600" y="528" width="3" height="1"/>
<rect x="578" y="527" width="3" height="1"/>
<rect x="600" y="527" width="3" height="1"/>
<rect x="578" y="526" width="3" height="1"/>
<rect x="600" y="526" width="3" height="1"/>
<rect x="578" y="524" width="3" height="1"/>
<rect x="600" y="524" width="3" height="1"/>
<rect x="578" y="524" width="3" height="1"/>
<rect x="600" y="524" width="3" height="1"/>
<rect x="578" y="523" width="3" height="1"/>
<rect x="600" y="523" width="3" height="1"/>
<rect x="576" y="537" width="5" height="1"/>
<rect x="600" y="537" width="6" height="1"/>
<rect x="580" y="556" width="1" height="78"/>
<rect x="600" y="556" width="1" height="78"/>
<rect x="580" y="633" width="21" height="1"/>
<rect x="576" y="556" width="5" height="1"/>
<rect x="600" y="556" width="6" height="1"/>
<rect x="578" y="567" width="3" height="1"/>
<rect x="600" y="567" width="3" height="1"/>
<rect x="578" y="565" width="3" height="1"/>
<rect x="600" y="565" width="3" height="1"/>
<rect x="578" y="563" width="3" height="1"/>
<rect x="600" y="563" width="3" height="1"/>
<rect x="578" y="561" width="3" height="1"/>
<rect x="600" y="561" width="3" height="1"/>
<rect x="578" y="560" width="3" height="1"/>
<rect x="600" y="560" width="3" height="1"/>
<rect x="578" y="559" width="3" height="1"/>
<rect x="600" y="559" width="3" height="1"/>
<rect x="578" y="558" width="3" height="1"/>
<rect x="600" y="558" width="3" height="1"/>
<rect x="578" y="557" width="3" height="1"/>
<rect x="600" y="557" width="3" height="1"/>
<rect x="576" y="571" width="5" height="1"/>
<rect x="600" y="571" width="6" height="1"/>
<rect x="578" y="583" width="3" height="1"/>
<rect x="600" y="583" width="3" height="1"/>
<rect x="578" y="580" width="3" height="1"/>
<rect x="600" y="580" width="3" height="1"/>
<rect x="578" y="578" width="3" height="1"/>
<rect x="600" y="578" width="3" height="1"/>
<rect x="578" y="577" width="3" height="1"/>
<rect x="600" y="577" width="3" height="1"/>
<rect x="578" y="575" width="3" height="1"/>
<rect x="600" y="575" width="3" height="1"/>
<rect x="578" y="574" width="3" height="1"/>
<rect x="600" y="574" width="3" height="1"/>
<rect x="578" y="573" width="3" height="1"/>
<rect x="600" y="573" width="3" height="1"/>
<rect x="578" y="573" width="3" height="1"/>
<rect x="600" y="573" width="3" height="1"/>
<rect x="576" y="587" width="5" height="1"/>
<rect x="600" y="587" width="6" height="1"/>
<rect x="578" y="598" width="3" height="1"/>
<rect x="600" y="598" width="3" height="1"/>
<rect x="578" y="595" width="3" height="1"/>
<rect x="600" y="595" width="3" height="1"/>
<rect x="578" y="593" width="3" height="1"/>
<rect x="600" y="593" width="3" height="1"/>
<rect x="578" y="592" width="3" height="1"/>
<rect x="600" y="592" width="3" height="1"/>
<rect x="578" y="591" width="3" height="1"/>
<rect x="600" y="591" width="3" height="1"/>
<rect x="578" y="590" width="3" height="1"/>
<rect x="600" y="590" width="3" height="1"/>
<rect x="578" y="589" width="3" height="1"/>
<rect x="600" y="589" width="3" height="1"/>
<rect x="578" y="588" width="3" height="1"/>
<rect x="600" y="588" width="3" height="1"/>
<rect x="576" y="602" width="5" height="1"/>
<rect x="600" y="602" width="6" height="1"/>
<rect x="578" y="613" width="3" height="1"/>
<rect x="600" y="613" width="3" height="1"/>
<rect x="578" y="611" width="3" height="1"/>
<rect x="600" y="611" width="3" height="1"/>
<rect x="578" y="609" width="3" height="1"/>
<rect x="600" y="609" width="3" height="1"/>
<rect x="578" y="607" width="3" height="1"/>
<rect x="600" y="607" width="3" height="1"/>
<rect x="578" y="606" width="3" height="1"/>
<rect x="600" y="606" width="3" height="1"/>
<rect x="578" y="605" width="3" height="1"/>
<rect x="600" y="605" width="3" height="1"/>
<rect x="578" y="604" width="3" height="1"/>
<rect x="600" y="604" width="3" height="1"/>
<rect x="578" y="603" width="3" height="1"/>
<rect x="600" y="603" width="3" height="1"/>
<rect x="576" y="618" width="5" height="1"/>
<rect x="600" y="618" width="6" height="1"/>
<rect x="578" y="629" width="3" height="1"/>
<rect x="600" y="629" width="3" height="1"/>
<rect x="578" y="626" width="3" height="1"/>
<rect x="600" y="626" width="3" height="1"/>
<rect x="578" y="624" width="3" height="1"/>
<rect x="600" y="624" width="3" height="1"/>
<rect x="578" y="623" width="3" height="1"/>
<rect x="600" y="623" width="3" height="1"/>
<rect x="578" y="622" width="3" height="1"/>
<rect x="600" y="622" width="3" height="1"/>
<rect x="578" y="620" width="3" height="1"/>
<rect x="600" y="620" width="3" height="1"/>
<rect x="578" y="620" width="3" height="1"/>
<rect x="600" y="620" width="3" height="1"/>
<rect x="578" y="619" width="3" height="1"/>
<rect x="600" y="619" width="3" height="1"/>
<rect x="576" y="633" width="5" height="1"/>
<rect x="600" y="633" width="6" height="1"/>
</g>
<g opacity="0.999">
<text x="120.5" y="33.0" font-size="16.0" textLength="41.3" lengthAdjust="spacingAndGlyphs" stroke="#fff" stroke-width="0.15">Polar</text>
<text x="170.9" y="33.0" font-size="16.0" textLength="28.3" lengthAdjust="spacingAndGlyphs" stroke="#fff" stroke-width="0.15">PWI</text>
<text x="207.1" y="33.0" font-size="16.0" textLength="41.7" lengthAdjust="spacingAndGlyphs" stroke="#fff" stroke-width="0.15">LFWR</text>
<text x="257.6" y="33.0" font-size="16.0" textLength="72.9" lengthAdjust="spacingAndGlyphs" stroke="#fff" stroke-width="0.15">Channels</text>
<text x="340.2" y="33.0" font-size="16.0" stroke="#fff" stroke-width="0.15">1</text>
<text x="359.7" y="33.0" font-size="16.0" stroke="#fff" stroke-width="0.15">−</text>
<text x="380.5" y="33.0" font-size="16.0" stroke="#fff" stroke-width="0.15">6</text>
<text x="400.1" y="33.0" font-size="16.0" textLength="57.4" lengthAdjust="spacingAndGlyphs" stroke="#fff" stroke-width="0.15">Despun</text>
<text x="67.2" y="134.1" font-size="12.3" text-anchor="end">0</text>
<text x="67.2" y="127.4" font-size="12.3" text-anchor="end">5</text>
<text x="67.2" y="114.5" font-size="12.3" text-anchor="end" textLength="16.4" lengthAdjust="spacingAndGlyphs">10</text>
<text x="67.2" y="101.7" font-size="12.3" text-anchor="end" textLength="16.4" lengthAdjust="spacingAndGlyphs">15</text>
<text x="67.2" y="88.9" font-size="12.3" text-anchor="end" textLength="16.4" lengthAdjust="spacingAndGlyphs">20</text>
<text x="67.2" y="76.0" font-size="12.3" text-anchor="end" textLength="16.4" lengthAdjust="spacingAndGlyphs">25</text>
<text x="67.2" y="66.2" font-size="12.3" text-anchor="end" textLength="16.4" lengthAdjust="spacingAndGlyphs">30</text>
<text transform="translate(39,97.4) rotate(-90)" font-size="13.3" text-anchor="middle" textLength="84.3" lengthAdjust="spacingAndGlyphs">Ex’ freq (Hz)</text>
<text x="67.2" y="230.1" font-size="12.3" text-anchor="end">0</text>
<text x="67.2" y="223.4" font-size="12.3" text-anchor="end">5</text>
<text x="67.2" y="210.5" font-size="12.3" text-anchor="end" textLength="16.4" lengthAdjust="spacingAndGlyphs">10</text>
<text x="67.2" y="197.7" font-size="12.3" text-anchor="end" textLength="16.4" lengthAdjust="spacingAndGlyphs">15</text>
<text x="67.2" y="184.9" font-size="12.3" text-anchor="end" textLength="16.4" lengthAdjust="spacingAndGlyphs">20</text>
<text x="67.2" y="172.0" font-size="12.3" text-anchor="end" textLength="16.4" lengthAdjust="spacingAndGlyphs">25</text>
<text x="67.2" y="162.2" font-size="12.3" text-anchor="end" textLength="16.4" lengthAdjust="spacingAndGlyphs">30</text>
<text transform="translate(39,193.0) rotate(-90)" font-size="13.3" text-anchor="middle" textLength="86.0" lengthAdjust="spacingAndGlyphs">Ey’ freq (Hz)</text>
<text x="67.2" y="326.1" font-size="12.3" text-anchor="end">0</text>
<text x="67.2" y="319.4" font-size="12.3" text-anchor="end">5</text>
<text x="67.2" y="306.5" font-size="12.3" text-anchor="end" textLength="16.4" lengthAdjust="spacingAndGlyphs">10</text>
<text x="67.2" y="293.7" font-size="12.3" text-anchor="end" textLength="16.4" lengthAdjust="spacingAndGlyphs">15</text>
<text x="67.2" y="280.9" font-size="12.3" text-anchor="end" textLength="16.4" lengthAdjust="spacingAndGlyphs">20</text>
<text x="67.2" y="268.0" font-size="12.3" text-anchor="end" textLength="16.4" lengthAdjust="spacingAndGlyphs">25</text>
<text x="67.2" y="258.2" font-size="12.3" text-anchor="end" textLength="16.4" lengthAdjust="spacingAndGlyphs">30</text>
<text transform="translate(39,288.6) rotate(-90)" font-size="13.3" text-anchor="middle" textLength="83.1" lengthAdjust="spacingAndGlyphs">Ez freq (Hz)</text>
<text x="67.2" y="441.1" font-size="12.3" text-anchor="end">0</text>
<text x="67.2" y="434.4" font-size="12.3" text-anchor="end">5</text>
<text x="67.2" y="421.5" font-size="12.3" text-anchor="end" textLength="16.4" lengthAdjust="spacingAndGlyphs">10</text>
<text x="67.2" y="408.7" font-size="12.3" text-anchor="end" textLength="16.4" lengthAdjust="spacingAndGlyphs">15</text>
<text x="67.2" y="395.9" font-size="12.3" text-anchor="end" textLength="16.4" lengthAdjust="spacingAndGlyphs">20</text>
<text x="67.2" y="383.0" font-size="12.3" text-anchor="end" textLength="16.4" lengthAdjust="spacingAndGlyphs">25</text>
<text x="67.2" y="373.2" font-size="12.3" text-anchor="end" textLength="16.4" lengthAdjust="spacingAndGlyphs">30</text>
<text transform="translate(39,403.7) rotate(-90)" font-size="13.3" text-anchor="middle" textLength="87.3" lengthAdjust="spacingAndGlyphs">Bx’ freq (Hz)</text>
<text x="67.2" y="537.1" font-size="12.3" text-anchor="end">0</text>
<text x="67.2" y="530.4" font-size="12.3" text-anchor="end">5</text>
<text x="67.2" y="517.5" font-size="12.3" text-anchor="end" textLength="16.4" lengthAdjust="spacingAndGlyphs">10</text>
<text x="67.2" y="504.7" font-size="12.3" text-anchor="end" textLength="16.4" lengthAdjust="spacingAndGlyphs">15</text>
<text x="67.2" y="491.9" font-size="12.3" text-anchor="end" textLength="16.4" lengthAdjust="spacingAndGlyphs">20</text>
<text x="67.2" y="479.0" font-size="12.3" text-anchor="end" textLength="16.4" lengthAdjust="spacingAndGlyphs">25</text>
<text x="67.2" y="469.2" font-size="12.3" text-anchor="end" textLength="16.4" lengthAdjust="spacingAndGlyphs">30</text>
<text transform="translate(39,499.3) rotate(-90)" font-size="13.3" text-anchor="middle" textLength="86.5" lengthAdjust="spacingAndGlyphs">By’ freq (Hz)</text>
<text x="67.2" y="633.1" font-size="12.3" text-anchor="end">0</text>
<text x="67.2" y="626.4" font-size="12.3" text-anchor="end">5</text>
<text x="67.2" y="613.5" font-size="12.3" text-anchor="end" textLength="16.4" lengthAdjust="spacingAndGlyphs">10</text>
<text x="67.2" y="600.7" font-size="12.3" text-anchor="end" textLength="16.4" lengthAdjust="spacingAndGlyphs">15</text>
<text x="67.2" y="587.9" font-size="12.3" text-anchor="end" textLength="16.4" lengthAdjust="spacingAndGlyphs">20</text>
<text x="67.2" y="575.0" font-size="12.3" text-anchor="end" textLength="16.4" lengthAdjust="spacingAndGlyphs">25</text>
<text x="67.2" y="565.2" font-size="12.3" text-anchor="end" textLength="16.4" lengthAdjust="spacingAndGlyphs">30</text>
<text transform="translate(39,595.9) rotate(-90)" font-size="13.3" text-anchor="middle" textLength="84.2" lengthAdjust="spacingAndGlyphs">Bz freq (Hz)</text>
<text x="571.6" y="59.6" font-size="12.6" text-anchor="end">6</text>
<rect x="553.2" y="55" width="9.2" height="1" shape-rendering="crispEdges"/>
<text x="551.9" y="67.0" font-size="14.0" text-anchor="end" textLength="15.4" lengthAdjust="spacingAndGlyphs">10</text>
<text x="571.6" y="74.6" font-size="12.6" text-anchor="end">7</text>
<rect x="553.2" y="70" width="9.2" height="1" shape-rendering="crispEdges"/>
<text x="551.9" y="82.0" font-size="14.0" text-anchor="end" textLength="15.4" lengthAdjust="spacingAndGlyphs">10</text>
<text x="571.6" y="93.9" font-size="12.6" text-anchor="end">8</text>
<rect x="553.2" y="89" width="9.2" height="1" shape-rendering="crispEdges"/>
<text x="551.9" y="101.3" font-size="14.0" text-anchor="end" textLength="15.4" lengthAdjust="spacingAndGlyphs">10</text>
<text x="571.6" y="113.1" font-size="12.6" text-anchor="end">9</text>
<rect x="553.2" y="108" width="9.2" height="1" shape-rendering="crispEdges"/>
<text x="551.9" y="120.5" font-size="14.0" text-anchor="end" textLength="15.4" lengthAdjust="spacingAndGlyphs">10</text>
<text x="571.6" y="127.8" font-size="12.6" text-anchor="end" textLength="15.0" lengthAdjust="spacingAndGlyphs">10</text>
<rect x="545.8" y="123" width="9.2" height="1" shape-rendering="crispEdges"/>
<text x="544.0" y="135.2" font-size="14.0" text-anchor="end" textLength="15.4" lengthAdjust="spacingAndGlyphs">10</text>
<text x="571.6" y="155.6" font-size="12.6" text-anchor="end">6</text>
<rect x="553.2" y="151" width="9.2" height="1" shape-rendering="crispEdges"/>
<text x="551.9" y="163.0" font-size="14.0" text-anchor="end" textLength="15.4" lengthAdjust="spacingAndGlyphs">10</text>
<text x="571.6" y="170.7" font-size="12.6" text-anchor="end">7</text>
<rect x="553.2" y="166" width="9.2" height="1" shape-rendering="crispEdges"/>
<text x="551.9" y="178.1" font-size="14.0" text-anchor="end" textLength="15.4" lengthAdjust="spacingAndGlyphs">10</text>
<text x="571.6" y="189.9" font-size="12.6" text-anchor="end">8</text>
<rect x="553.2" y="185" width="9.2" height="1" shape-rendering="crispEdges"/>
<text x="551.9" y="197.3" font-size="14.0" text-anchor="end" textLength="15.4" lengthAdjust="spacingAndGlyphs">10</text>
<text x="571.6" y="209.2" font-size="12.6" text-anchor="end">9</text>
<rect x="553.2" y="204" width="9.2" height="1" shape-rendering="crispEdges"/>
<text x="551.9" y="216.6" font-size="14.0" text-anchor="end" textLength="15.4" lengthAdjust="spacingAndGlyphs">10</text>
<text x="571.6" y="223.8" font-size="12.6" text-anchor="end" textLength="15.0" lengthAdjust="spacingAndGlyphs">10</text>
<rect x="545.8" y="219" width="9.2" height="1" shape-rendering="crispEdges"/>
<text x="544.0" y="231.2" font-size="14.0" text-anchor="end" textLength="15.4" lengthAdjust="spacingAndGlyphs">10</text>
<text x="571.6" y="251.6" font-size="12.6" text-anchor="end">6</text>
<rect x="553.2" y="247" width="9.2" height="1" shape-rendering="crispEdges"/>
<text x="551.9" y="259.0" font-size="14.0" text-anchor="end" textLength="15.4" lengthAdjust="spacingAndGlyphs">10</text>
<text x="571.6" y="273.4" font-size="12.6" text-anchor="end">7</text>
<rect x="553.2" y="269" width="9.2" height="1" shape-rendering="crispEdges"/>
<text x="551.9" y="280.8" font-size="14.0" text-anchor="end" textLength="15.4" lengthAdjust="spacingAndGlyphs">10</text>
<text x="571.6" y="299.4" font-size="12.6" text-anchor="end">8</text>
<rect x="553.2" y="295" width="9.2" height="1" shape-rendering="crispEdges"/>
<text x="551.9" y="306.8" font-size="14.0" text-anchor="end" textLength="15.4" lengthAdjust="spacingAndGlyphs">10</text>
<text x="571.6" y="319.8" font-size="12.6" text-anchor="end">9</text>
<rect x="553.2" y="315" width="9.2" height="1" shape-rendering="crispEdges"/>
<text x="551.9" y="327.2" font-size="14.0" text-anchor="end" textLength="15.4" lengthAdjust="spacingAndGlyphs">10</text>
<text x="571.6" y="366.6" font-size="12.6" text-anchor="end">1</text>
<rect x="553.2" y="362" width="9.2" height="1" shape-rendering="crispEdges"/>
<text x="551.9" y="374.0" font-size="14.0" text-anchor="end" textLength="15.4" lengthAdjust="spacingAndGlyphs">10</text>
<text x="571.6" y="377.8" font-size="12.6" text-anchor="end">2</text>
<rect x="553.2" y="373" width="9.2" height="1" shape-rendering="crispEdges"/>
<text x="551.9" y="385.2" font-size="14.0" text-anchor="end" textLength="15.4" lengthAdjust="spacingAndGlyphs">10</text>
<text x="571.6" y="393.2" font-size="12.6" text-anchor="end">3</text>
<rect x="553.2" y="388" width="9.2" height="1" shape-rendering="crispEdges"/>
<text x="551.9" y="400.6" font-size="14.0" text-anchor="end" textLength="15.4" lengthAdjust="spacingAndGlyphs">10</text>
<text x="571.6" y="408.6" font-size="12.6" text-anchor="end">4</text>
<rect x="553.2" y="404" width="9.2" height="1" shape-rendering="crispEdges"/>
<text x="551.9" y="416.0" font-size="14.0" text-anchor="end" textLength="15.4" lengthAdjust="spacingAndGlyphs">10</text>
<text x="571.6" y="424.0" font-size="12.6" text-anchor="end">5</text>
<rect x="553.2" y="419" width="9.2" height="1" shape-rendering="crispEdges"/>
<text x="551.9" y="431.4" font-size="14.0" text-anchor="end" textLength="15.4" lengthAdjust="spacingAndGlyphs">10</text>
<text x="571.6" y="434.8" font-size="12.6" text-anchor="end">6</text>
<rect x="553.2" y="430" width="9.2" height="1" shape-rendering="crispEdges"/>
<text x="551.9" y="442.2" font-size="14.0" text-anchor="end" textLength="15.4" lengthAdjust="spacingAndGlyphs">10</text>
<text x="571.6" y="462.6" font-size="12.6" text-anchor="end">1</text>
<rect x="553.2" y="458" width="9.2" height="1" shape-rendering="crispEdges"/>
<text x="551.9" y="470.0" font-size="14.0" text-anchor="end" textLength="15.4" lengthAdjust="spacingAndGlyphs">10</text>
<text x="571.6" y="473.8" font-size="12.6" text-anchor="end">2</text>
<rect x="553.2" y="469" width="9.2" height="1" shape-rendering="crispEdges"/>
<text x="551.9" y="481.2" font-size="14.0" text-anchor="end" textLength="15.4" lengthAdjust="spacingAndGlyphs">10</text>
<text x="571.6" y="489.2" font-size="12.6" text-anchor="end">3</text>
<rect x="553.2" y="484" width="9.2" height="1" shape-rendering="crispEdges"/>
<text x="551.9" y="496.6" font-size="14.0" text-anchor="end" textLength="15.4" lengthAdjust="spacingAndGlyphs">10</text>
<text x="571.6" y="504.6" font-size="12.6" text-anchor="end">4</text>
<rect x="553.2" y="500" width="9.2" height="1" shape-rendering="crispEdges"/>
<text x="551.9" y="512.0" font-size="14.0" text-anchor="end" textLength="15.4" lengthAdjust="spacingAndGlyphs">10</text>
<text x="571.6" y="520.0" font-size="12.6" text-anchor="end">5</text>
<rect x="553.2" y="515" width="9.2" height="1" shape-rendering="crispEdges"/>
<text x="551.9" y="527.4" font-size="14.0" text-anchor="end" textLength="15.4" lengthAdjust="spacingAndGlyphs">10</text>
<text x="571.6" y="530.8" font-size="12.6" text-anchor="end">6</text>
<rect x="553.2" y="526" width="9.2" height="1" shape-rendering="crispEdges"/>
<text x="551.9" y="538.2" font-size="14.0" text-anchor="end" textLength="15.4" lengthAdjust="spacingAndGlyphs">10</text>
<text x="571.6" y="558.6" font-size="12.6" text-anchor="end">1</text>
<rect x="553.2" y="554" width="9.2" height="1" shape-rendering="crispEdges"/>
<text x="551.9" y="566.0" font-size="14.0" text-anchor="end" textLength="15.4" lengthAdjust="spacingAndGlyphs">10</text>
<text x="571.6" y="569.8" font-size="12.6" text-anchor="end">2</text>
<rect x="553.2" y="565" width="9.2" height="1" shape-rendering="crispEdges"/>
<text x="551.9" y="577.2" font-size="14.0" text-anchor="end" textLength="15.4" lengthAdjust="spacingAndGlyphs">10</text>
<text x="571.6" y="585.2" font-size="12.6" text-anchor="end">3</text>
<rect x="553.2" y="580" width="9.2" height="1" shape-rendering="crispEdges"/>
<text x="551.9" y="592.6" font-size="14.0" text-anchor="end" textLength="15.4" lengthAdjust="spacingAndGlyphs">10</text>
<text x="571.6" y="600.6" font-size="12.6" text-anchor="end">4</text>
<rect x="553.2" y="596" width="9.2" height="1" shape-rendering="crispEdges"/>
<text x="551.9" y="608.0" font-size="14.0" text-anchor="end" textLength="15.4" lengthAdjust="spacingAndGlyphs">10</text>
<text x="571.6" y="616.0" font-size="12.6" text-anchor="end">5</text>
<rect x="553.2" y="611" width="9.2" height="1" shape-rendering="crispEdges"/>
<text x="551.9" y="623.4" font-size="14.0" text-anchor="end" textLength="15.4" lengthAdjust="spacingAndGlyphs">10</text>
<text x="571.6" y="626.8" font-size="12.6" text-anchor="end">6</text>
<rect x="553.2" y="622" width="9.2" height="1" shape-rendering="crispEdges"/>
<text x="551.9" y="634.2" font-size="14.0" text-anchor="end" textLength="15.4" lengthAdjust="spacingAndGlyphs">10</text>
<text x="562.0" y="37.3" font-size="11.5" textLength="56.0" lengthAdjust="spacingAndGlyphs">(V/m)²/Hz</text>
<text x="572.2" y="344.2" font-size="9.0" textLength="34.2" lengthAdjust="spacingAndGlyphs">nT²/Hz</text>
<text x="15.4" y="654.0" font-size="12.8" textLength="32.0" lengthAdjust="spacingAndGlyphs">SCET</text>
<text x="34.0" y="672.0" font-size="12.8">R</text>
<text x="42.0" y="675.5" font-size="9.5">E</text>
<text x="32.0" y="690.0" font-size="12.8">λ</text>
<text x="40.0" y="693.5" font-size="9.5">m</text>
<text x="24.5" y="708.0" font-size="12.8" textLength="23.5" lengthAdjust="spacingAndGlyphs">MLT</text>
<text x="41.0" y="726.0" font-size="12.8">L</text>
<text x="80.0" y="654.0" font-size="12.8" text-anchor="middle" textLength="61.5" lengthAdjust="spacingAndGlyphs">00:00 24</text>
<text x="185.0" y="654.0" font-size="12.8" text-anchor="middle" textLength="61.5" lengthAdjust="spacingAndGlyphs">06:00 24</text>
<text x="290.0" y="654.0" font-size="12.8" text-anchor="middle" textLength="61.5" lengthAdjust="spacingAndGlyphs">12:00 24</text>
<text x="395.0" y="654.0" font-size="12.8" text-anchor="middle" textLength="61.5" lengthAdjust="spacingAndGlyphs">18:00 24</text>
<text x="500.0" y="654.0" font-size="12.8" text-anchor="middle" textLength="61.5" lengthAdjust="spacingAndGlyphs">00:00 25</text>
<text x="101.4" y="672.0" font-size="12.8" text-anchor="end" textLength="29.6" lengthAdjust="spacingAndGlyphs">8.47</text>
<text x="206.4" y="672.0" font-size="12.8" text-anchor="end" textLength="29.6" lengthAdjust="spacingAndGlyphs">2.25</text>
<text x="311.4" y="672.0" font-size="12.8" text-anchor="end" textLength="29.6" lengthAdjust="spacingAndGlyphs">8.01</text>
<text x="416.4" y="672.0" font-size="12.8" text-anchor="end" textLength="29.6" lengthAdjust="spacingAndGlyphs">8.31</text>
<text x="521.4" y="672.0" font-size="12.8" text-anchor="end" textLength="29.6" lengthAdjust="spacingAndGlyphs">1.89</text>
<text x="102.2" y="690.0" font-size="12.8" text-anchor="end" textLength="38.1" lengthAdjust="spacingAndGlyphs">61.87</text>
<text x="209.2" y="690.0" font-size="12.8" text-anchor="end" textLength="49.1" lengthAdjust="spacingAndGlyphs">−34.23</text>
<text x="312.2" y="690.0" font-size="12.8" text-anchor="end" textLength="38.1" lengthAdjust="spacingAndGlyphs">64.73</text>
<text x="417.2" y="690.0" font-size="12.8" text-anchor="end" textLength="38.1" lengthAdjust="spacingAndGlyphs">61.03</text>
<text x="524.2" y="690.0" font-size="12.8" text-anchor="end" textLength="49.1" lengthAdjust="spacingAndGlyphs">−85.31</text>
<text x="101.4" y="708.0" font-size="12.8" text-anchor="end" textLength="29.6" lengthAdjust="spacingAndGlyphs">4.98</text>
<text x="206.4" y="708.0" font-size="12.8" text-anchor="end" textLength="29.6" lengthAdjust="spacingAndGlyphs">4.89</text>
<text x="312.2" y="708.0" font-size="12.8" text-anchor="end" textLength="38.1" lengthAdjust="spacingAndGlyphs">18.58</text>
<text x="416.4" y="708.0" font-size="12.8" text-anchor="end" textLength="29.6" lengthAdjust="spacingAndGlyphs">3.40</text>
<text x="522.2" y="708.0" font-size="12.8" text-anchor="end" textLength="38.1" lengthAdjust="spacingAndGlyphs">20.28</text>
<text x="102.2" y="726.0" font-size="12.8" text-anchor="end" textLength="38.1" lengthAdjust="spacingAndGlyphs">37.96</text>
<text x="206.4" y="726.0" font-size="12.8" text-anchor="end" textLength="29.6" lengthAdjust="spacingAndGlyphs">3.40</text>
<text x="312.2" y="726.0" font-size="12.8" text-anchor="end" textLength="38.1" lengthAdjust="spacingAndGlyphs">43.70</text>
<text x="417.2" y="726.0" font-size="12.8" text-anchor="end" textLength="38.1" lengthAdjust="spacingAndGlyphs">35.18</text>
<text x="523.0" y="726.0" font-size="12.8" text-anchor="end" textLength="46.6" lengthAdjust="spacingAndGlyphs">285.41</text>
<text x="147.0" y="744.0" font-size="12.8" textLength="287.0" lengthAdjust="spacingAndGlyphs">1997/01/24 00:00 to 1997/01/25 00:00</text>
<text x="570.5" y="765.2" font-size="8.0" textLength="67.0" lengthAdjust="spacingAndGlyphs" font-weight="bold">UIowa 19980803</text>
</g>
</svg></body></html>
